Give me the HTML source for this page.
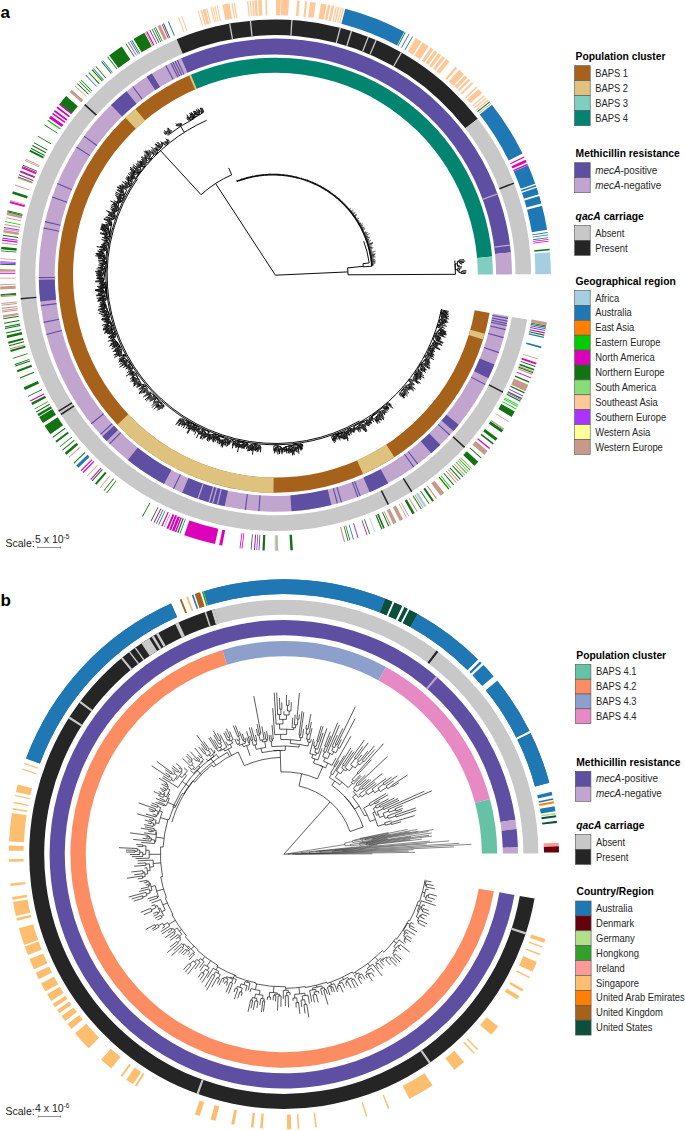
<!DOCTYPE html>
<html><head><meta charset="utf-8">
<style>
html,body{margin:0;padding:0;background:#fff;width:685px;height:1130px;overflow:hidden}
svg{display:block;font-family:"Liberation Sans",sans-serif}
</style></head><body>
<svg width="685" height="1130" viewBox="0 0 685 1130">
<path d="M489.60,312.97A217.5,217.5 0 1 1 190.77,74.84L196.64,88.75A202.4,202.4 0 1 0 474.73,310.35Z" fill="#A6611A"/>
<path d="M190.77,74.84A217.5,217.5 0 0 1 492.11,256.62L477.06,257.91A202.4,202.4 0 0 0 196.64,88.75Z" fill="#018571"/>
<path d="M492.11,256.62A217.5,217.5 0 0 1 492.90,274.44L477.80,274.49A202.4,202.4 0 0 0 477.06,257.91Z" fill="#80CDC1"/>
<path d="M484.89,333.69A217.5,217.5 0 0 1 483.17,339.52L468.75,335.05A202.4,202.4 0 0 0 470.34,329.63Z" fill="#DFC27D"/>
<path d="M394.50,457.20A217.5,217.5 0 0 1 363.17,474.20L357.08,460.39A202.4,202.4 0 0 0 386.23,444.56Z" fill="#DFC27D"/>
<path d="M273.50,492.69A217.5,217.5 0 0 1 117.37,424.64L128.34,414.27A202.4,202.4 0 0 0 273.63,477.59Z" fill="#DFC27D"/>
<path d="M125.41,117.69A217.5,217.5 0 0 1 135.30,108.83L145.03,120.38A202.4,202.4 0 0 0 135.82,128.63Z" fill="#DFC27D"/>
<path d="M189.02,75.59A217.5,217.5 0 0 1 190.77,74.84L196.64,88.75A202.4,202.4 0 0 0 195.02,89.45Z" fill="#DFC27D"/>
<path d="M508.41,316.29A236.6,236.6 0 1 1 181.06,58.22L187.40,72.80A220.7,220.7 0 1 0 492.75,313.52Z" fill="#C2A5CF"/>
<path d="M181.06,58.22A236.6,236.6 0 0 1 510.91,252.52L495.08,254.05A220.7,220.7 0 0 0 187.40,72.80Z" fill="#5E4FA2"/>
<path d="M510.91,252.52A236.6,236.6 0 0 1 512.00,274.37L496.10,274.43A220.7,220.7 0 0 0 495.08,254.05Z" fill="#C2A5CF"/>
<path d="M494.46,364.60A236.6,236.6 0 0 1 488.42,378.18L474.10,371.26A220.7,220.7 0 0 0 479.74,358.59Z" fill="#5E4FA2"/>
<path d="M458.75,424.74A236.6,236.6 0 0 1 453.42,431.05L441.46,420.57A220.7,220.7 0 0 0 446.43,414.69Z" fill="#5E4FA2"/>
<path d="M440.35,444.82A236.6,236.6 0 0 1 431.25,453.22L420.77,441.26A220.7,220.7 0 0 0 429.26,433.42Z" fill="#5E4FA2"/>
<path d="M388.30,483.13A236.6,236.6 0 0 1 369.74,492.18L363.40,477.60A220.7,220.7 0 0 0 380.71,469.15Z" fill="#5E4FA2"/>
<path d="M331.44,505.07A236.6,236.6 0 0 1 291.49,511.25L290.41,495.39A220.7,220.7 0 0 0 327.67,489.62Z" fill="#5E4FA2"/>
<path d="M224.59,506.28A236.6,236.6 0 0 1 182.19,492.67L188.46,478.05A220.7,220.7 0 0 0 228.01,490.75Z" fill="#5E4FA2"/>
<path d="M163.96,483.91A236.6,236.6 0 0 1 127.79,460.11L137.71,447.68A220.7,220.7 0 0 0 171.45,469.89Z" fill="#5E4FA2"/>
<path d="M106.64,441.04A236.6,236.6 0 0 1 102.36,436.56L113.99,425.72A220.7,220.7 0 0 0 117.99,429.89Z" fill="#5E4FA2"/>
<path d="M40.27,301.57A236.6,236.6 0 0 1 38.84,279.74L54.74,279.44A220.7,220.7 0 0 0 56.08,299.80Z" fill="#5E4FA2"/>
<path d="M111.04,105.00A236.6,236.6 0 0 1 126.50,91.33L136.51,103.68A220.7,220.7 0 0 0 122.09,116.44Z" fill="#5E4FA2"/>
<path d="M146.54,76.77A236.6,236.6 0 0 1 151.78,73.47L160.08,87.02A220.7,220.7 0 0 0 155.20,90.11Z" fill="#5E4FA2"/>
<path d="M508.14,317.75A236.6,236.6 0 0 1 507.93,318.89L492.31,315.95A220.7,220.7 0 0 0 492.50,314.89Z" fill="#5E4FA2"/>
<path d="M507.61,320.59A236.6,236.6 0 0 1 507.38,321.72L491.79,318.60A220.7,220.7 0 0 0 492.00,317.54Z" fill="#5E4FA2"/>
<path d="M507.12,323.02A236.6,236.6 0 0 1 506.88,324.15L491.33,320.86A220.7,220.7 0 0 0 491.55,319.80Z" fill="#5E4FA2"/>
<path d="M506.69,325.04A236.6,236.6 0 0 1 506.45,326.17L490.92,322.74A220.7,220.7 0 0 0 491.15,321.69Z" fill="#5E4FA2"/>
<path d="M505.79,329.07A236.6,236.6 0 0 1 505.52,330.19L490.06,326.50A220.7,220.7 0 0 0 490.30,325.45Z" fill="#5E4FA2"/>
<path d="M503.77,337.07A236.6,236.6 0 0 1 503.46,338.19L488.13,333.96A220.7,220.7 0 0 0 488.42,332.92Z" fill="#5E4FA2"/>
<path d="M499.16,352.07A236.6,236.6 0 0 1 498.79,353.17L483.77,347.93A220.7,220.7 0 0 0 484.13,346.91Z" fill="#5E4FA2"/>
<path d="M485.53,383.94A236.6,236.6 0 0 1 485.00,384.96L470.91,377.59A220.7,220.7 0 0 0 471.41,376.63Z" fill="#5E4FA2"/>
<path d="M450.23,434.62A236.6,236.6 0 0 1 449.45,435.47L437.75,424.70A220.7,220.7 0 0 0 438.48,423.90Z" fill="#5E4FA2"/>
<path d="M418.25,463.81A236.6,236.6 0 0 1 417.33,464.50L407.79,451.78A220.7,220.7 0 0 0 408.65,451.13Z" fill="#5E4FA2"/>
<path d="M414.27,466.76A236.6,236.6 0 0 1 413.33,467.44L404.06,454.52A220.7,220.7 0 0 0 404.94,453.89Z" fill="#5E4FA2"/>
<path d="M360.73,495.88A236.6,236.6 0 0 1 359.65,496.29L353.99,481.43A220.7,220.7 0 0 0 355.00,481.05Z" fill="#5E4FA2"/>
<path d="M358.41,496.76A236.6,236.6 0 0 1 357.33,497.16L351.82,482.25A220.7,220.7 0 0 0 352.84,481.87Z" fill="#5E4FA2"/>
<path d="M341.96,502.24A236.6,236.6 0 0 1 340.85,502.57L336.46,487.29A220.7,220.7 0 0 0 337.49,486.99Z" fill="#5E4FA2"/>
<path d="M337.99,503.37A236.6,236.6 0 0 1 336.88,503.67L332.74,488.32A220.7,220.7 0 0 0 333.79,488.04Z" fill="#5E4FA2"/>
<path d="M259.47,511.26A236.6,236.6 0 0 1 258.32,511.18L259.47,495.32A220.7,220.7 0 0 0 260.54,495.40Z" fill="#5E4FA2"/>
<path d="M245.91,509.95A236.6,236.6 0 0 1 244.76,509.81L246.82,494.04A220.7,220.7 0 0 0 247.89,494.18Z" fill="#5E4FA2"/>
<path d="M174.06,489.00A236.6,236.6 0 0 1 173.02,488.50L179.90,474.17A220.7,220.7 0 0 0 180.87,474.63Z" fill="#5E4FA2"/>
<path d="M109.98,444.36A236.6,236.6 0 0 1 109.15,443.55L120.33,432.24A220.7,220.7 0 0 0 121.09,432.99Z" fill="#5E4FA2"/>
<path d="M100.79,434.86A236.6,236.6 0 0 1 100.01,434.01L111.80,423.33A220.7,220.7 0 0 0 112.53,424.13Z" fill="#5E4FA2"/>
<path d="M91.63,424.23A236.6,236.6 0 0 1 90.91,423.33L103.30,413.37A220.7,220.7 0 0 0 103.98,414.21Z" fill="#5E4FA2"/>
<path d="M46.48,335.00A236.6,236.6 0 0 1 46.19,333.88L61.60,329.94A220.7,220.7 0 0 0 61.87,330.98Z" fill="#5E4FA2"/>
<path d="M43.67,322.94A236.6,236.6 0 0 1 43.44,321.80L59.02,318.67A220.7,220.7 0 0 0 59.24,319.73Z" fill="#5E4FA2"/>
<path d="M40.85,306.25A236.6,236.6 0 0 1 40.70,305.10L56.47,303.09A220.7,220.7 0 0 0 56.61,304.16Z" fill="#5E4FA2"/>
<path d="M38.82,278.26A236.6,236.6 0 0 1 38.81,277.10L54.71,276.97A220.7,220.7 0 0 0 54.72,278.05Z" fill="#5E4FA2"/>
<path d="M43.44,228.60A236.6,236.6 0 0 1 43.67,227.46L59.24,230.67A220.7,220.7 0 0 0 59.02,231.73Z" fill="#5E4FA2"/>
<path d="M44.83,222.14A236.6,236.6 0 0 1 45.09,221.01L60.57,224.65A220.7,220.7 0 0 0 60.32,225.70Z" fill="#5E4FA2"/>
<path d="M51.91,197.55A236.6,236.6 0 0 1 52.29,196.45L67.28,201.75A220.7,220.7 0 0 0 66.93,202.76Z" fill="#5E4FA2"/>
<path d="M57.06,184.05A236.6,236.6 0 0 1 57.51,182.98L72.15,189.18A220.7,220.7 0 0 0 71.74,190.17Z" fill="#5E4FA2"/>
<path d="M76.21,147.52A236.6,236.6 0 0 1 76.84,146.55L90.18,155.19A220.7,220.7 0 0 0 89.60,156.10Z" fill="#5E4FA2"/>
<path d="M83.65,136.60A236.6,236.6 0 0 1 84.33,135.66L97.17,145.04A220.7,220.7 0 0 0 96.53,145.91Z" fill="#5E4FA2"/>
<path d="M132.22,86.84A236.6,236.6 0 0 1 133.14,86.14L142.70,98.85A220.7,220.7 0 0 0 141.84,99.50Z" fill="#5E4FA2"/>
<path d="M165.27,65.79A236.6,236.6 0 0 1 166.30,65.26L173.63,79.37A220.7,220.7 0 0 0 172.67,79.87Z" fill="#5E4FA2"/>
<path d="M170.42,63.16A236.6,236.6 0 0 1 171.46,62.65L178.44,76.94A220.7,220.7 0 0 0 177.48,77.41Z" fill="#5E4FA2"/>
<path d="M172.28,62.26A236.6,236.6 0 0 1 173.32,61.76L180.18,76.10A220.7,220.7 0 0 0 179.21,76.57Z" fill="#5E4FA2"/>
<path d="M174.51,61.19A236.6,236.6 0 0 1 175.56,60.70L182.27,75.11A220.7,220.7 0 0 0 181.29,75.57Z" fill="#5E4FA2"/>
<path d="M176.76,60.14A236.6,236.6 0 0 1 177.81,59.66L184.37,74.15A220.7,220.7 0 0 0 183.39,74.60Z" fill="#5E4FA2"/>
<path d="M217.96,504.72A236.6,236.6 0 0 1 216.76,504.42L220.70,489.01A220.7,220.7 0 0 0 221.82,489.30Z" fill="#C2A5CF"/>
<path d="M213.17,503.47A236.6,236.6 0 0 1 211.97,503.14L216.23,487.82A220.7,220.7 0 0 0 217.35,488.13Z" fill="#C2A5CF"/>
<path d="M209.59,502.46A236.6,236.6 0 0 1 208.40,502.12L212.90,486.87A220.7,220.7 0 0 0 214.01,487.19Z" fill="#C2A5CF"/>
<path d="M198.57,498.98A236.6,236.6 0 0 1 197.40,498.57L202.64,483.56A220.7,220.7 0 0 0 203.73,483.94Z" fill="#C2A5CF"/>
<path d="M497.38,193.31A236.6,236.6 0 0 1 497.80,194.47L482.86,199.90A220.7,220.7 0 0 0 482.46,198.81Z" fill="#C2A5CF"/>
<path d="M510.00,244.52A236.6,236.6 0 0 1 510.16,245.75L494.38,247.73A220.7,220.7 0 0 0 494.24,246.58Z" fill="#C2A5CF"/>
<path d="M527.31,319.62A255.8,255.8 0 1 1 176.69,39.21L182.74,53.70A240.1,240.1 0 1 0 511.85,316.89Z" fill="#C8C8C8"/>
<path d="M176.69,39.21A255.8,255.8 0 0 1 477.79,118.77L465.37,128.37A240.1,240.1 0 0 0 182.74,53.70Z" fill="#252525"/>
<path d="M477.79,118.77A255.8,255.8 0 0 1 531.20,274.31L515.50,274.36A240.1,240.1 0 0 0 465.37,128.37Z" fill="#C8C8C8"/>
<path d="M503.27,391.43A255.8,255.8 0 0 1 502.55,392.82L488.61,385.60A240.1,240.1 0 0 0 489.28,384.30Z" fill="#252525"/>
<path d="M465.12,446.78A255.8,255.8 0 0 1 464.07,447.93L452.49,437.33A240.1,240.1 0 0 0 453.48,436.25Z" fill="#252525"/>
<path d="M412.37,491.24A255.8,255.8 0 0 1 411.05,492.07L402.72,478.76A240.1,240.1 0 0 0 403.96,477.98Z" fill="#252525"/>
<path d="M389.04,504.37A255.8,255.8 0 0 1 387.64,505.06L380.75,490.95A240.1,240.1 0 0 0 382.06,490.31Z" fill="#252525"/>
<path d="M61.29,415.17A255.8,255.8 0 0 1 60.44,413.86L73.64,405.35A240.1,240.1 0 0 0 74.44,406.58Z" fill="#252525"/>
<path d="M59.12,411.79A255.8,255.8 0 0 1 58.29,410.47L71.62,402.17A240.1,240.1 0 0 0 72.40,403.41Z" fill="#252525"/>
<path d="M20.77,299.61A255.8,255.8 0 0 1 20.62,298.05L36.26,296.65A240.1,240.1 0 0 0 36.40,298.11Z" fill="#252525"/>
<path d="M84.19,105.28A255.8,255.8 0 0 1 85.23,104.12L96.90,114.62A240.1,240.1 0 0 0 95.92,115.71Z" fill="#252525"/>
<path d="M513.77,182.38A255.8,255.8 0 0 1 514.33,183.84L499.67,189.45A240.1,240.1 0 0 0 499.14,188.08Z" fill="#252525"/>
<path d="M229.00,23.64A255.8,255.8 0 0 1 230.32,23.40L233.09,38.86A240.1,240.1 0 0 0 231.85,39.08Z" fill="#C8C8C8"/>
<path d="M249.77,20.69A255.8,255.8 0 0 1 251.10,20.56L252.60,36.19A240.1,240.1 0 0 0 251.34,36.31Z" fill="#C8C8C8"/>
<path d="M291.24,19.89A255.8,255.8 0 0 1 292.58,19.98L291.52,35.64A240.1,240.1 0 0 0 290.27,35.56Z" fill="#C8C8C8"/>
<path d="M339.66,27.60A255.8,255.8 0 0 1 340.96,27.94L336.94,43.12A240.1,240.1 0 0 0 335.72,42.80Z" fill="#C8C8C8"/>
<path d="M350.83,30.77A255.8,255.8 0 0 1 352.11,31.17L347.40,46.15A240.1,240.1 0 0 0 346.20,45.78Z" fill="#C8C8C8"/>
<path d="M367.70,36.63A255.8,255.8 0 0 1 368.94,37.12L363.20,51.73A240.1,240.1 0 0 0 362.03,51.27Z" fill="#C8C8C8"/>
<path d="M375.55,39.82A255.8,255.8 0 0 1 376.79,40.35L370.56,54.76A240.1,240.1 0 0 0 369.41,54.27Z" fill="#C8C8C8"/>
<path d="M400.78,52.23A255.8,255.8 0 0 1 401.94,52.89L394.18,66.54A240.1,240.1 0 0 0 393.08,65.92Z" fill="#C8C8C8"/>
<path d="M493.96,891.36A213.4,213.4 0 1 1 222.48,649.90L226.90,664.65A198,198 0 1 0 478.79,888.68Z" fill="#FC8D62"/>
<path d="M222.48,649.90A213.4,213.4 0 0 1 385.95,666.94L378.58,680.46A198,198 0 0 0 226.90,664.65Z" fill="#8DA0CB"/>
<path d="M385.95,666.94A213.4,213.4 0 0 1 489.93,799.07L475.05,803.05A198,198 0 0 0 378.58,680.46Z" fill="#E78AC3"/>
<path d="M489.93,799.07A213.4,213.4 0 0 1 497.20,853.56L481.80,853.61A198,198 0 0 0 475.05,803.05Z" fill="#66C2A5"/>
<path d="M514.44,894.97A234.2,234.2 0 1 1 515.43,819.68L500.39,821.93A219,219 0 1 0 499.47,892.33Z" fill="#5E4FA2"/>
<path d="M515.43,819.68A234.2,234.2 0 0 1 516.63,829.01L501.52,830.65A219,219 0 0 0 500.39,821.93Z" fill="#C2A5CF"/>
<path d="M516.63,829.01A234.2,234.2 0 0 1 517.90,847.35L502.70,847.80A219,219 0 0 0 501.52,830.65Z" fill="#5E4FA2"/>
<path d="M517.90,847.35A234.2,234.2 0 0 1 518.00,853.48L502.80,853.54A219,219 0 0 0 502.70,847.80Z" fill="#C2A5CF"/>
<path d="M436.06,676.35A234.2,234.2 0 0 1 437.60,677.68L427.62,689.14A219,219 0 0 0 426.17,687.90Z" fill="#C2A5CF"/>
<path d="M534.53,898.51A254.6,254.6 0 1 1 214.48,609.32L218.56,623.75A239.6,239.6 0 1 0 519.76,895.91Z" fill="#252525"/>
<path d="M214.48,609.32A254.6,254.6 0 0 1 538.40,853.41L523.40,853.46A239.6,239.6 0 0 0 218.56,623.75Z" fill="#C8C8C8"/>
<path d="M526.14,932.34A254.6,254.6 0 0 1 525.45,934.45L511.22,929.73A239.6,239.6 0 0 0 511.87,927.74Z" fill="#C8C8C8"/>
<path d="M430.74,1062.22A254.6,254.6 0 0 1 428.92,1063.49L420.37,1051.17A239.6,239.6 0 0 0 422.08,1049.97Z" fill="#C8C8C8"/>
<path d="M198.60,1094.22A254.6,254.6 0 0 1 196.51,1093.47L201.66,1079.38A239.6,239.6 0 0 0 203.62,1080.09Z" fill="#C8C8C8"/>
<path d="M68.48,718.44A254.6,254.6 0 0 1 69.67,716.57L82.29,724.68A239.6,239.6 0 0 0 81.16,726.45Z" fill="#C8C8C8"/>
<path d="M79.27,702.68A254.6,254.6 0 0 1 80.60,700.90L92.57,709.94A239.6,239.6 0 0 0 91.32,711.61Z" fill="#C8C8C8"/>
<path d="M436.49,650.57A254.6,254.6 0 0 1 438.26,651.91L429.16,663.83A239.6,239.6 0 0 0 427.49,662.57Z" fill="#252525"/>
<path d="M26.05,758.44A275,275 0 0 1 171.07,603.47L177.14,616.97A260.2,260.2 0 0 0 39.92,763.60Z" fill="#1F78B4"/>
<path d="M210.31,589.30A275,275 0 0 1 385.48,598.79L380.01,612.54A260.2,260.2 0 0 0 214.26,603.56Z" fill="#1F78B4"/>
<path d="M385.48,598.79A275,275 0 0 1 417.54,614.01L410.34,626.94A260.2,260.2 0 0 0 380.01,612.54Z" fill="#0B4F3C"/>
<path d="M417.54,614.01A275,275 0 0 1 477.91,659.51L467.47,669.99A260.2,260.2 0 0 0 410.34,626.94Z" fill="#1F78B4"/>
<path d="M483.28,665.00A275,275 0 0 1 492.91,675.70L481.66,685.31A260.2,260.2 0 0 0 472.54,675.19Z" fill="#1F78B4"/>
<path d="M497.52,681.24A275,275 0 0 1 529.48,730.74L516.26,737.39A260.2,260.2 0 0 0 486.01,690.55Z" fill="#1F78B4"/>
<path d="M530.55,732.89A275,275 0 0 1 549.30,782.66L535.02,786.52A260.2,260.2 0 0 0 517.27,739.42Z" fill="#1F78B4"/>
<path d="M558.58,843.26A275,275 0 0 1 558.68,846.14L543.89,846.58A260.2,260.2 0 0 0 543.79,843.86Z" fill="#FB9A99"/>
<path d="M558.68,846.14A275,275 0 0 1 558.79,851.90L543.99,852.03A260.2,260.2 0 0 0 543.89,846.58Z" fill="#67000D"/>
<text x="575.6" y="59.9" font-size="10.3" font-weight="bold">Population cluster</text>
<rect x="574.6" y="65.70" width="15.6" height="15.0" fill="#A6611A" stroke="#555" stroke-width="0.6"/>
<text transform="translate(595.20,76.80) scale(0.94,1)" font-size="10" fill="#262626">BAPS 1</text>
<rect x="574.6" y="80.70" width="15.6" height="15.0" fill="#DFC27D" stroke="#555" stroke-width="0.6"/>
<text transform="translate(595.20,91.80) scale(0.94,1)" font-size="10" fill="#262626">BAPS 2</text>
<rect x="574.6" y="95.70" width="15.6" height="15.0" fill="#80CDC1" stroke="#555" stroke-width="0.6"/>
<text transform="translate(595.20,106.80) scale(0.94,1)" font-size="10" fill="#262626">BAPS 3</text>
<rect x="574.6" y="110.70" width="15.6" height="15.0" fill="#018571" stroke="#555" stroke-width="0.6"/>
<text transform="translate(595.20,121.80) scale(0.94,1)" font-size="10" fill="#262626">BAPS 4</text>
<text x="575.6" y="156.9" font-size="10.3" font-weight="bold">Methicillin resistance</text>
<rect x="574.6" y="162.70" width="15.6" height="15.0" fill="#5E4FA2" stroke="#555" stroke-width="0.6"/>
<text transform="translate(595.20,173.80) scale(0.99,1)" font-size="10" fill="#262626"><tspan font-style="italic">mecA</tspan>-positive</text>
<rect x="574.6" y="177.70" width="15.6" height="15.0" fill="#C2A5CF" stroke="#555" stroke-width="0.6"/>
<text transform="translate(595.20,188.80) scale(0.99,1)" font-size="10" fill="#262626"><tspan font-style="italic">mecA</tspan>-negative</text>
<text x="575.6" y="219.6" font-size="10.3" font-weight="bold"><tspan font-style="italic">qacA</tspan> carriage</text>
<rect x="574.6" y="225.40" width="15.6" height="15.0" fill="#C8C8C8" stroke="#555" stroke-width="0.6"/>
<text transform="translate(595.20,236.50) scale(0.94,1)" font-size="10" fill="#262626">Absent</text>
<rect x="574.6" y="240.40" width="15.6" height="15.0" fill="#252525" stroke="#555" stroke-width="0.6"/>
<text transform="translate(595.20,251.50) scale(0.94,1)" font-size="10" fill="#262626">Present</text>
<text x="575.6" y="284.7" font-size="10.3" font-weight="bold">Geographical region</text>
<rect x="574.6" y="290.50" width="15.6" height="14.9" fill="#A6CEE3" stroke="#555" stroke-width="0.6"/>
<text transform="translate(595.20,301.55) scale(0.94,1)" font-size="10" fill="#262626">Africa</text>
<rect x="574.6" y="305.40" width="15.6" height="14.9" fill="#1F78B4" stroke="#555" stroke-width="0.6"/>
<text transform="translate(595.20,316.45) scale(0.94,1)" font-size="10" fill="#262626">Australia</text>
<rect x="574.6" y="320.30" width="15.6" height="14.9" fill="#FF7F00" stroke="#555" stroke-width="0.6"/>
<text transform="translate(595.20,331.35) scale(0.94,1)" font-size="10" fill="#262626">East Asia</text>
<rect x="574.6" y="335.20" width="15.6" height="14.9" fill="#00CC00" stroke="#555" stroke-width="0.6"/>
<text transform="translate(595.20,346.25) scale(0.94,1)" font-size="10" fill="#262626">Eastern Europe</text>
<rect x="574.6" y="350.10" width="15.6" height="14.9" fill="#DD00BB" stroke="#555" stroke-width="0.6"/>
<text transform="translate(595.20,361.15) scale(0.94,1)" font-size="10" fill="#262626">North America</text>
<rect x="574.6" y="365.00" width="15.6" height="14.9" fill="#137313" stroke="#555" stroke-width="0.6"/>
<text transform="translate(595.20,376.05) scale(0.94,1)" font-size="10" fill="#262626">Northern Europe</text>
<rect x="574.6" y="379.90" width="15.6" height="14.9" fill="#88DD77" stroke="#555" stroke-width="0.6"/>
<text transform="translate(595.20,390.95) scale(0.94,1)" font-size="10" fill="#262626">South America</text>
<rect x="574.6" y="394.80" width="15.6" height="14.9" fill="#FFC896" stroke="#555" stroke-width="0.6"/>
<text transform="translate(595.20,405.85) scale(0.94,1)" font-size="10" fill="#262626">Southeast Asia</text>
<rect x="574.6" y="409.70" width="15.6" height="14.9" fill="#AA33FF" stroke="#555" stroke-width="0.6"/>
<text transform="translate(595.20,420.75) scale(0.94,1)" font-size="10" fill="#262626">Southern Europe</text>
<rect x="574.6" y="424.60" width="15.6" height="14.9" fill="#FFFF99" stroke="#555" stroke-width="0.6"/>
<text transform="translate(595.20,435.65) scale(0.94,1)" font-size="10" fill="#262626">Western Asia</text>
<rect x="574.6" y="439.50" width="15.6" height="14.9" fill="#C8998A" stroke="#555" stroke-width="0.6"/>
<text transform="translate(595.20,450.55) scale(0.94,1)" font-size="10" fill="#262626">Western Europe</text>
<text x="576.3" y="658.6" font-size="10.3" font-weight="bold">Population cluster</text>
<rect x="575.3" y="664.40" width="15.6" height="14.8" fill="#66C2A5" stroke="#555" stroke-width="0.6"/>
<text transform="translate(595.90,675.40) scale(0.94,1)" font-size="10" fill="#262626">BAPS 4.1</text>
<rect x="575.3" y="679.20" width="15.6" height="14.8" fill="#FC8D62" stroke="#555" stroke-width="0.6"/>
<text transform="translate(595.90,690.20) scale(0.94,1)" font-size="10" fill="#262626">BAPS 4.2</text>
<rect x="575.3" y="694.00" width="15.6" height="14.8" fill="#8DA0CB" stroke="#555" stroke-width="0.6"/>
<text transform="translate(595.90,705.00) scale(0.94,1)" font-size="10" fill="#262626">BAPS 4.3</text>
<rect x="575.3" y="708.80" width="15.6" height="14.8" fill="#E78AC3" stroke="#555" stroke-width="0.6"/>
<text transform="translate(595.90,719.80) scale(0.94,1)" font-size="10" fill="#262626">BAPS 4.4</text>
<text x="576.3" y="765.5" font-size="10.3" font-weight="bold">Methicillin resistance</text>
<rect x="575.3" y="771.30" width="15.6" height="15.0" fill="#5E4FA2" stroke="#555" stroke-width="0.6"/>
<text transform="translate(595.90,782.40) scale(0.99,1)" font-size="10" fill="#262626"><tspan font-style="italic">mecA</tspan>-positive</text>
<rect x="575.3" y="786.30" width="15.6" height="15.0" fill="#C2A5CF" stroke="#555" stroke-width="0.6"/>
<text transform="translate(595.90,797.40) scale(0.99,1)" font-size="10" fill="#262626"><tspan font-style="italic">mecA</tspan>-negative</text>
<text x="576.3" y="828.6" font-size="10.3" font-weight="bold"><tspan font-style="italic">qacA</tspan> carriage</text>
<rect x="575.3" y="834.40" width="15.6" height="15.0" fill="#C8C8C8" stroke="#555" stroke-width="0.6"/>
<text transform="translate(595.90,845.50) scale(0.94,1)" font-size="10" fill="#262626">Absent</text>
<rect x="575.3" y="849.40" width="15.6" height="15.0" fill="#252525" stroke="#555" stroke-width="0.6"/>
<text transform="translate(595.90,860.50) scale(0.94,1)" font-size="10" fill="#262626">Present</text>
<text x="576.5" y="895.2" font-size="10.3" font-weight="bold">Country/Region</text>
<rect x="575.5" y="901.00" width="15.6" height="14.9" fill="#1F78B4" stroke="#555" stroke-width="0.6"/>
<text transform="translate(596.10,912.05) scale(0.94,1)" font-size="10" fill="#262626">Australia</text>
<rect x="575.5" y="915.90" width="15.6" height="14.9" fill="#67000D" stroke="#555" stroke-width="0.6"/>
<text transform="translate(596.10,926.95) scale(0.94,1)" font-size="10" fill="#262626">Denmark</text>
<rect x="575.5" y="930.80" width="15.6" height="14.9" fill="#B2DF8A" stroke="#555" stroke-width="0.6"/>
<text transform="translate(596.10,941.85) scale(0.94,1)" font-size="10" fill="#262626">Germany</text>
<rect x="575.5" y="945.70" width="15.6" height="14.9" fill="#33A02C" stroke="#555" stroke-width="0.6"/>
<text transform="translate(596.10,956.75) scale(0.94,1)" font-size="10" fill="#262626">Hongkong</text>
<rect x="575.5" y="960.60" width="15.6" height="14.9" fill="#FB9A99" stroke="#555" stroke-width="0.6"/>
<text transform="translate(596.10,971.65) scale(0.94,1)" font-size="10" fill="#262626">Ireland</text>
<rect x="575.5" y="975.50" width="15.6" height="14.9" fill="#FDBF6F" stroke="#555" stroke-width="0.6"/>
<text transform="translate(596.10,986.55) scale(0.94,1)" font-size="10" fill="#262626">Singapore</text>
<rect x="575.5" y="990.40" width="15.6" height="14.9" fill="#FF7F00" stroke="#555" stroke-width="0.6"/>
<text transform="translate(596.10,1001.45) scale(0.94,1)" font-size="10" fill="#262626">United Arab Emirates</text>
<rect x="575.5" y="1005.30" width="15.6" height="14.9" fill="#A6611A" stroke="#555" stroke-width="0.6"/>
<text transform="translate(596.10,1016.35) scale(0.94,1)" font-size="10" fill="#262626">United Kingdom</text>
<rect x="575.5" y="1020.20" width="15.6" height="14.9" fill="#0B4F3C" stroke="#555" stroke-width="0.6"/>
<text transform="translate(596.10,1031.25) scale(0.94,1)" font-size="10" fill="#262626">United States</text>
<text x="0.5" y="17.5" font-size="17" font-weight="bold">a</text>
<text x="0.5" y="606.3" font-size="17" font-weight="bold">b</text>
<text x="5.5" y="546.6" font-size="10.5" fill="#222">Scale:</text>
<text x="35" y="543.4" font-size="10.5" fill="#222">5 x 10<tspan font-size="6.5" dy="-4">-5</tspan></text>
<path d="M37.7,547.5H60.6M37.7,546.5V548.5M60.6,546.5V548.5" stroke="#444" stroke-width="0.6" fill="none"/>
<text x="5.5" y="1115.3" font-size="10.5" fill="#222">Scale:</text>
<text x="35" y="1111.8" font-size="10.5" fill="#222">4 x 10<tspan font-size="6.5" dy="-4">-6</tspan></text>
<path d="M38.2,1116.5H60.6M38.2,1115.5V1117.5M60.6,1115.5V1117.5" stroke="#444" stroke-width="0.6" fill="none"/>
<path d="M345.31,8.72A275.5,275.5 0 0 1 404.31,31.72L397.06,45.42A260,260 0 0 0 341.38,23.71Z" fill="#1F78B4"/>
<path d="M491.90,104.83A275.5,275.5 0 0 1 522.59,153.57L508.69,160.41A260,260 0 0 0 479.72,114.41Z" fill="#1F78B4"/>
<path d="M528.05,165.34A275.5,275.5 0 0 1 535.26,183.69L520.64,188.84A260,260 0 0 0 513.84,171.53Z" fill="#1F78B4"/>
<path d="M535.73,185.05A275.5,275.5 0 0 1 536.20,186.42L521.53,191.41A260,260 0 0 0 521.09,190.12Z" fill="#1F78B4"/>
<path d="M536.66,187.78A275.5,275.5 0 0 1 538.72,194.19L523.91,198.75A260,260 0 0 0 521.96,192.70Z" fill="#1F78B4"/>
<path d="M539.28,196.03A275.5,275.5 0 0 1 541.39,203.43L526.42,207.47A260,260 0 0 0 524.43,200.49Z" fill="#1F78B4"/>
<path d="M542.00,205.75A275.5,275.5 0 0 1 547.12,229.73L531.83,232.29A260,260 0 0 0 527.00,209.66Z" fill="#1F78B4"/>
<path d="M549.93,252.15A275.5,275.5 0 0 1 550.90,274.24L535.40,274.29A260,260 0 0 0 534.49,253.44Z" fill="#A6CEE3"/>
<path d="M415.64,38.07A275.5,275.5 0 0 1 421.39,41.56L413.18,54.71A260,260 0 0 0 407.75,51.41Z" fill="#FFC896"/>
<path d="M422.61,42.33A275.5,275.5 0 0 1 428.66,46.26L420.04,59.14A260,260 0 0 0 414.33,55.43Z" fill="#FFC896"/>
<path d="M430.65,47.61A275.5,275.5 0 0 1 433.42,49.52L424.53,62.22A260,260 0 0 0 421.92,60.41Z" fill="#FFC896"/>
<path d="M434.60,50.35A275.5,275.5 0 0 1 437.33,52.32L428.22,64.86A260,260 0 0 0 425.64,63.00Z" fill="#FFC896"/>
<path d="M438.50,53.17A275.5,275.5 0 0 1 441.20,55.18L431.87,67.55A260,260 0 0 0 429.32,65.66Z" fill="#FFC896"/>
<path d="M442.35,56.05A275.5,275.5 0 0 1 445.01,58.10L435.47,70.32A260,260 0 0 0 432.96,68.38Z" fill="#FFC896"/>
<path d="M446.15,58.99A275.5,275.5 0 0 1 449.52,61.70L439.73,73.71A260,260 0 0 0 436.54,71.16Z" fill="#FFC896"/>
<path d="M455.42,66.65A275.5,275.5 0 0 1 457.23,68.23L447.00,79.87A260,260 0 0 0 445.29,78.38Z" fill="#FFC896"/>
<path d="M459.03,69.82A275.5,275.5 0 0 1 463.99,74.37L453.38,85.67A260,260 0 0 0 448.70,81.38Z" fill="#FFC896"/>
<path d="M465.04,75.36A275.5,275.5 0 0 1 467.47,77.69L456.66,88.80A260,260 0 0 0 454.37,86.60Z" fill="#FFC896"/>
<path d="M468.50,78.70A275.5,275.5 0 0 1 470.21,80.39L459.25,91.35A260,260 0 0 0 457.64,89.75Z" fill="#FFC896"/>
<path d="M471.90,82.10A275.5,275.5 0 0 1 473.24,83.48L462.11,94.26A260,260 0 0 0 460.85,92.96Z" fill="#FFC896"/>
<path d="M476.23,86.61A275.5,275.5 0 0 1 477.22,87.66L465.86,98.21A260,260 0 0 0 464.93,97.22Z" fill="#FFC896"/>
<path d="M478.52,89.07A275.5,275.5 0 0 1 482.06,93.01L470.43,103.26A260,260 0 0 0 467.09,99.55Z" fill="#FFC896"/>
<path d="M483.95,95.18A275.5,275.5 0 0 1 484.89,96.28L473.11,106.34A260,260 0 0 0 472.22,105.31Z" fill="#FFC896"/>
<path d="M485.83,97.38A275.5,275.5 0 0 1 486.75,98.48L474.86,108.42A260,260 0 0 0 473.99,107.38Z" fill="#FFC896"/>
<path d="M487.68,99.59A275.5,275.5 0 0 1 488.59,100.70L476.60,110.52A260,260 0 0 0 475.73,109.47Z" fill="#FFC896"/>
<path d="M546.86,322.23A275.5,275.5 0 0 1 546.31,325.27L531.07,322.46A260,260 0 0 0 531.58,319.58Z" fill="#C8998A"/>
<path d="M546.26,325.57A275.5,275.5 0 0 1 546.10,326.38L530.87,323.50A260,260 0 0 0 531.02,322.74Z" fill="#137313"/>
<path d="M546.01,326.86A275.5,275.5 0 0 1 545.86,327.67L530.64,324.72A260,260 0 0 0 530.79,323.96Z" fill="#137313"/>
<path d="M545.74,328.25A275.5,275.5 0 0 1 545.54,329.26L530.35,326.22A260,260 0 0 0 530.53,325.26Z" fill="#AA33FF"/>
<path d="M545.38,330.05A275.5,275.5 0 0 1 545.18,331.06L530.00,327.92A260,260 0 0 0 530.20,326.96Z" fill="#1F78B4"/>
<path d="M544.90,332.36A275.5,275.5 0 0 1 544.65,333.57L529.50,330.29A260,260 0 0 0 529.74,329.15Z" fill="#DD00BB"/>
<path d="M544.43,334.56A275.5,275.5 0 0 1 544.16,335.76L529.04,332.36A260,260 0 0 0 529.29,331.22Z" fill="#137313"/>
<path d="M543.95,336.71A275.5,275.5 0 0 1 543.67,337.92L528.57,334.39A260,260 0 0 0 528.84,333.25Z" fill="#1F78B4"/>
<path d="M541.49,346.57A275.5,275.5 0 0 1 541.06,348.16L526.12,344.06A260,260 0 0 0 526.52,342.56Z" fill="#1F78B4"/>
<path d="M537.98,358.59A275.5,275.5 0 0 1 537.73,359.37L522.97,354.64A260,260 0 0 0 523.20,353.89Z" fill="#C8998A"/>
<path d="M536.65,362.67A275.5,275.5 0 0 1 535.98,364.62L521.32,359.59A260,260 0 0 0 521.95,357.75Z" fill="#DD00BB"/>
<path d="M535.50,366.01A275.5,275.5 0 0 1 535.16,366.99L520.55,361.82A260,260 0 0 0 520.87,360.90Z" fill="#137313"/>
<path d="M534.41,369.09A275.5,275.5 0 0 1 533.88,370.55L519.33,365.18A260,260 0 0 0 519.83,363.81Z" fill="#137313"/>
<path d="M533.62,371.24A275.5,275.5 0 0 1 533.26,372.20L518.75,366.75A260,260 0 0 0 519.09,365.83Z" fill="#C8998A"/>
<path d="M533.25,372.24A275.5,275.5 0 0 1 532.88,373.20L518.39,367.69A260,260 0 0 0 518.74,366.78Z" fill="#137313"/>
<path d="M532.66,373.78A275.5,275.5 0 0 1 532.21,374.94L517.76,369.33A260,260 0 0 0 518.18,368.24Z" fill="#C8998A"/>
<path d="M531.25,377.39A275.5,275.5 0 0 1 530.86,378.35L516.49,372.55A260,260 0 0 0 516.85,371.64Z" fill="#DD00BB"/>
<path d="M529.55,381.55A275.5,275.5 0 0 1 529.07,382.69L514.79,376.64A260,260 0 0 0 515.25,375.56Z" fill="#137313"/>
<path d="M528.23,384.63A275.5,275.5 0 0 1 525.28,391.22L511.22,384.70A260,260 0 0 0 514.01,378.48Z" fill="#C8998A"/>
<path d="M524.76,392.34A275.5,275.5 0 0 1 524.23,393.46L510.23,386.80A260,260 0 0 0 510.73,385.75Z" fill="#137313"/>
<path d="M523.26,395.47A275.5,275.5 0 0 1 522.81,396.40L508.89,389.58A260,260 0 0 0 509.32,388.71Z" fill="#AA33FF"/>
<path d="M521.99,398.06A275.5,275.5 0 0 1 521.43,399.17L507.59,392.19A260,260 0 0 0 508.12,391.15Z" fill="#137313"/>
<path d="M521.32,399.39A275.5,275.5 0 0 1 520.95,400.13L507.13,393.10A260,260 0 0 0 507.48,392.41Z" fill="#AA33FF"/>
<path d="M520.69,400.64A275.5,275.5 0 0 1 520.12,401.74L506.35,394.62A260,260 0 0 0 506.89,393.58Z" fill="#137313"/>
<path d="M518.55,404.73A275.5,275.5 0 0 1 518.16,405.46L504.50,398.13A260,260 0 0 0 504.87,397.44Z" fill="#00CC00"/>
<path d="M517.75,406.23A275.5,275.5 0 0 1 517.35,406.95L503.74,399.54A260,260 0 0 0 504.11,398.85Z" fill="#00CC00"/>
<path d="M516.39,408.71A275.5,275.5 0 0 1 515.99,409.43L502.45,401.88A260,260 0 0 0 502.83,401.20Z" fill="#00CC00"/>
<path d="M514.78,411.58A275.5,275.5 0 0 1 511.65,416.92L498.36,408.95A260,260 0 0 0 501.31,403.91Z" fill="#137313"/>
<path d="M508.90,421.42A275.5,275.5 0 0 1 508.46,422.12L495.34,413.85A260,260 0 0 0 495.76,413.19Z" fill="#C8998A"/>
<path d="M504.23,428.61A275.5,275.5 0 0 1 503.66,429.47L490.81,420.79A260,260 0 0 0 491.36,419.98Z" fill="#C8998A"/>
<path d="M503.27,430.04A275.5,275.5 0 0 1 501.51,432.60L488.79,423.74A260,260 0 0 0 490.45,421.33Z" fill="#137313"/>
<path d="M503.99,428.97A275.5,275.5 0 0 1 503.53,429.66L490.70,420.97A260,260 0 0 0 491.13,420.32Z" fill="#C8998A"/>
<path d="M497.50,438.21A275.5,275.5 0 0 1 495.65,440.70L483.26,431.39A260,260 0 0 0 485.00,429.04Z" fill="#137313"/>
<path d="M493.77,443.17A275.5,275.5 0 0 1 492.82,444.40L480.59,434.88A260,260 0 0 0 481.48,433.72Z" fill="#137313"/>
<path d="M490.06,447.89A275.5,275.5 0 0 1 489.21,448.94L477.18,439.16A260,260 0 0 0 477.98,438.18Z" fill="#DD00BB"/>
<path d="M487.61,450.89A275.5,275.5 0 0 1 484.28,454.83L472.53,444.73A260,260 0 0 0 475.67,441.01Z" fill="#C8998A"/>
<path d="M481.67,457.83A275.5,275.5 0 0 1 481.12,458.44L469.55,448.14A260,260 0 0 0 470.07,447.55Z" fill="#137313"/>
<path d="M478.21,461.66A275.5,275.5 0 0 1 474.33,465.80L463.14,455.07A260,260 0 0 0 466.80,451.17Z" fill="#137313"/>
<path d="M472.00,468.20A275.5,275.5 0 0 1 471.28,468.93L460.26,458.03A260,260 0 0 0 460.94,457.34Z" fill="#C8998A"/>
<path d="M470.40,469.82A275.5,275.5 0 0 1 469.81,470.40L458.88,459.42A260,260 0 0 0 459.43,458.87Z" fill="#00CC00"/>
<path d="M468.93,471.28A275.5,275.5 0 0 1 468.19,472.01L457.34,460.93A260,260 0 0 0 458.04,460.25Z" fill="#C8998A"/>
<path d="M467.09,473.08A275.5,275.5 0 0 1 466.49,473.65L455.74,462.49A260,260 0 0 0 456.30,461.95Z" fill="#00CC00"/>
<path d="M465.17,474.92A275.5,275.5 0 0 1 464.42,475.63L453.78,464.35A260,260 0 0 0 454.49,463.68Z" fill="#C8998A"/>
<path d="M463.36,476.62A275.5,275.5 0 0 1 462.60,477.33L452.07,465.95A260,260 0 0 0 452.79,465.29Z" fill="#137313"/>
<path d="M460.80,478.99A275.5,275.5 0 0 1 460.03,479.68L449.64,468.17A260,260 0 0 0 450.37,467.52Z" fill="#137313"/>
<path d="M458.79,480.79A275.5,275.5 0 0 1 458.02,481.48L447.75,469.87A260,260 0 0 0 448.47,469.22Z" fill="#C8998A"/>
<path d="M456.87,482.49A275.5,275.5 0 0 1 456.09,483.17L445.93,471.47A260,260 0 0 0 446.66,470.83Z" fill="#C8998A"/>
<path d="M454.24,484.76A275.5,275.5 0 0 1 453.45,485.43L443.43,473.60A260,260 0 0 0 444.18,472.97Z" fill="#137313"/>
<path d="M451.04,487.46A275.5,275.5 0 0 1 450.40,487.98L440.55,476.01A260,260 0 0 0 441.15,475.51Z" fill="#00CC00"/>
<path d="M449.38,488.81A275.5,275.5 0 0 1 448.42,489.59L438.69,477.53A260,260 0 0 0 439.60,476.79Z" fill="#137313"/>
<path d="M447.83,490.07A275.5,275.5 0 0 1 447.18,490.59L437.52,478.47A260,260 0 0 0 438.12,477.98Z" fill="#FFFF99"/>
<path d="M444.17,492.96A275.5,275.5 0 0 1 440.47,495.77L431.18,483.36A260,260 0 0 0 434.67,480.71Z" fill="#C8998A"/>
<path d="M436.99,498.33A275.5,275.5 0 0 1 435.98,499.06L426.95,486.46A260,260 0 0 0 427.90,485.78Z" fill="#C8998A"/>
<path d="M433.96,500.50A275.5,275.5 0 0 1 432.27,501.68L423.45,488.93A260,260 0 0 0 425.04,487.82Z" fill="#137313"/>
<path d="M429.49,503.58A275.5,275.5 0 0 1 428.81,504.04L420.18,491.16A260,260 0 0 0 420.82,490.73Z" fill="#137313"/>
<path d="M426.41,505.63A275.5,275.5 0 0 1 424.25,507.03L415.87,493.99A260,260 0 0 0 417.91,492.66Z" fill="#A6CEE3"/>
<path d="M423.54,507.48A275.5,275.5 0 0 1 422.67,508.03L414.39,494.93A260,260 0 0 0 415.21,494.41Z" fill="#C8998A"/>
<path d="M421.71,508.64A275.5,275.5 0 0 1 420.84,509.18L412.66,496.02A260,260 0 0 0 413.48,495.50Z" fill="#137313"/>
<path d="M417.54,511.20A275.5,275.5 0 0 1 416.66,511.73L408.71,498.42A260,260 0 0 0 409.54,497.92Z" fill="#C8998A"/>
<path d="M414.68,512.90A275.5,275.5 0 0 1 412.45,514.19L404.74,500.75A260,260 0 0 0 406.85,499.52Z" fill="#137313"/>
<path d="M409.13,516.07A275.5,275.5 0 0 1 408.40,516.47L400.92,502.89A260,260 0 0 0 401.60,502.52Z" fill="#C8998A"/>
<path d="M406.90,517.29A275.5,275.5 0 0 1 406.17,517.69L398.81,504.04A260,260 0 0 0 399.50,503.67Z" fill="#C8998A"/>
<path d="M403.09,519.32A275.5,275.5 0 0 1 399.88,520.98L392.87,507.15A260,260 0 0 0 395.90,505.59Z" fill="#C8998A"/>
<path d="M396.64,522.59A275.5,275.5 0 0 1 393.38,524.16L386.75,510.15A260,260 0 0 0 389.82,508.67Z" fill="#C8998A"/>
<path d="M391.16,525.20A275.5,275.5 0 0 1 390.22,525.63L383.76,511.54A260,260 0 0 0 384.64,511.14Z" fill="#C8998A"/>
<path d="M389.26,526.07A275.5,275.5 0 0 1 388.32,526.50L381.97,512.36A260,260 0 0 0 382.85,511.96Z" fill="#137313"/>
<path d="M384.76,528.07A275.5,275.5 0 0 1 383.34,528.68L377.26,514.41A260,260 0 0 0 378.61,513.84Z" fill="#137313"/>
<path d="M382.53,529.02A275.5,275.5 0 0 1 381.39,529.50L375.43,515.19A260,260 0 0 0 376.51,514.74Z" fill="#137313"/>
<path d="M375.42,531.90A275.5,275.5 0 0 1 374.65,532.20L369.07,517.74A260,260 0 0 0 369.79,517.46Z" fill="#A6CEE3"/>
<path d="M370.13,533.90A275.5,275.5 0 0 1 369.35,534.18L364.07,519.61A260,260 0 0 0 364.80,519.35Z" fill="#137313"/>
<path d="M367.46,534.86A275.5,275.5 0 0 1 366.69,535.14L361.55,520.51A260,260 0 0 0 362.29,520.25Z" fill="#DD00BB"/>
<path d="M358.61,537.83A275.5,275.5 0 0 1 357.63,538.14L353.00,523.35A260,260 0 0 0 353.93,523.06Z" fill="#AA33FF"/>
<path d="M353.88,539.28A275.5,275.5 0 0 1 353.09,539.52L348.72,524.65A260,260 0 0 0 349.47,524.43Z" fill="#1F78B4"/>
<path d="M350.31,540.32A275.5,275.5 0 0 1 349.52,540.54L345.35,525.61A260,260 0 0 0 346.10,525.40Z" fill="#137313"/>
<path d="M348.45,540.84A275.5,275.5 0 0 1 347.66,541.06L343.59,526.10A260,260 0 0 0 344.34,525.89Z" fill="#137313"/>
<path d="M345.06,541.75A275.5,275.5 0 0 1 343.87,542.06L340.01,527.04A260,260 0 0 0 341.14,526.75Z" fill="#C8998A"/>
<path d="M292.93,550.14A275.5,275.5 0 0 1 290.36,550.29L289.52,534.82A260,260 0 0 0 291.95,534.67Z" fill="#137313"/>
<path d="M277.46,550.69A275.5,275.5 0 0 1 276.64,550.70L276.57,535.20A260,260 0 0 0 277.34,535.19Z" fill="#137313"/>
<path d="M275.61,550.70A275.5,275.5 0 0 1 274.78,550.70L274.82,535.20A260,260 0 0 0 275.60,535.20Z" fill="#C8998A"/>
<path d="M264.70,550.49A275.5,275.5 0 0 1 262.43,550.39L263.16,534.91A260,260 0 0 0 265.30,535.00Z" fill="#137313"/>
<path d="M259.40,550.23A275.5,275.5 0 0 1 258.57,550.19L259.52,534.71A260,260 0 0 0 260.30,534.76Z" fill="#DD00BB"/>
<path d="M257.14,550.09A275.5,275.5 0 0 1 256.31,550.04L257.39,534.58A260,260 0 0 0 258.16,534.63Z" fill="#1F78B4"/>
<path d="M254.98,549.94A275.5,275.5 0 0 1 253.95,549.86L255.16,534.41A260,260 0 0 0 256.13,534.48Z" fill="#DD00BB"/>
<path d="M251.50,549.66A275.5,275.5 0 0 1 250.68,549.59L252.07,534.15A260,260 0 0 0 252.84,534.22Z" fill="#137313"/>
<path d="M242.41,548.72A275.5,275.5 0 0 1 241.59,548.62L243.49,533.23A260,260 0 0 0 244.27,533.33Z" fill="#DD00BB"/>
<path d="M240.38,548.47A275.5,275.5 0 0 1 239.56,548.36L241.58,532.99A260,260 0 0 0 242.35,533.09Z" fill="#DD00BB"/>
<path d="M222.19,545.51A275.5,275.5 0 0 1 219.16,544.90L222.32,529.73A260,260 0 0 0 225.19,530.31Z" fill="#DD00BB"/>
<path d="M214.98,543.99A275.5,275.5 0 0 1 184.25,535.18L189.37,520.56A260,260 0 0 0 218.38,528.87Z" fill="#DD00BB"/>
<path d="M180.36,533.79A275.5,275.5 0 0 1 179.59,533.50L184.98,518.97A260,260 0 0 0 185.71,519.24Z" fill="#1F78B4"/>
<path d="M178.32,533.03A275.5,275.5 0 0 1 177.16,532.59L182.69,518.11A260,260 0 0 0 183.78,518.52Z" fill="#137313"/>
<path d="M176.23,532.23A275.5,275.5 0 0 1 174.79,531.67L180.45,517.24A260,260 0 0 0 181.81,517.77Z" fill="#DD00BB"/>
<path d="M174.30,531.48A275.5,275.5 0 0 1 171.90,530.52L177.73,516.16A260,260 0 0 0 179.99,517.06Z" fill="#DD00BB"/>
<path d="M171.14,530.21A275.5,275.5 0 0 1 169.23,529.42L175.21,515.12A260,260 0 0 0 177.01,515.86Z" fill="#DD00BB"/>
<path d="M168.40,529.07A275.5,275.5 0 0 1 166.50,528.26L172.63,514.03A260,260 0 0 0 174.42,514.79Z" fill="#DD00BB"/>
<path d="M164.55,527.41A275.5,275.5 0 0 1 163.79,527.08L170.07,512.91A260,260 0 0 0 170.78,513.22Z" fill="#C8998A"/>
<path d="M162.42,526.47A275.5,275.5 0 0 1 161.29,525.96L167.71,511.85A260,260 0 0 0 168.78,512.33Z" fill="#DD00BB"/>
<path d="M158.99,524.90A275.5,275.5 0 0 1 158.25,524.55L164.84,510.52A260,260 0 0 0 165.54,510.85Z" fill="#1F78B4"/>
<path d="M156.79,523.86A275.5,275.5 0 0 1 156.04,523.50L162.76,509.53A260,260 0 0 0 163.46,509.87Z" fill="#137313"/>
<path d="M154.60,522.80A275.5,275.5 0 0 1 153.67,522.35L160.52,508.44A260,260 0 0 0 161.39,508.87Z" fill="#DD00BB"/>
<path d="M151.41,521.22A275.5,275.5 0 0 1 150.67,520.85L157.69,507.03A260,260 0 0 0 158.39,507.38Z" fill="#137313"/>
<path d="M142.85,516.72A275.5,275.5 0 0 1 142.13,516.32L149.63,502.75A260,260 0 0 0 150.31,503.13Z" fill="#137313"/>
<path d="M106.96,493.21A275.5,275.5 0 0 1 106.31,492.70L115.82,480.47A260,260 0 0 0 116.43,480.94Z" fill="#137313"/>
<path d="M104.21,491.06A275.5,275.5 0 0 1 103.57,490.54L113.23,478.43A260,260 0 0 0 113.84,478.91Z" fill="#137313"/>
<path d="M100.43,488.00A275.5,275.5 0 0 1 99.79,487.48L109.67,475.53A260,260 0 0 0 110.27,476.03Z" fill="#C8998A"/>
<path d="M96.53,484.73A275.5,275.5 0 0 1 94.96,483.39L105.11,471.68A260,260 0 0 0 106.59,472.95Z" fill="#137313"/>
<path d="M92.49,481.22A275.5,275.5 0 0 1 91.72,480.54L102.06,468.98A260,260 0 0 0 102.78,469.63Z" fill="#137313"/>
<path d="M91.01,479.89A275.5,275.5 0 0 1 90.24,479.20L100.66,467.72A260,260 0 0 0 101.38,468.38Z" fill="#DD00BB"/>
<path d="M87.32,476.51A275.5,275.5 0 0 1 86.72,475.95L97.33,464.65A260,260 0 0 0 97.90,465.19Z" fill="#C8998A"/>
<path d="M83.57,472.94A275.5,275.5 0 0 1 82.69,472.08L93.53,461.00A260,260 0 0 0 94.37,461.82Z" fill="#DD00BB"/>
<path d="M81.60,471.01A275.5,275.5 0 0 1 80.72,470.14L91.67,459.17A260,260 0 0 0 92.50,459.99Z" fill="#DD00BB"/>
<path d="M78.41,467.80A275.5,275.5 0 0 1 76.26,465.58L87.46,454.86A260,260 0 0 0 89.49,456.96Z" fill="#1F78B4"/>
<path d="M74.21,463.41A275.5,275.5 0 0 1 73.51,462.65L84.86,452.11A260,260 0 0 0 85.53,452.82Z" fill="#137313"/>
<path d="M69.02,457.71A275.5,275.5 0 0 1 68.48,457.09L80.12,446.86A260,260 0 0 0 80.63,447.44Z" fill="#C8998A"/>
<path d="M66.43,454.74A275.5,275.5 0 0 1 64.76,452.77L76.61,442.78A260,260 0 0 0 78.19,444.63Z" fill="#137313"/>
<path d="M62.81,450.44A275.5,275.5 0 0 1 62.16,449.64L74.16,439.82A260,260 0 0 0 74.78,440.58Z" fill="#137313"/>
<path d="M60.06,447.03A275.5,275.5 0 0 1 59.54,446.39L71.69,436.76A260,260 0 0 0 72.17,437.37Z" fill="#137313"/>
<path d="M56.60,442.61A275.5,275.5 0 0 1 55.35,440.96L67.73,431.64A260,260 0 0 0 68.91,433.19Z" fill="#137313"/>
<path d="M53.00,437.80A275.5,275.5 0 0 1 52.40,436.97L64.94,427.87A260,260 0 0 0 65.52,428.66Z" fill="#137313"/>
<path d="M50.40,434.18A275.5,275.5 0 0 1 44.60,425.64L57.59,417.18A260,260 0 0 0 63.06,425.24Z" fill="#137313"/>
<path d="M42.94,423.06A275.5,275.5 0 0 1 39.14,416.92L52.44,408.94A260,260 0 0 0 56.02,414.74Z" fill="#137313"/>
<path d="M38.71,416.20A275.5,275.5 0 0 1 37.40,413.97L50.79,406.17A260,260 0 0 0 52.03,408.26Z" fill="#137313"/>
<path d="M36.48,412.38A275.5,275.5 0 0 1 35.97,411.48L49.44,403.82A260,260 0 0 0 49.92,404.66Z" fill="#137313"/>
<path d="M34.78,409.36A275.5,275.5 0 0 1 34.37,408.64L47.93,401.13A260,260 0 0 0 48.31,401.82Z" fill="#137313"/>
<path d="M32.44,405.10A275.5,275.5 0 0 1 31.24,402.82L44.98,395.64A260,260 0 0 0 46.11,397.79Z" fill="#137313"/>
<path d="M30.57,401.54A275.5,275.5 0 0 1 30.01,400.43L43.82,393.39A260,260 0 0 0 44.35,394.43Z" fill="#DD00BB"/>
<path d="M28.21,396.85A275.5,275.5 0 0 1 27.85,396.10L41.77,389.30A260,260 0 0 0 42.12,390.00Z" fill="#137313"/>
<path d="M24.96,390.01A275.5,275.5 0 0 1 23.69,387.19L37.85,380.88A260,260 0 0 0 39.05,383.55Z" fill="#137313"/>
<path d="M20.03,378.56A275.5,275.5 0 0 1 19.64,377.61L34.03,371.85A260,260 0 0 0 34.39,372.75Z" fill="#137313"/>
<path d="M17.52,372.15A275.5,275.5 0 0 1 16.80,370.21L31.35,364.87A260,260 0 0 0 32.03,366.69Z" fill="#137313"/>
<path d="M15.48,366.53A275.5,275.5 0 0 1 15.14,365.56L29.78,360.48A260,260 0 0 0 30.10,361.39Z" fill="#137313"/>
<path d="M14.90,364.88A275.5,275.5 0 0 1 14.57,363.90L29.24,358.91A260,260 0 0 0 29.56,359.83Z" fill="#137313"/>
<path d="M12.89,358.79A275.5,275.5 0 0 1 12.64,358.00L27.42,353.35A260,260 0 0 0 27.66,354.09Z" fill="#137313"/>
<path d="M10.79,351.89A275.5,275.5 0 0 1 10.22,349.91L25.14,345.70A260,260 0 0 0 25.68,347.58Z" fill="#137313"/>
<path d="M10.05,349.30A275.5,275.5 0 0 1 9.78,348.31L24.72,344.19A260,260 0 0 0 24.98,345.13Z" fill="#C8998A"/>
<path d="M9.20,346.16A275.5,275.5 0 0 1 8.93,345.16L23.92,341.23A260,260 0 0 0 24.17,342.17Z" fill="#137313"/>
<path d="M8.54,343.67A275.5,275.5 0 0 1 8.04,341.67L23.08,337.93A260,260 0 0 0 23.56,339.82Z" fill="#137313"/>
<path d="M7.16,338.03A275.5,275.5 0 0 1 6.58,335.51L21.71,332.12A260,260 0 0 0 22.25,334.49Z" fill="#137313"/>
<path d="M6.16,333.59A275.5,275.5 0 0 1 5.94,332.58L21.10,329.35A260,260 0 0 0 21.31,330.31Z" fill="#137313"/>
<path d="M5.19,328.95A275.5,275.5 0 0 1 4.99,327.93L20.21,324.97A260,260 0 0 0 20.40,325.92Z" fill="#137313"/>
<path d="M4.90,327.46A275.5,275.5 0 0 1 4.71,326.45L19.94,323.56A260,260 0 0 0 20.12,324.52Z" fill="#137313"/>
<path d="M4.21,323.75A275.5,275.5 0 0 1 4.03,322.73L19.30,320.06A260,260 0 0 0 19.47,321.02Z" fill="#137313"/>
<path d="M3.44,319.22A275.5,275.5 0 0 1 3.28,318.20L18.59,315.78A260,260 0 0 0 18.74,316.74Z" fill="#137313"/>
<path d="M3.15,317.41A275.5,275.5 0 0 1 2.84,315.37L18.18,313.11A260,260 0 0 0 18.47,315.03Z" fill="#C8998A"/>
<path d="M2.43,312.47A275.5,275.5 0 0 1 2.30,311.45L17.66,309.41A260,260 0 0 0 17.79,310.38Z" fill="#C8998A"/>
<path d="M2.23,310.96A275.5,275.5 0 0 1 2.10,309.93L17.47,307.98A260,260 0 0 0 17.60,308.95Z" fill="#C8998A"/>
<path d="M1.98,308.95A275.5,275.5 0 0 1 1.83,307.72L17.22,305.89A260,260 0 0 0 17.36,307.05Z" fill="#C8998A"/>
<path d="M1.61,305.81A275.5,275.5 0 0 1 1.49,304.78L16.90,303.12A260,260 0 0 0 17.01,304.09Z" fill="#C8998A"/>
<path d="M1.42,304.08A275.5,275.5 0 0 1 1.31,303.06L16.73,301.49A260,260 0 0 0 16.83,302.46Z" fill="#C8998A"/>
<path d="M0.79,297.32A275.5,275.5 0 0 1 0.69,296.09L16.15,294.92A260,260 0 0 0 16.24,296.08Z" fill="#C8998A"/>
<path d="M0.67,295.79A275.5,275.5 0 0 1 0.61,294.97L16.07,293.85A260,260 0 0 0 16.13,294.63Z" fill="#137313"/>
<path d="M0.63,295.21A275.5,275.5 0 0 1 0.55,294.18L16.02,293.11A260,260 0 0 0 16.09,294.09Z" fill="#137313"/>
<path d="M0.27,289.49A275.5,275.5 0 0 1 0.13,286.40L15.61,285.77A260,260 0 0 0 15.75,288.68Z" fill="#C8998A"/>
<path d="M0.08,285.17A275.5,275.5 0 0 1 0.05,284.35L15.54,283.83A260,260 0 0 0 15.57,284.61Z" fill="#C8998A"/>
<path d="M-0.08,278.60A275.5,275.5 0 0 1 -0.09,277.77L15.41,277.63A260,260 0 0 0 15.42,278.40Z" fill="#C8998A"/>
<path d="M-0.10,273.76A275.5,275.5 0 0 1 -0.09,272.73L15.41,272.87A260,260 0 0 0 15.40,273.84Z" fill="#DD00BB"/>
<path d="M-0.08,271.66A275.5,275.5 0 0 1 -0.03,269.08L15.46,269.42A260,260 0 0 0 15.42,271.85Z" fill="#C8998A"/>
<path d="M0.10,264.72A275.5,275.5 0 0 1 0.14,263.69L15.63,264.33A260,260 0 0 0 15.59,265.31Z" fill="#137313"/>
<path d="M0.15,263.38A275.5,275.5 0 0 1 0.20,262.35L15.68,263.07A260,260 0 0 0 15.64,264.05Z" fill="#AA33FF"/>
<path d="M0.21,262.05A275.5,275.5 0 0 1 0.25,261.22L15.73,262.01A260,260 0 0 0 15.70,262.79Z" fill="#AA33FF"/>
<path d="M0.37,259.08A275.5,275.5 0 0 1 0.42,258.25L15.89,259.21A260,260 0 0 0 15.85,259.99Z" fill="#C8998A"/>
<path d="M0.94,251.24A275.5,275.5 0 0 1 1.02,250.42L16.45,251.82A260,260 0 0 0 16.38,252.59Z" fill="#137313"/>
<path d="M1.12,249.26A275.5,275.5 0 0 1 1.38,246.70L16.80,248.30A260,260 0 0 0 16.55,250.72Z" fill="#137313"/>
<path d="M1.73,243.50A275.5,275.5 0 0 1 1.85,242.48L17.24,244.32A260,260 0 0 0 17.13,245.29Z" fill="#C8998A"/>
<path d="M2.06,240.77A275.5,275.5 0 0 1 2.22,239.54L17.59,241.55A260,260 0 0 0 17.44,242.71Z" fill="#DD00BB"/>
<path d="M2.34,238.63A275.5,275.5 0 0 1 2.48,237.60L17.83,239.72A260,260 0 0 0 17.70,240.68Z" fill="#AA33FF"/>
<path d="M2.75,235.70A275.5,275.5 0 0 1 2.90,234.68L18.23,236.96A260,260 0 0 0 18.09,237.92Z" fill="#137313"/>
<path d="M3.23,232.49A275.5,275.5 0 0 1 3.64,229.94L18.93,232.49A260,260 0 0 0 18.54,234.89Z" fill="#C8998A"/>
<path d="M3.73,229.42A275.5,275.5 0 0 1 3.90,228.40L19.18,231.03A260,260 0 0 0 19.02,231.99Z" fill="#C8998A"/>
<path d="M3.99,227.92A275.5,275.5 0 0 1 4.17,226.90L19.43,229.62A260,260 0 0 0 19.26,230.58Z" fill="#AA33FF"/>
<path d="M4.52,224.97A275.5,275.5 0 0 1 4.71,223.95L19.94,226.84A260,260 0 0 0 19.76,227.79Z" fill="#C8998A"/>
<path d="M5.07,222.09A275.5,275.5 0 0 1 5.23,221.28L20.43,224.31A260,260 0 0 0 20.28,225.08Z" fill="#00CC00"/>
<path d="M5.87,218.14A275.5,275.5 0 0 1 6.05,217.33L21.20,220.59A260,260 0 0 0 21.04,221.35Z" fill="#C8998A"/>
<path d="M6.54,215.07A275.5,275.5 0 0 1 7.12,212.56L22.21,216.08A260,260 0 0 0 21.67,218.46Z" fill="#C8998A"/>
<path d="M7.16,212.37A275.5,275.5 0 0 1 7.40,211.36L22.48,214.95A260,260 0 0 0 22.25,215.90Z" fill="#137313"/>
<path d="M7.45,211.16A275.5,275.5 0 0 1 7.64,210.36L22.70,214.00A260,260 0 0 0 22.52,214.76Z" fill="#137313"/>
<path d="M9.53,202.98A275.5,275.5 0 0 1 10.03,201.19L24.96,205.35A260,260 0 0 0 24.49,207.04Z" fill="#DD00BB"/>
<path d="M10.10,200.92A275.5,275.5 0 0 1 10.38,199.93L25.29,204.16A260,260 0 0 0 25.03,205.10Z" fill="#C8998A"/>
<path d="M12.20,193.81A275.5,275.5 0 0 1 12.97,191.35L27.73,196.07A260,260 0 0 0 27.00,198.39Z" fill="#137313"/>
<path d="M14.95,185.38A275.5,275.5 0 0 1 15.22,184.60L29.86,189.69A260,260 0 0 0 29.61,190.43Z" fill="#C8998A"/>
<path d="M17.56,178.14A275.5,275.5 0 0 1 17.85,177.37L32.34,182.87A260,260 0 0 0 32.07,183.60Z" fill="#C8998A"/>
<path d="M17.89,177.27A275.5,275.5 0 0 1 18.19,176.49L32.66,182.05A260,260 0 0 0 32.38,182.78Z" fill="#137313"/>
<path d="M18.64,175.33A275.5,275.5 0 0 1 19.01,174.37L33.44,180.04A260,260 0 0 0 33.08,180.95Z" fill="#DD00BB"/>
<path d="M19.89,172.17A275.5,275.5 0 0 1 20.28,171.22L34.63,177.07A260,260 0 0 0 34.27,177.97Z" fill="#137313"/>
<path d="M20.21,171.38A275.5,275.5 0 0 1 20.60,170.42L34.94,176.32A260,260 0 0 0 34.57,177.22Z" fill="#DD00BB"/>
<path d="M21.46,168.36A275.5,275.5 0 0 1 22.07,166.93L36.32,173.02A260,260 0 0 0 35.75,174.37Z" fill="#DD00BB"/>
<path d="M22.05,166.96A275.5,275.5 0 0 1 22.46,166.02L36.69,172.16A260,260 0 0 0 36.31,173.05Z" fill="#DD00BB"/>
<path d="M22.63,165.61A275.5,275.5 0 0 1 23.05,164.67L37.24,170.89A260,260 0 0 0 36.85,171.78Z" fill="#137313"/>
<path d="M24.79,160.77A275.5,275.5 0 0 1 25.13,160.02L39.21,166.50A260,260 0 0 0 38.89,167.21Z" fill="#C8998A"/>
<path d="M25.42,159.39A275.5,275.5 0 0 1 25.77,158.64L39.82,165.20A260,260 0 0 0 39.49,165.91Z" fill="#C8998A"/>
<path d="M29.24,151.48A275.5,275.5 0 0 1 30.18,149.64L43.97,156.70A260,260 0 0 0 43.09,158.44Z" fill="#137313"/>
<path d="M30.62,148.77A275.5,275.5 0 0 1 31.10,147.86L44.84,155.02A260,260 0 0 0 44.39,155.88Z" fill="#137313"/>
<path d="M32.11,145.93A275.5,275.5 0 0 1 32.60,145.02L46.26,152.34A260,260 0 0 0 45.80,153.20Z" fill="#137313"/>
<path d="M33.64,143.10A275.5,275.5 0 0 1 34.13,142.19L47.71,149.68A260,260 0 0 0 47.24,150.53Z" fill="#137313"/>
<path d="M37.44,136.37A275.5,275.5 0 0 1 37.85,135.66L51.22,143.51A260,260 0 0 0 50.82,144.18Z" fill="#137313"/>
<path d="M44.33,125.18A275.5,275.5 0 0 1 44.78,124.49L57.76,132.97A260,260 0 0 0 57.33,133.62Z" fill="#137313"/>
<path d="M47.29,120.72A275.5,275.5 0 0 1 47.98,119.69L60.78,128.44A260,260 0 0 0 60.12,129.41Z" fill="#00CC00"/>
<path d="M49.00,118.21A275.5,275.5 0 0 1 50.78,115.68L63.42,124.65A260,260 0 0 0 61.74,127.04Z" fill="#DD00BB"/>
<path d="M52.01,113.96A275.5,275.5 0 0 1 52.92,112.71L65.44,121.85A260,260 0 0 0 64.58,123.03Z" fill="#DD00BB"/>
<path d="M53.86,111.44A275.5,275.5 0 0 1 54.97,109.95L67.37,119.24A260,260 0 0 0 66.32,120.65Z" fill="#DD00BB"/>
<path d="M56.50,107.92A275.5,275.5 0 0 1 57.63,106.45L69.88,115.94A260,260 0 0 0 68.81,117.33Z" fill="#DD00BB"/>
<path d="M58.97,104.74A275.5,275.5 0 0 1 60.12,103.29L72.23,112.96A260,260 0 0 0 71.14,114.33Z" fill="#DD00BB"/>
<path d="M59.84,103.64A275.5,275.5 0 0 1 66.08,96.08L77.85,106.16A260,260 0 0 0 71.97,113.29Z" fill="#137313"/>
<path d="M69.65,91.99A275.5,275.5 0 0 1 71.72,89.69L83.18,100.12A260,260 0 0 0 81.23,102.29Z" fill="#C8998A"/>
<path d="M74.92,86.24A275.5,275.5 0 0 1 75.49,85.64L86.73,96.30A260,260 0 0 0 86.20,96.87Z" fill="#C8998A"/>
<path d="M77.16,83.89A275.5,275.5 0 0 1 77.73,83.29L88.85,94.09A260,260 0 0 0 88.31,94.65Z" fill="#137313"/>
<path d="M79.18,81.82A275.5,275.5 0 0 1 79.76,81.23L90.77,92.14A260,260 0 0 0 90.22,92.70Z" fill="#137313"/>
<path d="M80.71,80.27A275.5,275.5 0 0 1 81.29,79.69L92.22,90.69A260,260 0 0 0 91.66,91.24Z" fill="#137313"/>
<path d="M85.62,75.49A275.5,275.5 0 0 1 86.21,74.93L96.86,86.19A260,260 0 0 0 96.29,86.73Z" fill="#1F78B4"/>
<path d="M88.44,72.85A275.5,275.5 0 0 1 89.20,72.15L99.67,83.57A260,260 0 0 0 98.96,84.23Z" fill="#137313"/>
<path d="M90.57,70.91A275.5,275.5 0 0 1 91.33,70.21L101.69,81.75A260,260 0 0 0 100.96,82.40Z" fill="#FFFF99"/>
<path d="M91.64,69.94A275.5,275.5 0 0 1 92.41,69.26L102.70,80.84A260,260 0 0 0 101.97,81.49Z" fill="#137313"/>
<path d="M92.96,68.76A275.5,275.5 0 0 1 93.58,68.22L103.81,79.86A260,260 0 0 0 103.22,80.38Z" fill="#1F78B4"/>
<path d="M95.43,66.61A275.5,275.5 0 0 1 96.05,66.07L106.14,77.84A260,260 0 0 0 105.55,78.35Z" fill="#137313"/>
<path d="M101.11,61.84A275.5,275.5 0 0 1 101.91,61.19L111.67,73.23A260,260 0 0 0 110.91,73.84Z" fill="#137313"/>
<path d="M102.39,60.80A275.5,275.5 0 0 1 103.04,60.28L112.73,72.37A260,260 0 0 0 112.13,72.86Z" fill="#1F78B4"/>
<path d="M107.23,56.99A275.5,275.5 0 0 1 107.88,56.48L117.31,68.79A260,260 0 0 0 116.69,69.26Z" fill="#137313"/>
<path d="M109.13,55.53A275.5,275.5 0 0 1 121.73,46.54L130.37,59.41A260,260 0 0 0 118.49,67.89Z" fill="#137313"/>
<path d="M125.60,43.99A275.5,275.5 0 0 1 126.29,43.54L134.68,56.57A260,260 0 0 0 134.02,57.00Z" fill="#137313"/>
<path d="M127.86,42.53A275.5,275.5 0 0 1 128.56,42.09L136.82,55.21A260,260 0 0 0 136.16,55.62Z" fill="#AA33FF"/>
<path d="M129.88,41.27A275.5,275.5 0 0 1 130.58,40.83L138.73,54.02A260,260 0 0 0 138.07,54.43Z" fill="#1F78B4"/>
<path d="M131.31,40.38A275.5,275.5 0 0 1 132.01,39.95L140.08,53.19A260,260 0 0 0 139.42,53.60Z" fill="#137313"/>
<path d="M133.63,38.97A275.5,275.5 0 0 1 144.39,32.84L151.76,46.48A260,260 0 0 0 141.61,52.26Z" fill="#137313"/>
<path d="M145.04,32.49A275.5,275.5 0 0 1 145.95,32.00L153.24,45.69A260,260 0 0 0 152.38,46.15Z" fill="#C8998A"/>
<path d="M146.20,31.87A275.5,275.5 0 0 1 147.29,31.30L154.50,45.02A260,260 0 0 0 153.47,45.56Z" fill="#DD00BB"/>
<path d="M149.37,30.22A275.5,275.5 0 0 1 150.11,29.84L157.16,43.64A260,260 0 0 0 156.46,44.00Z" fill="#DD00BB"/>
<path d="M151.58,29.09A275.5,275.5 0 0 1 152.32,28.72L159.24,42.59A260,260 0 0 0 158.54,42.94Z" fill="#137313"/>
<path d="M153.55,28.11A275.5,275.5 0 0 1 154.29,27.75L161.10,41.67A260,260 0 0 0 160.40,42.01Z" fill="#137313"/>
<path d="M155.07,27.37A275.5,275.5 0 0 1 155.82,27.01L162.55,40.97A260,260 0 0 0 161.84,41.31Z" fill="#137313"/>
<path d="M157.57,26.17A275.5,275.5 0 0 1 160.37,24.86L166.84,38.95A260,260 0 0 0 164.20,40.18Z" fill="#C8998A"/>
<path d="M161.61,24.30A275.5,275.5 0 0 1 162.36,23.96L168.72,38.09A260,260 0 0 0 168.01,38.41Z" fill="#DD00BB"/>
<path d="M162.99,23.68A275.5,275.5 0 0 1 163.93,23.26L170.20,37.43A260,260 0 0 0 169.31,37.83Z" fill="#137313"/>
<path d="M167.86,21.55A275.5,275.5 0 0 1 168.81,21.15L174.81,35.45A260,260 0 0 0 173.91,35.82Z" fill="#1F78B4"/>
<path d="M178.03,17.48A275.5,275.5 0 0 1 178.99,17.12L184.42,31.64A260,260 0 0 0 183.51,31.98Z" fill="#FFC896"/>
<path d="M181.12,16.33A275.5,275.5 0 0 1 182.09,15.98L187.34,30.57A260,260 0 0 0 186.43,30.90Z" fill="#FFC896"/>
<path d="M197.62,10.91A275.5,275.5 0 0 1 198.61,10.62L202.93,25.50A260,260 0 0 0 202.00,25.78Z" fill="#FFC896"/>
<path d="M200.47,10.09A275.5,275.5 0 0 1 201.96,9.67L206.09,24.61A260,260 0 0 0 204.68,25.00Z" fill="#FFC896"/>
<path d="M202.50,9.52A275.5,275.5 0 0 1 205.49,8.72L209.43,23.71A260,260 0 0 0 206.60,24.47Z" fill="#FFC896"/>
<path d="M206.08,8.56A275.5,275.5 0 0 1 207.28,8.25L211.11,23.27A260,260 0 0 0 209.98,23.56Z" fill="#FFC896"/>
<path d="M210.51,7.45A275.5,275.5 0 0 1 211.52,7.21L215.11,22.29A260,260 0 0 0 214.16,22.51Z" fill="#FFC896"/>
<path d="M212.27,7.03A275.5,275.5 0 0 1 213.27,6.80L216.77,21.90A260,260 0 0 0 215.82,22.12Z" fill="#FFC896"/>
<path d="M214.43,6.53A275.5,275.5 0 0 1 215.44,6.30L218.81,21.43A260,260 0 0 0 217.86,21.65Z" fill="#FFC896"/>
<path d="M216.70,6.03A275.5,275.5 0 0 1 217.71,5.81L220.95,20.96A260,260 0 0 0 220.00,21.17Z" fill="#FFC896"/>
<path d="M222.43,4.84A275.5,275.5 0 0 1 229.53,3.55L232.11,18.83A260,260 0 0 0 225.41,20.05Z" fill="#FFC896"/>
<path d="M231.55,3.21A275.5,275.5 0 0 1 232.78,3.02L235.18,18.33A260,260 0 0 0 234.02,18.51Z" fill="#FFC896"/>
<path d="M233.72,2.87A275.5,275.5 0 0 1 234.95,2.69L237.22,18.02A260,260 0 0 0 236.07,18.19Z" fill="#FFC896"/>
<path d="M247.03,1.16A275.5,275.5 0 0 1 248.26,1.04L249.79,16.46A260,260 0 0 0 248.62,16.58Z" fill="#FFC896"/>
<path d="M249.61,0.91A275.5,275.5 0 0 1 250.84,0.80L252.22,16.24A260,260 0 0 0 251.06,16.34Z" fill="#FFC896"/>
<path d="M252.03,0.69A275.5,275.5 0 0 1 253.57,0.57L254.80,16.02A260,260 0 0 0 253.35,16.14Z" fill="#FFC896"/>
<path d="M254.30,0.51A275.5,275.5 0 0 1 256.88,0.32L257.92,15.79A260,260 0 0 0 255.49,15.96Z" fill="#FFC896"/>
<path d="M258.02,0.25A275.5,275.5 0 0 1 261.62,0.04L262.40,15.53A260,260 0 0 0 258.99,15.72Z" fill="#FFC896"/>
<path d="M265.24,-0.11A275.5,275.5 0 0 1 266.78,-0.17L267.27,15.33A260,260 0 0 0 265.81,15.38Z" fill="#FFC896"/>
<path d="M276.07,-0.30A275.5,275.5 0 0 1 280.71,-0.25L280.41,15.25A260,260 0 0 0 276.03,15.20Z" fill="#FFC896"/>
<path d="M281.23,-0.24A275.5,275.5 0 0 1 288.97,0.03L288.20,15.52A260,260 0 0 0 280.90,15.26Z" fill="#FFC896"/>
<path d="M297.12,0.56A275.5,275.5 0 0 1 299.69,0.77L298.33,16.21A260,260 0 0 0 295.90,16.01Z" fill="#FFC896"/>
<path d="M305.12,1.31A275.5,275.5 0 0 1 307.17,1.54L305.39,16.93A260,260 0 0 0 303.45,16.72Z" fill="#FFC896"/>
<path d="M310.15,1.90A275.5,275.5 0 0 1 315.77,2.67L313.50,18.01A260,260 0 0 0 308.19,17.28Z" fill="#FFC896"/>
<path d="M321.00,3.50A275.5,275.5 0 0 1 326.58,4.50L323.70,19.73A260,260 0 0 0 318.43,18.79Z" fill="#FFC896"/>
<path d="M327.89,4.75A275.5,275.5 0 0 1 330.42,5.25L327.33,20.44A260,260 0 0 0 324.94,19.96Z" fill="#FFC896"/>
<path d="M331.71,5.52A275.5,275.5 0 0 1 334.24,6.06L330.93,21.20A260,260 0 0 0 328.55,20.69Z" fill="#FFC896"/>
<path d="M335.78,6.40A275.5,275.5 0 0 1 336.99,6.67L333.52,21.78A260,260 0 0 0 332.38,21.52Z" fill="#FFC896"/>
<path d="M338.00,6.91A275.5,275.5 0 0 1 339.51,7.26L335.90,22.34A260,260 0 0 0 334.48,22.00Z" fill="#FFC896"/>
<path d="M340.63,7.53A275.5,275.5 0 0 1 341.83,7.83L338.09,22.87A260,260 0 0 0 336.96,22.59Z" fill="#FFC896"/>
<path d="M342.80,8.07A275.5,275.5 0 0 1 344.00,8.38L340.14,23.39A260,260 0 0 0 339.01,23.10Z" fill="#FFC896"/>
<path d="M404.96,32.06A275.5,275.5 0 0 1 405.69,32.45L398.36,46.11A260,260 0 0 0 397.67,45.74Z" fill="#137313"/>
<path d="M408.61,34.04A275.5,275.5 0 0 1 409.33,34.44L401.79,47.99A260,260 0 0 0 401.11,47.61Z" fill="#1F78B4"/>
<path d="M412.37,36.16A275.5,275.5 0 0 1 413.09,36.57L405.34,50.00A260,260 0 0 0 404.66,49.61Z" fill="#1F78B4"/>
<path d="M489.29,101.56A275.5,275.5 0 0 1 489.94,102.36L477.87,112.08A260,260 0 0 0 477.26,111.33Z" fill="#137313"/>
<path d="M490.61,103.20A275.5,275.5 0 0 1 491.13,103.85L478.99,113.49A260,260 0 0 0 478.50,112.88Z" fill="#C8998A"/>
<path d="M524.02,156.50A275.5,275.5 0 0 1 524.55,157.61L510.53,164.23A260,260 0 0 0 510.03,163.17Z" fill="#DD00BB"/>
<path d="M525.57,159.80A275.5,275.5 0 0 1 526.64,162.15L512.50,168.51A260,260 0 0 0 511.49,166.30Z" fill="#DD00BB"/>
<path d="M527.32,163.67A275.5,275.5 0 0 1 527.94,165.09L513.73,171.28A260,260 0 0 0 513.14,169.95Z" fill="#DD00BB"/>
<path d="M547.49,231.97A275.5,275.5 0 0 1 547.65,232.99L532.33,235.37A260,260 0 0 0 532.18,234.40Z" fill="#1F78B4"/>
<path d="M547.88,234.55A275.5,275.5 0 0 1 548.01,235.37L532.67,237.61A260,260 0 0 0 532.55,236.84Z" fill="#1F78B4"/>
<path d="M548.08,235.89A275.5,275.5 0 0 1 548.20,236.71L532.85,238.87A260,260 0 0 0 532.74,238.10Z" fill="#FFFF99"/>
<path d="M548.27,237.23A275.5,275.5 0 0 1 548.38,238.05L533.03,240.14A260,260 0 0 0 532.92,239.37Z" fill="#1F78B4"/>
<path d="M548.51,238.99A275.5,275.5 0 0 1 548.62,239.80L533.25,241.80A260,260 0 0 0 533.14,241.02Z" fill="#DD00BB"/>
<path d="M548.74,240.74A275.5,275.5 0 0 1 548.84,241.56L533.45,243.45A260,260 0 0 0 533.36,242.68Z" fill="#DD00BB"/>
<path d="M549.63,248.74A275.5,275.5 0 0 1 549.77,250.28L534.33,251.68A260,260 0 0 0 534.20,250.23Z" fill="#137313"/>
<path d="M275.4,275.2L215.6,183.5M201.1,194.7A109.5,109.5 0 0 1 231.7,174.8M231.7,174.8L228.7,167.9M201.1,194.7L160.5,150.6M275.4,275.2L347.9,271.9M347.6,267.9A72.6,72.6 0 0 1 348.0,274.8M347.6,267.9L363.3,266.3M348.0,274.8L455.4,274.3M363.0,263.7A88.4,88.4 0 0 1 363.4,266.9M363.4,266.9L372.2,266.1M363.0,263.7L369.2,262.9M363.7,241.3A94.6,94.6 0 0 1 369.2,262.9M459.0,260.1L464.1,259.7M459.8,261.4L465.3,261.0M460.8,262.7L464.0,262.5M460.9,264.1L462.2,264.0M460.8,262.7A185.8,185.8 0 0 1 460.9,264.1M459.9,263.4L460.8,263.4M459.8,261.4A184.9,184.9 0 0 1 459.9,263.4M459.2,262.5L459.8,262.4M459.0,260.1A184.2,184.2 0 0 1 459.2,262.5M457.3,261.4L459.1,261.3M458.2,265.6L459.5,265.5M458.3,266.9L462.1,266.7M458.2,265.6A183.1,183.1 0 0 1 458.3,266.9M457.6,266.3L458.3,266.2M457.3,261.4A182.4,182.4 0 0 1 457.6,266.3M455.1,264.0L457.4,263.8M457.7,268.3L461.5,268.1M459.0,269.6L460.2,269.5M462.6,270.8L466.4,270.7M462.6,272.2L466.4,272.1M462.6,270.8A187.2,187.2 0 0 1 462.6,272.2M461.3,271.5L462.6,271.5M461.3,273.6L465.7,273.5M461.3,271.5A185.9,185.9 0 0 1 461.3,273.6M459.1,272.6L461.3,272.6M459.0,269.6A183.7,183.7 0 0 1 459.1,272.6M457.7,271.1L459.0,271.1M457.7,268.3A182.4,182.4 0 0 1 457.7,271.1M455.3,269.8L457.7,269.7M455.1,264.0A180.0,180.0 0 0 1 455.3,269.8M454.8,260.5A180.0,180.0 0 0 1 455.4,274.3M441.5,309.0A169.5,169.5 0 1 1 206.5,120.4M359.5,420.9A168.2,168.2 0 0 1 137.6,178.7M157.5,150.5L155.3,148.2M158.1,150.0L155.4,147.1M157.5,150.5A171.6,171.6 0 0 1 158.1,150.0M158.2,150.7L157.8,150.2M159.0,149.7L156.1,146.5M158.3,147.7L154.9,144.0M158.9,147.1L155.8,143.7M158.3,147.7A173.1,173.1 0 0 1 158.9,147.1M158.9,147.7L158.6,147.4M159.8,146.9L158.1,144.9M158.9,147.7A172.7,172.7 0 0 1 159.8,146.9M159.7,147.7L159.4,147.3M160.4,146.2L156.8,142.2M161.1,145.7L157.9,142.1M160.4,146.2A172.8,172.8 0 0 1 161.1,145.7M161.1,146.4L160.7,146.0M159.7,147.7A172.2,172.2 0 0 1 161.1,146.4M160.7,147.4L160.4,147.0M162.1,145.6L160.8,144.1M162.5,144.7L161.0,143.1M163.1,144.2L160.7,141.4M162.5,144.7A172.5,172.5 0 0 1 163.1,144.2M163.1,144.8L162.8,144.5M162.1,145.6A172.1,172.1 0 0 1 163.1,144.8M162.9,145.5L162.6,145.2M160.7,147.4A171.7,171.7 0 0 1 162.9,145.5M162.1,146.8L161.8,146.4M159.0,149.7A171.2,171.2 0 0 1 162.1,146.8M160.7,148.4L160.6,148.2M158.2,150.7A171.0,171.0 0 0 1 160.7,148.4M160.5,150.6L159.4,149.5M165.1,145.2L162.6,142.2M164.7,143.2L163.9,142.3M165.4,142.6L164.6,141.6M164.7,143.2A172.3,172.3 0 0 1 165.4,142.6M165.4,143.3L165.1,142.9M166.5,142.4L165.4,141.0M165.4,143.3A171.7,171.7 0 0 1 166.5,142.4M166.2,143.2L166.0,142.9M167.1,141.6L166.4,140.7M167.8,141.0L165.9,138.6M167.1,141.6A172.0,172.0 0 0 1 167.8,141.0M167.9,141.8L167.5,141.3M166.2,143.2A171.3,171.3 0 0 1 167.9,141.8M167.4,143.0L167.1,142.5M169.4,141.4L167.5,139.1M167.4,143.0A170.7,170.7 0 0 1 169.4,141.4M168.5,142.4L168.4,142.2M165.1,145.2A170.5,170.5 0 0 1 168.5,142.4M167.5,144.5L166.8,143.7M167.7,135.4A176.5,176.5 0 0 1 194.4,118.4M184.3,132.2L180.6,126.3M165.3,134.3L164.0,132.6M166.0,133.7L164.2,131.5M165.3,134.3A178.8,178.8 0 0 1 166.0,133.7M165.7,134.1L165.6,134.0M166.4,132.9L164.4,130.3M167.1,132.4L166.3,131.3M166.4,132.9A179.2,179.2 0 0 1 167.1,132.4M167.1,133.1L166.8,132.7M165.7,134.1A178.7,178.7 0 0 1 167.1,133.1M166.9,134.3L166.4,133.6M167.9,132.0L167.2,131.0M168.6,131.5L167.2,129.6M167.9,132.0A179.0,179.0 0 0 1 168.6,131.5M168.7,132.4L168.2,131.8M169.4,131.2L167.4,128.4M170.1,130.7L168.0,127.8M169.4,131.2A178.8,178.8 0 0 1 170.1,130.7M170.1,131.4L169.8,131.0M168.7,132.4A178.2,178.2 0 0 1 170.1,131.4M169.6,132.2L169.4,131.9M166.9,134.3A177.9,177.9 0 0 1 169.6,132.2M168.5,133.5L168.3,133.2M171.6,131.2L170.5,129.7M168.5,133.5A177.5,177.5 0 0 1 171.6,131.2M170.6,133.2L170.0,132.4M176.5,125.8L176.0,125.1M177.1,125.0L176.1,123.5M177.8,124.6L177.5,124.1M177.1,125.0A179.5,179.5 0 0 1 177.8,124.6M177.6,125.0L177.4,124.8M176.5,125.8A179.2,179.2 0 0 1 177.6,125.0M177.5,126.1L177.0,125.4M179.2,125.0L178.0,123.2M177.5,126.1A178.4,178.4 0 0 1 179.2,125.0M178.8,126.3L178.3,125.5M180.1,124.9L179.3,123.6M180.9,124.4L180.0,123.0M180.1,124.9A177.9,177.9 0 0 1 180.9,124.4M180.6,124.8L180.5,124.7M181.7,124.1L181.1,123.1M180.6,124.8A177.8,177.8 0 0 1 181.7,124.1M181.3,124.7L181.2,124.4M178.8,126.3A177.5,177.5 0 0 1 181.3,124.7M180.6,126.3L180.1,125.5M188.1,120.2L186.7,117.8M187.8,118.1L187.1,116.9M188.5,117.7L186.8,114.6M187.8,118.1A179.9,179.9 0 0 1 188.5,117.7M188.4,118.3L188.2,117.9M189.5,117.7L188.9,116.6M188.4,118.3A179.4,179.4 0 0 1 189.5,117.7M189.3,118.7L188.9,118.0M190.5,118.0L189.9,116.9M189.3,118.7A178.7,178.7 0 0 1 190.5,118.0M190.3,119.0L189.9,118.3M188.1,120.2A177.9,177.9 0 0 1 190.3,119.0M189.5,120.2L189.2,119.6M191.6,118.3L190.0,115.4M191.7,116.8L189.6,112.9M192.5,116.5L190.9,113.4M191.7,116.8A179.1,179.1 0 0 1 192.5,116.5M192.4,117.2L192.1,116.7M193.3,116.4L191.1,112.1M194.1,116.0L192.5,113.0M193.3,116.4A178.7,178.7 0 0 1 194.1,116.0M193.8,116.5L193.7,116.2M192.4,117.2A178.5,178.5 0 0 1 193.8,116.5M193.4,117.3L193.1,116.8M191.6,118.3A177.9,177.9 0 0 1 193.4,117.3M192.6,117.9L192.5,117.8M195.2,116.6L193.9,114.0M192.6,117.9A177.7,177.7 0 0 1 195.2,116.6M194.0,117.5L193.9,117.3M195.2,114.8L193.4,111.2M196.0,114.4L194.2,110.8M195.2,114.8A179.4,179.4 0 0 1 196.0,114.4M195.7,114.8L195.6,114.6M196.6,113.8L195.2,111.0M197.3,113.4L196.5,111.8M196.6,113.8A179.7,179.7 0 0 1 197.3,113.4M197.1,114.0L196.9,113.6M195.7,114.8A179.1,179.1 0 0 1 197.1,114.0M196.6,114.9L196.4,114.4M198.0,113.0L196.2,109.3M198.7,112.6L197.8,110.6M198.0,113.0A179.8,179.8 0 0 1 198.7,112.6M198.5,113.0L198.3,112.8M199.3,111.9L197.7,108.5M200.0,111.6L199.2,109.7M199.3,111.9A180.1,180.1 0 0 1 200.0,111.6M199.9,112.3L199.7,111.8M198.5,113.0A179.5,179.5 0 0 1 199.9,112.3M199.6,113.5L199.2,112.7M196.6,114.9A178.6,178.6 0 0 1 199.6,113.5M198.5,115.0L198.1,114.2M201.6,113.0L200.6,110.8M201.9,111.9L200.2,108.0M202.7,111.5L200.9,107.6M201.9,111.9A179.1,179.1 0 0 1 202.7,111.5M202.6,112.3L202.3,111.7M203.7,111.8L202.1,108.1M202.6,112.3A178.5,178.5 0 0 1 203.7,111.8M203.2,112.3L203.1,112.0M201.6,113.0A178.2,178.2 0 0 1 203.2,112.3M202.6,113.1L202.4,112.7M198.5,115.0A177.7,177.7 0 0 1 202.6,113.1M200.6,114.2L200.5,114.0M194.0,117.5A177.5,177.5 0 0 1 200.6,114.2M197.4,116.1L197.3,115.8M189.5,120.2A177.2,177.2 0 0 1 197.4,116.1M193.8,118.7L193.4,118.1M441.8,310.0L448.6,311.4M443.7,311.2L446.7,311.8M443.5,311.9L448.5,313.0M443.7,311.2A172.1,172.1 0 0 1 443.5,311.9M443.4,311.5L443.6,311.5M443.1,312.7L447.4,313.6M443.4,311.5A171.8,171.8 0 0 1 443.1,312.7M442.3,311.9L443.2,312.1M442.2,313.3L448.6,314.7M442.6,314.2L446.6,315.1M442.4,314.9L448.9,316.5M442.6,314.2A171.7,171.7 0 0 1 442.4,314.9M442.0,314.4L442.5,314.6M442.2,313.3A171.1,171.1 0 0 1 442.0,314.4M441.9,313.8L442.1,313.8M442.3,311.9A170.9,170.9 0 0 1 441.9,313.8M441.6,312.7L442.1,312.8M441.7,315.6L447.2,316.9M442.6,316.6L447.5,317.8M442.4,317.4L448.9,319.0M442.6,316.6A172.3,172.3 0 0 1 442.4,317.4M441.7,316.8L442.5,317.0M441.4,317.9L443.4,318.5M441.7,316.8A171.4,171.4 0 0 1 441.4,317.9M441.3,317.3L441.5,317.4M441.7,315.6A171.1,171.1 0 0 1 441.3,317.3M440.7,316.3L441.5,316.4M441.6,312.7A170.4,170.4 0 0 1 440.7,316.3M440.9,314.4L441.2,314.5M441.8,310.0A170.0,170.0 0 0 1 440.9,314.4M440.8,312.1L441.4,312.2M441.2,318.6L447.2,320.2M441.4,319.6L447.0,321.1M442.0,320.6L448.3,322.3M441.8,321.4L446.5,322.7M442.0,320.6A172.7,172.7 0 0 1 441.8,321.4M441.1,320.8L441.9,321.0M441.4,319.6A171.8,171.8 0 0 1 441.1,320.8M440.8,320.1L441.2,320.2M441.2,318.6A171.4,171.4 0 0 1 440.8,320.1M440.1,319.1L441.0,319.4M440.3,321.9L444.8,323.1M440.6,322.8L445.4,324.2M440.3,323.6L442.9,324.4M440.6,322.8A171.9,171.9 0 0 1 440.3,323.6M439.9,323.1L440.4,323.2M440.3,321.9A171.4,171.4 0 0 1 439.9,323.1M439.2,322.2L440.1,322.5M440.1,319.1A170.4,170.4 0 0 1 439.2,322.2M438.8,320.4L439.7,320.7M439.0,324.0L446.7,326.3M438.9,325.2L443.2,326.5M438.5,326.3L444.8,328.3M438.9,325.2A170.9,170.9 0 0 1 438.5,326.3M438.5,325.7L438.7,325.7M439.0,324.0A170.8,170.8 0 0 1 438.5,325.7M438.2,324.7L438.8,324.8M437.4,327.2L441.8,328.6M438.2,324.7A170.2,170.2 0 0 1 437.4,327.2M437.2,325.7L437.8,326.0M440.0,328.8L443.9,330.1M440.7,329.8L446.3,331.7M440.4,330.6L445.7,332.4M440.7,329.8A174.1,174.1 0 0 1 440.4,330.6M440.4,330.1L440.6,330.2M440.0,331.2L446.1,333.3M440.4,330.1A173.9,173.9 0 0 1 440.0,331.2M439.5,330.5L440.2,330.7M440.0,328.8A173.2,173.2 0 0 1 439.5,330.5M439.0,329.4L439.8,329.6M440.0,332.1L446.5,334.3M440.7,333.1L446.2,335.1M440.4,333.8L443.9,335.1M440.7,333.1A175.1,175.1 0 0 1 440.4,333.8M440.1,333.3L440.5,333.5M439.7,334.4L443.4,335.8M440.1,333.3A174.7,174.7 0 0 1 439.7,334.4M439.4,333.7L439.9,333.9M440.0,332.1A174.2,174.2 0 0 1 439.4,333.7M438.9,332.6L439.7,332.9M438.1,334.7L445.4,337.3M438.9,332.6A173.3,173.3 0 0 1 438.1,334.7M437.6,333.3L438.5,333.6M439.0,329.4A172.3,172.3 0 0 1 437.6,333.3M437.4,331.0L438.3,331.3M436.4,334.8L438.7,335.7M437.2,336.0L441.0,337.4M437.0,336.7L441.1,338.3M437.2,336.0A172.9,172.9 0 0 1 437.0,336.7M436.3,336.0L437.1,336.3M437.1,337.6L441.4,339.2M436.9,338.3L439.9,339.5M437.1,337.6A173.3,173.3 0 0 1 436.9,338.3M436.5,337.7L437.0,337.9M436.5,339.0L440.4,340.5M437.0,340.0L443.4,342.6M436.7,340.7L442.9,343.3M437.0,340.0A174.2,174.2 0 0 1 436.7,340.7M436.0,340.0L436.9,340.4M436.5,339.0A173.2,173.2 0 0 1 436.0,340.0M435.9,339.4L436.2,339.5M436.5,337.7A172.8,172.8 0 0 1 435.9,339.4M435.4,338.2L436.2,338.6M436.3,336.0A172.0,172.0 0 0 1 435.4,338.2M435.6,337.0L435.9,337.1M436.4,334.8A171.7,171.7 0 0 1 435.6,337.0M435.7,335.8L436.0,335.9M437.4,331.0A171.4,171.4 0 0 1 435.7,335.8M435.7,333.1L436.6,333.4M433.0,340.0L435.7,341.1M435.7,333.1A170.4,170.4 0 0 1 433.0,340.0M433.5,336.3L434.4,336.6M434.1,341.3L441.5,344.3M434.9,342.4L442.2,345.5M434.6,343.1L438.4,344.7M434.9,342.4A173.0,173.0 0 0 1 434.6,343.1M434.2,342.5L434.7,342.8M435.5,344.3L438.2,345.5M435.1,345.0L437.6,346.1M435.5,344.3A174.3,174.3 0 0 1 435.1,345.0M434.4,344.3L435.3,344.7M434.7,345.7L436.9,346.6M434.7,346.5L439.5,348.7M434.4,347.2L440.3,349.9M434.7,346.5A174.5,174.5 0 0 1 434.4,347.2M434.3,346.7L434.5,346.8M434.7,345.7A174.2,174.2 0 0 1 434.3,346.7M433.7,345.9L434.5,346.2M434.4,344.3A173.4,173.4 0 0 1 433.7,345.9M433.7,344.9L434.0,345.1M432.6,347.3L434.6,348.2M433.7,344.9A172.9,172.9 0 0 1 432.6,347.3M432.7,345.9L433.2,346.1M434.2,342.5A172.5,172.5 0 0 1 432.7,345.9M432.9,344.0L433.4,344.2M434.1,341.3A171.9,171.9 0 0 1 432.9,344.0M433.1,342.4L433.5,342.6M432.3,347.9L435.1,349.2M431.9,348.6L434.1,349.6M432.3,347.9A172.9,172.9 0 0 1 431.9,348.6M431.8,348.1L432.1,348.3M431.3,349.2L434.2,350.5M431.8,348.1A172.6,172.6 0 0 1 431.3,349.2M430.7,348.2L431.5,348.6M431.3,350.0L434.9,351.7M431.0,350.7L433.2,351.7M431.3,350.0A172.9,172.9 0 0 1 431.0,350.7M430.7,350.1L431.1,350.3M431.2,351.6L433.6,352.8M430.8,352.3L432.8,353.3M431.2,351.6A173.5,173.5 0 0 1 430.8,352.3M430.3,351.6L431.0,352.0M429.8,352.6L434.4,355.0M430.3,351.6A172.7,172.7 0 0 1 429.8,352.6M429.8,352.0L430.0,352.1M430.7,350.1A172.4,172.4 0 0 1 429.8,352.0M429.5,350.7L430.2,351.1M430.7,348.2A171.6,171.6 0 0 1 429.5,350.7M429.9,349.4L430.1,349.5M433.1,342.4A171.4,171.4 0 0 1 429.9,349.4M430.9,345.6L431.6,345.9M427.9,352.5L433.4,355.3M428.2,353.5L432.9,356.0M427.8,354.2L433.9,357.3M428.2,353.5A171.7,171.7 0 0 1 427.8,354.2M427.4,353.6L428.0,353.9M427.9,352.5A171.0,171.0 0 0 1 427.4,353.6M427.4,352.9L427.6,353.0M430.9,345.6A170.7,170.7 0 0 1 427.4,352.9M428.1,348.8L429.2,349.3M426.9,354.6L432.0,357.2M426.4,355.6L433.9,359.6M426.9,354.6A171.1,171.1 0 0 1 426.4,355.6M426.5,355.0L426.7,355.1M425.7,356.6L430.1,359.0M426.5,355.0A170.9,170.9 0 0 1 425.7,356.6M425.8,355.6L426.1,355.8M424.8,357.5L429.7,360.2M425.8,355.6A170.6,170.6 0 0 1 424.8,357.5M424.4,356.1L425.3,356.6M426.0,359.0L429.2,360.7M425.6,359.7L430.1,362.2M426.0,359.0A172.3,172.3 0 0 1 425.6,359.7M425.6,359.2L425.8,359.3M425.5,360.5L430.3,363.2M425.6,361.5L429.4,363.7M425.2,362.3L429.3,364.6M425.6,361.5A173.3,173.3 0 0 1 425.2,362.3M424.9,361.6L425.4,361.9M425.5,360.5A172.7,172.7 0 0 1 424.9,361.6M424.7,360.8L425.2,361.1M425.6,359.2A172.1,172.1 0 0 1 424.7,360.8M424.5,359.6L425.2,360.0M425.2,363.2L430.0,366.0M424.8,363.9L427.6,365.6M425.2,363.2A173.7,173.7 0 0 1 424.8,363.9M424.7,363.4L425.0,363.5M424.7,364.8L430.2,368.1M424.2,365.5L429.8,368.9M424.7,364.8A174.1,174.1 0 0 1 424.2,365.5M423.9,364.8L424.5,365.1M424.7,363.4A173.4,173.4 0 0 1 423.9,364.8M423.4,363.6L424.3,364.1M422.4,365.3L424.1,366.4M423.4,363.6A172.4,172.4 0 0 1 422.4,365.3M422.5,364.2L422.9,364.4M422.3,366.2L425.3,368.1M421.8,366.9L426.7,369.9M422.3,366.2A172.8,172.8 0 0 1 421.8,366.9M421.6,366.3L422.1,366.5M422.2,368.1L425.6,370.2M421.8,368.8L425.0,370.8M422.2,368.1A173.7,173.7 0 0 1 421.8,368.8M421.7,368.2L422.0,368.4M421.0,369.3L425.9,372.4M421.7,368.2A173.4,173.4 0 0 1 421.0,369.3M421.2,368.7L421.4,368.8M420.5,369.9L423.3,371.7M421.2,368.7A173.2,173.2 0 0 1 420.5,369.9M420.1,368.8L420.8,369.3M421.6,366.3A172.3,172.3 0 0 1 420.1,368.8M420.5,367.3L420.8,367.5M422.5,364.2A171.9,171.9 0 0 1 420.5,367.3M421.0,365.4L421.5,365.7M424.5,359.6A171.3,171.3 0 0 1 421.0,365.4M422.0,362.1L422.8,362.5M417.7,369.0L420.4,370.8M422.0,362.1A170.4,170.4 0 0 1 417.7,369.0M419.1,365.1L419.9,365.6M417.5,369.8L422.6,373.1M418.3,371.2L421.9,373.6M417.9,371.9L423.9,375.9M418.3,371.2A172.2,172.2 0 0 1 417.9,371.9M418.0,371.5L418.1,371.6M418.3,373.1L421.6,375.3M417.8,373.7L424.3,378.2M418.3,373.1A173.2,173.2 0 0 1 417.8,373.7M417.7,373.2L418.1,373.4M417.2,374.2L421.1,377.0M416.8,374.9L421.5,378.2M417.2,374.2A173.0,173.0 0 0 1 416.8,374.9M416.8,374.4L417.0,374.6M417.7,373.2A172.8,172.8 0 0 1 416.8,374.4M416.9,373.5L417.3,373.8M416.0,375.3L420.5,378.4M415.9,376.1L421.1,379.9M415.4,376.8L418.7,379.2M415.9,376.1A173.0,173.0 0 0 1 415.4,376.8M415.4,376.2L415.7,376.5M416.0,375.3A172.6,172.6 0 0 1 415.4,376.2M415.4,375.6L415.7,375.8M416.9,373.5A172.3,172.3 0 0 1 415.4,375.6M415.9,374.4L416.1,374.5M418.0,371.5A172.0,172.0 0 0 1 415.9,374.4M416.7,372.7L417.0,372.9M414.3,376.9L417.9,379.5M415.0,378.4L416.9,379.8M415.1,379.4L420.5,383.4M414.6,380.0L418.8,383.2M415.1,379.4A174.2,174.2 0 0 1 414.6,380.0M414.3,379.3L414.8,379.7M415.0,378.4A173.5,173.5 0 0 1 414.3,379.3M414.1,378.4L414.6,378.8M413.0,379.8L418.2,383.7M414.1,378.4A172.9,172.9 0 0 1 413.0,379.8M413.0,378.7L413.5,379.1M414.3,376.9A172.1,172.1 0 0 1 413.0,378.7M413.3,377.5L413.6,377.8M416.7,372.7A171.7,171.7 0 0 1 413.3,377.5M414.2,374.6L415.0,375.1M417.5,369.8A170.7,170.7 0 0 1 414.2,374.6M414.9,371.5L415.9,372.2M411.2,379.3L413.7,381.2M410.6,380.1L412.6,381.6M411.2,379.3A171.1,171.1 0 0 1 410.6,380.1M410.6,379.5L410.9,379.7M409.7,380.6L414.6,384.5M410.6,379.5A170.8,170.8 0 0 1 409.7,380.6M409.5,379.5L410.2,380.1M408.5,380.8L414.2,385.3M409.5,379.5A169.9,169.9 0 0 1 408.5,380.8M408.7,379.9L409.0,380.2M410.6,383.5L412.6,385.0M410.7,384.5L412.2,385.7M410.2,385.0L415.4,389.3M410.7,384.5A173.9,173.9 0 0 1 410.2,385.0M410.1,384.5L410.4,384.8M409.4,385.4L412.8,388.2M410.1,384.5A173.5,173.5 0 0 1 409.4,385.4M409.5,384.8L409.8,385.0M410.6,383.5A173.2,173.2 0 0 1 409.5,384.8M409.5,383.7L410.1,384.1M408.1,385.3L413.4,389.7M409.5,383.7A172.5,172.5 0 0 1 408.1,385.3M408.4,384.1L408.8,384.5M408.7,386.8L413.7,391.0M408.2,387.3L410.6,389.4M408.7,386.8A173.8,173.8 0 0 1 408.2,387.3M408.1,386.8L408.4,387.1M407.4,387.7L409.5,389.5M408.1,386.8A173.4,173.4 0 0 1 407.4,387.7M407.4,386.9L407.8,387.3M406.5,388.0L409.4,390.4M407.4,386.9A172.9,172.9 0 0 1 406.5,388.0M406.3,386.9L407.0,387.5M405.4,387.9L407.7,390.0M406.3,386.9A172.0,172.0 0 0 1 405.4,387.9M405.7,387.3L405.8,387.4M408.4,384.1A171.9,171.9 0 0 1 405.7,387.3M406.3,385.1L407.0,385.7M404.9,388.6L407.7,391.0M405.1,389.7L409.1,393.3M404.6,390.3L406.2,391.8M405.1,389.7A173.0,173.0 0 0 1 404.6,390.3M404.7,389.9L404.8,390.0M403.9,390.7L407.7,394.1M404.7,389.9A172.8,172.8 0 0 1 403.9,390.7M403.8,389.9L404.3,390.3M404.9,388.6A172.2,172.2 0 0 1 403.8,389.9M403.9,388.8L404.4,389.2M402.4,390.4L406.3,393.9M403.9,388.8A171.5,171.5 0 0 1 402.4,390.4M403.0,389.4L403.2,389.6M404.0,392.9L407.5,396.1M403.5,393.4L405.2,395.0M404.0,392.9A174.3,174.3 0 0 1 403.5,393.4M403.1,392.6L403.8,393.1M402.3,393.4L405.2,396.1M403.1,392.6A173.4,173.4 0 0 1 402.3,393.4M402.2,392.5L402.7,393.0M402.5,394.6L404.2,396.2M402.0,395.1L404.8,397.8M402.5,394.6A174.4,174.4 0 0 1 402.0,395.1M401.6,394.3L402.2,394.9M400.8,395.1L404.2,398.3M401.6,394.3A173.5,173.5 0 0 1 400.8,395.1M400.7,394.1L401.2,394.7M402.2,392.5A172.7,172.7 0 0 1 400.7,394.1M401.0,392.9L401.4,393.3M399.3,394.7L401.4,396.7M401.0,392.9A172.2,172.2 0 0 1 399.3,394.7M399.5,393.2L400.2,393.8M403.0,389.4A171.2,171.2 0 0 1 399.5,393.2M401.0,391.1L401.3,391.3M406.3,385.1A170.9,170.9 0 0 1 401.0,391.1M402.6,387.2L403.7,388.1M389.6,403.2L391.5,405.4M388.9,403.8L393.0,408.5M389.6,403.2A171.5,171.5 0 0 1 388.9,403.8M388.6,402.8L389.2,403.5M387.6,403.7L391.0,407.6M388.6,402.8A170.6,170.6 0 0 1 387.6,403.7M387.8,402.9L388.1,403.3M386.7,404.1L388.3,405.9M386.0,404.6L389.1,408.2M386.7,404.1A170.3,170.3 0 0 1 386.0,404.6M386.3,404.2L386.4,404.4M387.8,402.9A170.1,170.1 0 0 1 386.3,404.2M386.6,403.1L387.0,403.6M386.2,406.0L388.9,409.1M385.9,406.8L388.4,409.7M385.4,407.3L387.6,409.9M385.9,406.8A171.9,171.9 0 0 1 385.4,407.3M385.4,406.7L385.7,407.0M386.2,406.0A171.4,171.4 0 0 1 385.4,406.7M385.2,405.7L385.8,406.3M384.4,407.2L387.8,411.4M384.0,408.0L385.7,410.1M383.4,408.4L386.8,412.6M384.0,408.0A171.5,171.5 0 0 1 383.4,408.4M383.5,407.9L383.7,408.2M384.4,407.2A171.2,171.2 0 0 1 383.5,407.9M383.5,407.1L383.9,407.6M385.2,405.7A170.5,170.5 0 0 1 383.5,407.1M384.3,406.3L384.4,406.4M384.0,410.3L386.1,412.9M383.4,410.8L385.2,413.0M384.0,410.3A173.4,173.4 0 0 1 383.4,410.8M383.5,410.3L383.7,410.6M383.1,411.7L385.1,414.1M382.6,412.1L384.9,415.1M383.1,411.7A173.9,173.9 0 0 1 382.6,412.1M382.3,411.2L382.8,411.9M383.5,410.3A173.0,173.0 0 0 1 382.3,411.2M382.4,410.1L382.9,410.7M381.3,411.8L382.8,413.7M381.6,413.4L383.2,415.5M381.6,414.6L383.9,417.6M381.0,415.0L383.8,418.8M381.6,414.6A175.2,175.2 0 0 1 381.0,415.0M380.7,414.0L381.3,414.8M381.6,413.4A174.3,174.3 0 0 1 380.7,414.0M380.9,413.4L381.1,413.7M380.2,415.3L383.8,420.1M379.6,415.7L380.9,417.4M380.2,415.3A174.9,174.9 0 0 1 379.6,415.7M379.7,415.2L379.9,415.5M378.8,415.9L381.7,419.8M379.7,415.2A174.6,174.6 0 0 1 378.8,415.9M378.8,415.0L379.2,415.6M380.9,413.4A173.9,173.9 0 0 1 378.8,415.0M379.8,414.1L379.9,414.2M378.3,416.5L381.4,420.7M377.7,416.9L379.6,419.7M378.3,416.5A174.8,174.8 0 0 1 377.7,416.9M377.9,416.6L378.0,416.7M377.1,417.4L379.1,420.2M376.9,418.4L380.0,422.8M376.3,418.9L378.1,421.5M376.9,418.4A175.5,175.5 0 0 1 376.3,418.9M376.2,418.1L376.6,418.7M377.1,417.4A174.8,174.8 0 0 1 376.2,418.1M376.5,417.6L376.6,417.8M377.9,416.6A174.6,174.6 0 0 1 376.5,417.6M376.9,416.7L377.2,417.1M375.4,419.0L377.9,422.5M374.8,419.5L377.8,423.8M375.4,419.0A175.2,175.2 0 0 1 374.8,419.5M374.5,418.4L375.1,419.2M376.9,416.7A174.2,174.2 0 0 1 374.5,418.4M375.5,417.2L375.7,417.6M379.8,414.1A173.7,173.7 0 0 1 375.5,417.2M377.1,415.0L377.6,415.7M381.3,411.8A172.9,172.9 0 0 1 377.1,415.0M378.8,412.8L379.2,413.4M382.4,410.1A172.2,172.2 0 0 1 378.8,412.8M380.1,410.8L380.6,411.5M372.1,416.9L374.0,419.7M371.7,417.5L372.9,419.3M371.3,418.3L373.9,422.1M370.7,418.8L372.1,420.9M371.3,418.3A172.3,172.3 0 0 1 370.7,418.8M370.7,418.1L371.0,418.5M371.7,417.5A171.8,171.8 0 0 1 370.7,418.1M371.0,417.6L371.2,417.8M372.1,416.9A171.5,171.5 0 0 1 371.0,417.6M371.4,417.0L371.6,417.2M380.1,410.8A171.3,171.3 0 0 1 371.4,417.0M375.6,413.7L375.8,414.0M369.6,418.4L371.3,421.0M369.0,418.8L371.8,423.2M369.6,418.4A171.4,171.4 0 0 1 369.0,418.8M369.0,418.2L369.3,418.6M375.6,413.7A170.9,170.9 0 0 1 369.0,418.2M372.0,415.5L372.3,416.0M384.3,406.3A170.4,170.4 0 0 1 372.0,415.5M377.7,410.3L378.3,411.0M368.9,420.0L371.5,424.1M368.2,420.5L370.0,423.3M368.9,420.0A172.4,172.4 0 0 1 368.2,420.5M368.2,419.7L368.5,420.2M367.3,420.5L370.2,425.1M367.1,421.7L369.4,425.4M366.7,422.6L369.0,426.2M366.1,423.0L367.8,425.9M366.7,422.6A173.4,173.4 0 0 1 366.1,423.0M366.1,422.3L366.4,422.8M367.1,421.7A172.9,172.9 0 0 1 366.1,422.3M366.2,421.2L366.6,422.0M367.3,420.5A171.9,171.9 0 0 1 366.2,421.2M366.6,420.7L366.7,420.9M368.2,419.7A171.7,171.7 0 0 1 366.6,420.7M367.0,419.6L367.4,420.2M364.3,421.6L366.5,425.2M364.8,423.9L365.9,425.8M364.8,425.5L365.9,427.4M364.6,426.8L367.0,430.8M364.4,427.9L366.5,431.6M363.7,428.3L365.8,432.0M364.4,427.9A176.7,176.7 0 0 1 363.7,428.3M363.6,427.4L364.0,428.1M364.6,426.8A175.9,175.9 0 0 1 363.6,427.4M363.8,426.6L364.1,427.1M362.3,427.5L364.1,430.7M363.8,426.6A175.3,175.3 0 0 1 362.3,427.5M362.8,426.7L363.1,427.1M364.8,425.5A174.9,174.9 0 0 1 362.8,426.7M363.5,425.6L363.8,426.1M361.1,427.0L362.4,429.3M363.5,425.6A174.3,174.3 0 0 1 361.1,427.0M361.9,425.6L362.3,426.3M364.8,423.9A173.5,173.5 0 0 1 361.9,425.6M363.1,424.3L363.3,424.8M359.7,426.2L360.8,428.2M363.1,424.3A173.0,173.0 0 0 1 359.7,426.2M361.0,424.5L361.4,425.3M359.3,427.1L360.6,429.5M358.6,427.5L360.9,431.6M359.3,427.1A173.6,173.6 0 0 1 358.6,427.5M358.8,427.1L359.0,427.3M357.8,427.7L359.0,429.9M358.8,427.1A173.3,173.3 0 0 1 357.8,427.7M357.9,426.6L358.3,427.4M357.1,428.0L359.3,432.2M356.4,428.4L357.4,430.3M357.1,428.0A173.3,173.3 0 0 1 356.4,428.4M356.3,427.4L356.7,428.2M357.9,426.6A172.4,172.4 0 0 1 356.3,427.4M357.0,426.7L357.1,427.0M361.0,424.5A172.1,172.1 0 0 1 357.0,426.7M358.6,424.9L359.0,425.6M364.3,421.6A171.3,171.3 0 0 1 358.6,424.9M361.3,423.0L361.5,423.3M367.0,419.6A171.0,171.0 0 0 1 361.3,423.0M363.8,420.7L364.2,421.3M354.5,426.6L355.9,429.1M354.2,427.6L355.5,430.2M353.5,428.0L355.0,430.9M354.2,427.6A171.6,171.6 0 0 1 353.5,428.0M353.5,427.1L353.9,427.8M354.5,426.6A170.8,170.8 0 0 1 353.5,427.1M353.8,426.4L354.0,426.8M363.8,420.7A170.3,170.3 0 0 1 353.8,426.4M358.5,423.0L358.8,423.6M353.3,429.2L354.6,431.7M352.6,429.5L354.1,432.6M353.3,429.2A172.6,172.6 0 0 1 352.6,429.5M352.6,428.7L353.0,429.4M351.5,429.2L353.2,432.5M352.6,428.7A171.8,171.8 0 0 1 351.5,429.2M351.9,428.6L352.1,428.9M350.7,429.4L352.0,432.1M350.0,429.7L351.5,432.8M350.7,429.4A171.6,171.6 0 0 1 350.0,429.7M350.2,429.4L350.3,429.6M351.9,428.6A171.4,171.4 0 0 1 350.2,429.4M350.7,428.2L351.1,429.0M349.1,429.8L351.4,434.6M348.4,430.2L349.4,432.3M349.1,429.8A171.3,171.3 0 0 1 348.4,430.2M348.6,429.7L348.7,430.0M347.9,431.0L349.9,435.4M347.1,431.3L349.2,435.7M347.9,431.0A171.8,171.8 0 0 1 347.1,431.3M347.2,430.4L347.5,431.2M348.6,429.7A171.0,171.0 0 0 1 347.2,430.4M347.7,429.7L347.9,430.1M350.7,428.2A170.5,170.5 0 0 1 347.7,429.7M348.8,428.0L349.2,428.9M346.1,430.7L347.7,434.3M345.9,432.3L347.5,435.7M345.5,433.0L348.2,439.1M345.2,434.2L348.1,441.0M344.5,434.5L346.3,438.8M345.2,434.2A173.7,173.7 0 0 1 344.5,434.5M344.4,433.5L344.8,434.4M345.5,433.0A172.7,172.7 0 0 1 344.4,433.5M344.7,432.8L344.9,433.3M345.9,432.3A172.2,172.2 0 0 1 344.7,432.8M345.2,432.3L345.3,432.5M343.7,434.6L345.6,439.1M343.0,434.9L344.8,439.2M343.7,434.6A173.4,173.4 0 0 1 343.0,434.9M342.9,433.9L343.3,434.8M342.4,435.6L344.1,439.7M341.7,435.9L342.9,438.7M342.4,435.6A173.9,173.9 0 0 1 341.7,435.9M341.8,435.1L342.1,435.8M340.9,435.8L341.8,438.2M340.2,436.1L341.2,438.6M340.9,435.8A173.4,173.4 0 0 1 340.2,436.1M340.4,435.7L340.5,435.9M341.8,435.1A173.2,173.2 0 0 1 340.4,435.7M340.8,434.7L341.1,435.4M342.9,433.9A172.4,172.4 0 0 1 340.8,434.7M341.7,433.8L341.9,434.3M345.2,432.3A171.9,171.9 0 0 1 341.7,433.8M343.2,432.5L343.5,433.1M338.9,435.1L340.2,438.2M338.2,435.3L340.2,440.4M338.9,435.1A172.0,172.0 0 0 1 338.2,435.3M338.4,434.8L338.6,435.2M337.4,435.2L338.7,438.6M338.4,434.8A171.6,171.6 0 0 1 337.4,435.2M337.8,434.7L337.9,435.0M343.2,432.5A171.3,171.3 0 0 1 337.8,434.7M340.4,433.4L340.5,433.6M336.5,435.0L337.2,436.9M340.4,433.4A171.0,171.0 0 0 1 336.5,435.0M338.4,434.0L338.5,434.2M346.1,430.7A170.8,170.8 0 0 1 338.4,434.0M342.2,432.3L342.3,432.4M335.6,434.9L337.4,439.7M342.2,432.3A170.7,170.7 0 0 1 335.6,434.9M338.8,433.3L338.9,433.6M335.4,436.5L336.3,438.7M334.7,436.7L336.0,440.1M335.4,436.5A172.1,172.1 0 0 1 334.7,436.7M335.0,436.4L335.1,436.6M334.2,437.5L335.7,441.7M333.7,438.4L334.6,440.9M333.0,438.6L334.4,442.7M333.7,438.4A173.3,173.3 0 0 1 333.0,438.6M333.1,437.9L333.4,438.5M334.2,437.5A172.6,172.6 0 0 1 333.1,437.9M333.4,437.0L333.7,437.7M335.0,436.4A171.9,171.9 0 0 1 333.4,437.0M333.9,435.9L334.2,436.7M331.5,436.7L333.0,440.9M333.9,435.9A171.0,171.0 0 0 1 331.5,436.7M332.5,435.7L332.7,436.3M338.8,433.3A170.3,170.3 0 0 1 332.5,435.7M335.4,433.7L335.7,434.5M302.5,444.6L302.8,446.7M301.7,444.8L302.4,449.2M302.5,444.6A171.6,171.6 0 0 1 301.7,444.8M302.0,444.3L302.1,444.7M300.9,444.4L301.7,449.8M302.0,444.3A171.1,171.1 0 0 1 300.9,444.4M301.4,444.0L301.5,444.3M300.1,444.2L301.0,450.6M301.4,444.0A170.8,170.8 0 0 1 300.1,444.2M300.7,443.9L300.7,444.1M299.4,445.2L300.1,449.7M298.7,445.7L299.0,447.7M298.0,445.8L299.0,453.7M298.7,445.7A172.1,172.1 0 0 1 298.0,445.8M298.3,445.4L298.3,445.8M299.4,445.2A171.7,171.7 0 0 1 298.3,445.4M298.8,445.1L298.9,445.3M297.1,445.3L297.6,449.0M298.8,445.1A171.5,171.5 0 0 1 297.1,445.3M297.9,444.8L298.0,445.2M296.6,447.3L297.2,452.5M295.9,448.3L296.3,452.0M295.1,448.4L295.4,450.8M295.9,448.3A174.3,174.3 0 0 1 295.1,448.4M295.4,447.4L295.5,448.4M296.6,447.3A173.4,173.4 0 0 1 295.4,447.4M295.9,447.0L296.0,447.3M294.3,448.1L294.7,451.6M293.7,449.8L294.2,455.1M293.0,450.6L293.3,453.8M292.2,450.7L292.6,455.4M293.0,450.6A176.3,176.3 0 0 1 292.2,450.7M292.5,449.9L292.6,450.6M293.7,449.8A175.5,175.5 0 0 1 292.5,449.9M293.1,449.6L293.1,449.8M291.3,449.7L291.5,452.3M293.1,449.6A175.2,175.2 0 0 1 291.3,449.7M292.1,448.7L292.2,449.6M290.4,448.9L290.8,452.9M292.1,448.7A174.3,174.3 0 0 1 290.4,448.9M291.2,448.4L291.3,448.8M294.3,448.1A173.9,173.9 0 0 1 291.2,448.4M292.7,447.3L292.8,448.3M295.9,447.0A173.0,173.0 0 0 1 292.7,447.3M294.3,446.8L294.3,447.1M289.6,448.1L289.9,451.9M288.9,449.0L289.2,453.6M288.1,449.1L288.4,453.2M288.9,449.0A174.4,174.4 0 0 1 288.1,449.1M288.4,448.2L288.5,449.1M289.6,448.1A173.5,173.5 0 0 1 288.4,448.2M288.9,447.3L289.0,448.2M294.3,446.8A172.6,172.6 0 0 1 288.9,447.3M291.5,446.1L291.6,447.1M287.2,448.4L287.4,451.0M286.5,448.7L286.8,453.5M285.7,448.8L285.9,451.4M286.5,448.7A173.9,173.9 0 0 1 285.7,448.8M286.1,448.5L286.1,448.7M287.2,448.4A173.6,173.6 0 0 1 286.1,448.5M286.6,447.4L286.7,448.4M284.9,448.4L285.1,451.8M284.1,448.5L284.3,452.2M284.9,448.4A173.5,173.5 0 0 1 284.1,448.5M284.5,447.9L284.5,448.4M283.3,448.2L283.4,450.2M282.5,448.3L282.7,452.7M283.3,448.2A173.2,173.2 0 0 1 282.5,448.3M282.9,448.0L282.9,448.2M284.5,447.9A172.9,172.9 0 0 1 282.9,448.0M283.7,447.6L283.7,447.9M286.6,447.4A172.6,172.6 0 0 1 283.7,447.6M285.1,446.6L285.1,447.5M291.5,446.1A171.6,171.6 0 0 1 285.1,446.6M288.2,445.8L288.3,446.4M297.9,444.8A171.1,171.1 0 0 1 288.2,445.8M293.0,444.8L293.1,445.4M300.7,443.9A170.6,170.6 0 0 1 293.0,444.8M296.7,443.4L296.9,444.4M281.8,447.8L282.0,454.2M281.0,447.8L281.1,452.5M281.8,447.8A172.7,172.7 0 0 1 281.0,447.8M281.4,447.3L281.4,447.8M280.2,447.3L280.3,450.2M281.4,447.3A172.2,172.2 0 0 1 280.2,447.3M280.8,446.6L280.8,447.3M279.4,448.8L279.5,454.0M278.6,449.7L278.7,451.8M277.8,449.7L277.9,454.5M278.6,449.7A174.5,174.5 0 0 1 277.8,449.7M278.2,448.9L278.2,449.7M279.4,448.8A173.7,173.7 0 0 1 278.2,448.9M278.8,447.9L278.8,448.9M277.0,447.9L277.0,450.3M278.8,447.9A172.7,172.7 0 0 1 277.0,447.9M277.9,447.3L277.9,447.9M276.2,448.1L276.2,452.3M275.4,448.6L275.4,451.3M274.6,448.6L274.6,453.3M275.4,448.6A173.4,173.4 0 0 1 274.6,448.6M275.0,448.1L275.0,448.6M276.2,448.1A172.9,172.9 0 0 1 275.0,448.1M275.6,447.4L275.6,448.1M277.9,447.3A172.2,172.2 0 0 1 275.6,447.4M276.8,446.7L276.8,447.3M280.8,446.6A171.5,171.5 0 0 1 276.8,446.7M278.7,445.8L278.8,446.6M273.9,445.8L273.8,450.9M278.7,445.8A170.6,170.6 0 0 1 273.9,445.8M276.3,444.7L276.3,445.8M260.9,446.9L260.4,452.3M260.0,446.8L259.8,449.4M260.9,446.9A172.3,172.3 0 0 1 260.0,446.8M260.5,445.9L260.5,446.8M259.2,446.6L258.9,450.2M258.4,446.5L257.9,451.9M259.2,446.6A172.2,172.2 0 0 1 258.4,446.5M258.9,445.7L258.8,446.6M260.5,445.9A171.3,171.3 0 0 1 258.9,445.7M259.8,445.4L259.7,445.8M257.5,447.4L257.0,452.1M256.7,447.3L256.4,450.1M257.5,447.4A173.1,173.1 0 0 1 256.7,447.3M257.2,446.6L257.1,447.4M255.9,447.4L255.4,451.1M255.0,447.3L254.7,450.5M255.9,447.4A173.3,173.3 0 0 1 255.0,447.3M255.6,446.4L255.5,447.4M257.2,446.6A172.3,172.3 0 0 1 255.6,446.4M256.4,445.9L256.4,446.5M254.3,446.2L253.8,450.5M253.5,446.1L252.5,454.6M254.3,446.2A172.3,172.3 0 0 1 253.5,446.1M254.0,445.6L253.9,446.2M256.4,445.9A171.8,171.8 0 0 1 254.0,445.6M255.3,444.9L255.2,445.8M259.8,445.4A170.9,170.9 0 0 1 255.3,444.9M257.6,444.8L257.5,445.2M252.8,445.8L252.1,451.0M252.0,445.7L251.2,451.0M252.8,445.8A172.1,172.1 0 0 1 252.0,445.7M252.4,445.1L252.4,445.7M251.2,445.2L250.5,450.1M250.3,445.9L249.5,451.0M249.3,446.7L248.7,451.0M248.5,446.5L247.7,451.4M249.3,446.7A173.4,173.4 0 0 1 248.5,446.5M249.1,445.7L248.9,446.6M250.3,445.9A172.5,172.5 0 0 1 249.1,445.7M249.8,445.0L249.7,445.8M251.2,445.2A171.7,171.7 0 0 1 249.8,445.0M250.5,444.9L250.5,445.1M252.4,445.1A171.5,171.5 0 0 1 250.5,444.9M251.6,444.1L251.5,445.0M257.6,444.8A170.6,170.6 0 0 1 251.6,444.1M254.7,443.4L254.6,444.5M248.2,444.0L247.6,447.7M247.4,443.9L246.5,449.0M248.2,444.0A171.0,171.0 0 0 1 247.4,443.9M247.9,443.5L247.8,444.0M246.6,443.6L246.2,446.1M245.9,443.4L245.2,447.1M246.6,443.6A170.8,170.8 0 0 1 245.9,443.4M246.3,443.2L246.2,443.5M247.9,443.5A170.5,170.5 0 0 1 246.3,443.2M247.2,442.7L247.1,443.3M245.0,443.8L244.0,449.0M244.0,444.6L243.3,448.4M243.1,445.2L242.5,448.3M242.2,445.5L241.6,448.5M241.4,445.4L241.0,447.5M242.2,445.5A173.5,173.5 0 0 1 241.4,445.4M241.9,444.9L241.8,445.5M243.1,445.2A173.0,173.0 0 0 1 241.9,444.9M242.6,444.5L242.5,445.0M240.8,444.2L240.1,447.8M242.6,444.5A172.5,172.5 0 0 1 240.8,444.2M241.8,444.2L241.7,444.4M244.0,444.6A172.3,172.3 0 0 1 241.8,444.2M243.1,443.4L242.9,444.4M245.0,443.8A171.3,171.3 0 0 1 243.1,443.4M244.2,442.9L244.0,443.6M239.9,444.8L239.3,447.5M239.1,444.7L237.5,452.2M239.9,444.8A173.3,173.3 0 0 1 239.1,444.7M239.7,443.9L239.5,444.8M238.5,443.7L237.8,447.0M239.7,443.9A172.5,172.5 0 0 1 238.5,443.7M239.3,442.9L239.1,443.8M237.8,443.2L236.8,447.7M237.0,443.0L235.8,448.1M237.8,443.2A172.2,172.2 0 0 1 237.0,443.0M237.5,442.5L237.4,443.1M239.3,442.9A171.5,171.5 0 0 1 237.5,442.5M238.6,441.8L238.4,442.7M244.2,442.9A170.6,170.6 0 0 1 238.6,441.8M241.4,442.2L241.4,442.4M236.3,442.6L235.3,446.7M235.3,443.1L234.8,445.2M234.5,442.9L233.9,445.5M235.3,443.1A172.6,172.6 0 0 1 234.5,442.9M235.1,442.3L234.9,443.0M236.3,442.6A171.9,171.9 0 0 1 235.1,442.3M235.8,441.8L235.7,442.4M234.1,441.4L232.3,448.4M235.8,441.8A171.2,171.2 0 0 1 234.1,441.4M235.2,440.8L235.0,441.6M241.4,442.2A170.4,170.4 0 0 1 235.2,440.8M238.4,441.0L238.3,441.5M247.2,442.7A169.9,169.9 0 0 1 238.4,441.0M242.9,441.5L242.8,441.9M233.5,440.8L232.3,445.7M232.1,440.5L231.6,442.5M233.5,440.8A170.9,170.9 0 0 1 232.1,440.5M232.9,440.1L232.8,440.7M230.9,439.5L229.5,444.5M232.9,440.1A170.2,170.2 0 0 1 230.9,439.5M232.1,439.1L231.9,439.8M229.9,440.3L228.8,444.5M228.7,441.9L227.6,446.0M228.0,441.7L226.6,446.6M228.7,441.9A173.1,173.1 0 0 1 228.0,441.7M228.5,441.2L228.3,441.8M227.4,440.9L226.8,443.2M228.5,441.2A172.5,172.5 0 0 1 227.4,440.9M228.1,440.5L228.0,441.0M226.3,442.2L225.2,445.7M225.5,442.0L224.6,445.2M226.3,442.2A174.1,174.1 0 0 1 225.5,442.0M226.1,441.4L225.9,442.1M225.0,441.1L224.3,443.5M226.1,441.4A173.4,173.4 0 0 1 225.0,441.1M225.7,440.7L225.6,441.2M223.9,442.3L222.2,447.6M223.1,442.1L221.9,446.2M223.9,442.3A174.9,174.9 0 0 1 223.1,442.1M223.8,441.3L223.5,442.2M222.6,441.4L220.9,446.5M221.8,441.2L220.9,444.1M222.6,441.4A174.4,174.4 0 0 1 221.8,441.2M222.3,440.9L222.2,441.3M223.8,441.3A174.0,174.0 0 0 1 222.3,440.9M223.2,440.6L223.1,441.1M221.3,440.5L220.5,442.9M220.5,440.3L219.2,444.4M221.3,440.5A174.0,174.0 0 0 1 220.5,440.3M221.1,439.9L220.9,440.4M223.2,440.6A173.4,173.4 0 0 1 221.1,439.9M222.3,439.7L222.1,440.3M225.7,440.7A172.8,172.8 0 0 1 222.3,439.7M224.3,439.4L224.0,440.2M228.1,440.5A171.9,171.9 0 0 1 224.3,439.4M226.4,439.3L226.2,439.9M229.9,440.3A171.2,171.2 0 0 1 226.4,439.3M228.3,439.3L228.2,439.8M220.2,438.9L218.6,443.7M219.5,438.7L218.7,441.1M220.2,438.9A172.8,172.8 0 0 1 219.5,438.7M219.9,438.6L219.9,438.8M218.9,438.2L217.1,443.3M219.9,438.6A172.5,172.5 0 0 1 218.9,438.2M219.5,438.0L219.4,438.4M218.3,437.6L217.2,440.7M219.5,438.0A172.1,172.1 0 0 1 218.3,437.6M219.2,436.9L218.9,437.8M217.7,436.9L216.7,439.9M217.0,436.7L215.3,441.6M217.7,436.9A171.7,171.7 0 0 1 217.0,436.7M217.6,436.3L217.4,436.8M219.2,436.9A171.2,171.2 0 0 1 217.6,436.3M218.6,436.1L218.4,436.6M228.3,439.3A170.7,170.7 0 0 1 218.6,436.1M223.6,437.1L223.4,437.8M216.5,435.9L215.4,439.1M215.6,436.4L213.3,442.4M214.9,436.1L212.8,441.7M215.6,436.4A171.9,171.9 0 0 1 214.9,436.1M215.5,435.5L215.2,436.2M216.5,435.9A171.2,171.2 0 0 1 215.5,435.5M216.3,435.0L216.0,435.7M214.3,435.6L212.3,440.7M213.6,435.4L212.4,438.4M214.3,435.6A171.7,171.7 0 0 1 213.6,435.4M214.1,435.1L213.9,435.5M212.8,435.2L211.1,439.6M211.4,436.8L210.3,439.5M210.7,436.5L208.7,441.6M211.4,436.8A173.8,173.8 0 0 1 210.7,436.5M211.3,436.1L211.1,436.6M210.2,435.7L208.7,439.4M211.3,436.1A173.2,173.2 0 0 1 210.2,435.7M211.1,435.1L210.7,435.9M209.8,434.7L207.2,441.0M209.1,434.5L206.8,439.9M209.8,434.7A172.5,172.5 0 0 1 209.1,434.5M209.5,434.4L209.5,434.6M211.1,435.1A172.3,172.3 0 0 1 209.5,434.4M210.5,434.3L210.3,434.7M212.8,435.2A171.8,171.8 0 0 1 210.5,434.3M211.9,434.3L211.7,434.8M214.1,435.1A171.3,171.3 0 0 1 211.9,434.3M213.3,433.8L213.0,434.7M216.3,435.0A170.3,170.3 0 0 1 213.3,433.8M214.9,434.0L214.8,434.4M223.6,437.1A169.9,169.9 0 0 1 214.9,434.0M219.4,435.2L219.3,435.6M209.3,432.2L207.4,436.7M208.5,431.8L206.3,437.1M209.3,432.2A170.3,170.3 0 0 1 208.5,431.8M209.0,431.8L208.9,432.0M206.7,433.9L204.7,438.5M205.8,434.0L204.0,438.1M205.0,433.7L202.4,439.5M205.8,434.0A173.4,173.4 0 0 1 205.0,433.7M205.6,433.4L205.4,433.9M206.7,433.9A172.9,172.9 0 0 1 205.6,433.4M206.3,433.4L206.2,433.7M204.3,433.3L202.9,436.3M203.5,433.0L200.7,439.1M204.3,433.3A173.4,173.4 0 0 1 203.5,433.0M204.2,432.5L203.9,433.1M206.3,433.4A172.6,172.6 0 0 1 204.2,432.5M205.6,432.1L205.2,432.9M203.0,432.1L200.1,438.4M202.2,431.7L200.9,434.7M203.0,432.1A172.8,172.8 0 0 1 202.2,431.7M202.8,431.5L202.6,431.9M201.3,431.8L199.9,434.7M200.2,432.1L199.2,434.2M199.4,431.7L196.5,437.8M200.2,432.1A174.0,174.0 0 0 1 199.4,431.7M200.2,431.2L199.8,431.9M201.3,431.8A173.2,173.2 0 0 1 200.2,431.2M201.1,430.7L200.7,431.5M202.8,431.5A172.3,172.3 0 0 1 201.1,430.7M202.2,430.6L202.0,431.1M205.6,432.1A171.8,171.8 0 0 1 202.2,430.6M204.3,430.5L203.9,431.4M199.8,429.1L197.9,433.0M199.1,428.7L197.3,432.2M199.8,429.1A171.4,171.4 0 0 1 199.1,428.7M199.7,428.3L199.4,428.9M204.3,430.5A170.8,170.8 0 0 1 199.7,428.3M202.3,428.8L202.0,429.4M209.0,431.8A170.1,170.1 0 0 1 202.3,428.8M205.9,429.8L205.6,430.4M199.1,427.1L197.1,431.0M197.4,428.7L194.4,434.6M196.7,428.3L195.6,430.4M197.4,428.7A172.2,172.2 0 0 1 196.7,428.3M197.4,427.8L197.1,428.5M196.2,427.6L193.9,432.1M195.5,427.4L193.2,431.6M194.8,427.0L193.2,430.0M195.5,427.4A171.9,171.9 0 0 1 194.8,427.0M195.2,427.0L195.1,427.2M196.2,427.6A171.7,171.7 0 0 1 195.2,427.0M195.9,427.0L195.7,427.3M197.4,427.8A171.4,171.4 0 0 1 195.9,427.0M197.1,426.6L196.7,427.4M194.4,426.1L191.7,431.1M193.7,425.8L191.6,429.6M194.4,426.1A171.3,171.3 0 0 1 193.7,425.8M194.3,425.6L194.0,425.9M193.2,425.0L190.8,429.5M194.3,425.6A170.9,170.9 0 0 1 193.2,425.0M193.9,424.9L193.7,425.3M197.1,426.6A170.5,170.5 0 0 1 193.9,424.9M195.6,425.6L195.5,425.8M191.5,426.6L187.6,433.5M190.8,426.2L186.9,433.1M191.5,426.6A173.1,173.1 0 0 1 190.8,426.2M191.6,425.5L191.1,426.4M190.4,425.3L188.3,429.0M189.7,424.9L187.6,428.6M190.4,425.3A172.5,172.5 0 0 1 189.7,424.9M190.3,424.8L190.1,425.1M191.6,425.5A172.1,172.1 0 0 1 190.3,424.8M191.4,424.3L190.9,425.2M189.1,424.4L187.8,426.8M188.5,424.1L185.7,428.8M189.1,424.4A172.4,172.4 0 0 1 188.5,424.1M189.0,424.0L188.8,424.2M188.0,423.4L186.7,425.5M189.0,424.0A172.0,172.0 0 0 1 188.0,423.4M188.7,423.2L188.5,423.7M187.4,422.9L186.0,425.2M186.5,422.7L183.3,428.0M185.9,422.3L183.8,425.8M186.5,422.7A172.2,172.2 0 0 1 185.9,422.3M186.4,422.3L186.2,422.5M187.4,422.9A171.9,171.9 0 0 1 186.4,422.3M187.1,422.2L186.9,422.6M188.7,423.2A171.5,171.5 0 0 1 187.1,422.2M188.1,422.4L187.9,422.7M191.4,424.3A171.1,171.1 0 0 1 188.1,422.4M189.9,423.1L189.8,423.4M184.7,422.8L183.3,425.1M184.0,422.4L181.5,426.5M184.7,422.8A173.3,173.3 0 0 1 184.0,422.4M184.8,421.8L184.3,422.6M183.4,421.8L181.4,425.0M182.8,421.4L181.5,423.4M183.4,421.8A173.1,173.1 0 0 1 182.8,421.4M183.5,421.0L183.1,421.6M184.8,421.8A172.3,172.3 0 0 1 183.5,421.0M184.3,421.2L184.2,421.4M182.2,420.9L179.0,425.9M181.5,420.5L178.0,425.9M182.2,420.9A173.0,173.0 0 0 1 181.5,420.5M182.3,420.0L181.9,420.7M184.3,421.2A172.1,172.1 0 0 1 182.3,420.0M183.5,420.3L183.3,420.6M180.8,420.2L179.7,421.9M180.2,419.7L177.6,423.6M180.8,420.2A173.1,173.1 0 0 1 180.2,419.7M180.8,419.4L180.5,419.9M179.8,418.8L175.8,424.9M180.8,419.4A172.5,172.5 0 0 1 179.8,418.8M180.8,418.5L180.3,419.1M183.5,420.3A171.7,171.7 0 0 1 180.8,418.5M182.6,418.7L182.1,419.4M189.9,423.1A170.9,170.9 0 0 1 182.6,418.7M186.5,420.4L186.2,421.0M195.6,425.6A170.3,170.3 0 0 1 186.5,420.4M191.2,422.8L191.0,423.1M199.1,427.1A170.0,170.0 0 0 1 191.2,422.8M195.3,424.6L195.1,425.0M164.3,405.9L161.5,409.2M163.6,405.6L161.0,408.6M163.0,405.1L158.9,409.9M163.6,405.6A171.8,171.8 0 0 1 163.0,405.1M163.4,405.2L163.3,405.3M164.3,405.9A171.5,171.5 0 0 1 163.4,405.2M164.0,405.4L163.9,405.5M161.6,405.6L157.2,410.6M160.4,405.7L157.8,408.7M159.8,405.2L157.4,407.9M160.4,405.7A173.9,173.9 0 0 1 159.8,405.2M160.7,404.8L160.1,405.4M161.6,405.6A173.1,173.1 0 0 1 160.7,404.8M161.7,404.5L161.1,405.2M159.0,404.9L156.6,407.6M158.1,404.8L153.9,409.4M157.5,404.2L155.5,406.4M158.1,404.8A174.8,174.8 0 0 1 157.5,404.2M158.1,404.2L157.8,404.5M159.0,404.9A174.3,174.3 0 0 1 158.1,404.2M159.1,403.9L158.5,404.6M157.3,403.3L155.5,405.3M156.8,402.7L152.2,407.6M157.3,403.3A174.2,174.2 0 0 1 156.8,402.7M157.5,402.5L157.0,403.0M159.1,403.9A173.5,173.5 0 0 1 157.5,402.5M158.9,402.6L158.3,403.2M156.6,401.7L155.1,403.3M155.6,401.7L152.0,405.5M155.0,401.2L153.3,403.0M155.6,401.7A174.3,174.3 0 0 1 155.0,401.2M155.8,400.9L155.3,401.5M156.6,401.7A173.5,173.5 0 0 1 155.8,400.9M156.8,400.7L156.2,401.3M158.9,402.6A172.6,172.6 0 0 1 156.8,400.7M158.2,401.3L157.8,401.6M161.7,404.5A172.1,172.1 0 0 1 158.2,401.3M160.5,402.3L160.0,402.9M164.0,405.4A171.3,171.3 0 0 1 160.5,402.3M162.4,403.7L162.2,403.8M156.6,398.4L153.5,401.6M162.4,403.7A171.1,171.1 0 0 1 156.6,398.4M159.6,400.9L159.5,401.1M155.9,398.0L154.1,399.8M155.4,397.4L152.2,400.7M155.9,398.0A171.3,171.3 0 0 1 155.4,397.4M156.0,397.4L155.7,397.7M159.6,400.9A170.9,170.9 0 0 1 156.0,397.4M158.0,398.9L157.8,399.2M154.6,397.1L150.1,401.7M153.8,396.9L149.7,400.9M153.2,396.3L149.3,400.2M153.8,396.9A172.0,172.0 0 0 1 153.2,396.3M153.8,396.3L153.5,396.6M154.6,397.1A171.6,171.6 0 0 1 153.8,396.3M154.6,396.4L154.2,396.7M151.7,396.7L149.5,398.9M151.2,396.2L146.2,401.1M151.7,396.7A173.4,173.4 0 0 1 151.2,396.2M151.6,396.3L151.4,396.5M150.1,396.1L147.5,398.6M149.6,395.6L145.0,400.0M150.1,396.1A174.1,174.1 0 0 1 149.6,395.6M150.5,395.2L149.8,395.8M151.6,396.3A173.2,173.2 0 0 1 150.5,395.2M151.4,395.4L151.0,395.8M150.1,394.0L148.5,395.5M151.4,395.4A172.7,172.7 0 0 1 150.1,394.0M151.0,394.4L150.7,394.7M149.8,393.2L147.1,395.7M151.0,394.4A172.3,172.3 0 0 1 149.8,393.2M150.8,393.4L150.4,393.8M148.5,393.3L145.1,396.5M148.0,392.8L143.1,397.3M148.5,393.3A173.4,173.4 0 0 1 148.0,392.8M148.8,392.5L148.2,393.1M148.0,391.7L146.0,393.5M148.8,392.5A172.6,172.6 0 0 1 148.0,391.7M149.0,391.5L148.4,392.1M150.8,393.4A171.7,171.7 0 0 1 149.0,391.5M150.4,392.1L149.9,392.5M154.6,396.4A171.1,171.1 0 0 1 150.4,392.1M152.9,393.8L152.5,394.2M158.0,398.9A170.5,170.5 0 0 1 152.9,393.8M156.1,395.7L155.4,396.4M147.7,391.0L146.2,392.4M147.1,390.4L143.8,393.4M147.7,391.0A172.4,172.4 0 0 1 147.1,390.4M147.8,390.4L147.4,390.7M145.8,390.3L142.9,392.9M145.3,389.7L141.1,393.4M145.8,390.3A173.3,173.3 0 0 1 145.3,389.7M146.2,389.4L145.6,390.0M144.9,388.8L138.9,394.1M144.3,388.2L139.1,392.7M144.9,388.8A173.0,173.0 0 0 1 144.3,388.2M145.1,388.1L144.6,388.5M146.2,389.4A172.4,172.4 0 0 1 145.1,388.1M146.0,388.4L145.7,388.8M147.8,390.4A171.9,171.9 0 0 1 146.0,388.4M147.5,388.9L146.9,389.4M144.7,386.7L141.6,389.4M144.2,386.0L139.5,390.0M144.7,386.7A171.8,171.8 0 0 1 144.2,386.0M144.9,386.0L144.5,386.4M147.5,388.9A171.2,171.2 0 0 1 144.9,386.0M146.5,387.2L146.2,387.4M143.9,385.2L138.6,389.5M142.6,385.1L141.0,386.5M142.0,384.4L139.3,386.6M142.6,385.1A172.4,172.4 0 0 1 142.0,384.4M143.0,384.2L142.3,384.8M143.9,385.2A171.5,171.5 0 0 1 143.0,384.2M144.0,384.2L143.4,384.7M146.5,387.2A170.8,170.8 0 0 1 144.0,384.2M146.2,384.9L145.2,385.7M141.1,384.2L137.0,387.6M140.3,383.9L136.2,387.2M139.8,383.4L137.5,385.2M140.3,383.9A173.4,173.4 0 0 1 139.8,383.4M140.4,383.4L140.1,383.6M141.1,384.2A173.0,173.0 0 0 1 140.4,383.4M141.2,383.5L140.8,383.8M138.9,383.1L136.7,384.9M138.5,382.5L133.6,386.3M138.9,383.1A174.0,174.0 0 0 1 138.5,382.5M139.3,382.3L138.7,382.8M138.6,381.4L133.5,385.4M139.3,382.3A173.2,173.2 0 0 1 138.6,381.4M139.5,381.4L138.9,381.9M141.2,383.5A172.4,172.4 0 0 1 139.5,381.4M140.5,382.3L140.4,382.4M137.2,381.5L133.7,384.3M136.2,381.3L133.2,383.6M135.8,380.7L134.0,382.0M136.2,381.3A175.0,175.0 0 0 1 135.8,380.7M136.5,380.6L136.0,381.0M137.2,381.5A174.3,174.3 0 0 1 136.5,380.6M137.2,380.8L136.9,381.0M136.2,379.4L133.3,381.6M137.2,380.8A173.9,173.9 0 0 1 136.2,379.4M137.2,379.7L136.7,380.1M135.9,378.7L132.0,381.6M134.3,378.9L130.4,381.8M133.9,378.3L131.6,379.9M134.3,378.9A175.1,175.1 0 0 1 133.9,378.3M134.8,378.1L134.1,378.6M134.1,377.2L132.1,378.6M134.8,378.1A174.2,174.2 0 0 1 134.1,377.2M134.9,377.3L134.5,377.6M135.9,378.7A173.6,173.6 0 0 1 134.9,377.3M135.8,377.7L135.4,378.0M137.2,379.7A173.2,173.2 0 0 1 135.8,377.7M137.3,378.1L136.5,378.7M140.5,382.3A172.2,172.2 0 0 1 137.3,378.1M139.3,379.9L138.9,380.2M134.3,376.1L130.0,379.1M133.9,375.5L131.6,377.0M134.3,376.1A173.5,173.5 0 0 1 133.9,375.5M134.8,375.3L134.1,375.8M134.1,374.4L132.3,375.6M134.8,375.3A172.6,172.6 0 0 1 134.1,374.4M135.1,374.3L134.4,374.8M139.3,379.9A171.8,171.8 0 0 1 135.1,374.3M137.8,376.7L137.2,377.2M134.2,373.4L131.2,375.5M133.1,373.2L129.6,375.6M132.5,372.7L129.6,374.7M131.8,372.3L126.1,376.1M131.3,371.7L128.7,373.5M131.8,372.3A173.4,173.4 0 0 1 131.3,371.7M131.9,371.8L131.5,372.0M132.5,372.7A173.0,173.0 0 0 1 131.9,371.8M132.4,372.1L132.2,372.2M133.1,373.2A172.8,172.8 0 0 1 132.4,372.1M133.3,372.3L132.7,372.7M131.9,370.4L129.4,372.1M133.3,372.3A172.2,172.2 0 0 1 131.9,370.4M132.8,371.2L132.6,371.3M134.2,373.4A172.0,172.0 0 0 1 132.8,371.2M134.3,371.8L133.5,372.3M137.8,376.7A171.0,171.0 0 0 1 134.3,371.8M137.2,373.4L136.0,374.3M132.8,368.9L127.1,372.7M132.4,368.3L130.3,369.7M132.8,368.9A170.6,170.6 0 0 1 132.4,368.3M133.0,368.3L132.6,368.6M132.4,367.4L127.9,370.3M133.0,368.3A170.1,170.1 0 0 1 132.4,367.4M133.0,367.7L132.7,367.9M130.4,367.8L128.6,369.0M130.0,367.2L127.6,368.6M130.4,367.8A172.1,172.1 0 0 1 130.0,367.2M130.6,367.2L130.2,367.5M129.6,366.5L125.6,369.0M129.2,365.8L126.5,367.5M129.6,366.5A172.0,172.0 0 0 1 129.2,365.8M129.7,366.0L129.4,366.2M130.6,367.2A171.6,171.6 0 0 1 129.7,366.0M130.4,366.4L130.2,366.6M129.0,365.1L126.0,366.9M128.6,364.4L123.2,367.7M129.0,365.1A171.8,171.8 0 0 1 128.6,364.4M129.2,364.5L128.8,364.8M130.4,366.4A171.3,171.3 0 0 1 129.2,364.5M130.3,365.1L129.8,365.5M126.7,364.7L124.4,366.1M126.3,364.1L124.2,365.3M126.7,364.7A173.6,173.6 0 0 1 126.3,364.1M127.0,364.0L126.5,364.4M126.4,363.1L119.5,367.2M127.0,364.0A172.9,172.9 0 0 1 126.4,363.1M127.3,363.2L126.7,363.5M126.3,362.2L121.6,365.0M124.9,362.2L122.9,363.3M124.6,361.5L119.5,364.4M124.9,362.2A173.8,173.8 0 0 1 124.6,361.5M125.0,361.7L124.7,361.8M124.3,360.8L122.0,362.1M123.9,360.1L120.4,362.1M124.3,360.8A173.7,173.7 0 0 1 123.9,360.1M124.3,360.3L124.1,360.5M125.0,361.7A173.5,173.5 0 0 1 124.3,360.3M125.4,360.6L124.6,361.0M126.3,362.2A172.6,172.6 0 0 1 125.4,360.6M126.1,361.3L125.9,361.4M127.3,363.2A172.3,172.3 0 0 1 126.1,361.3M127.2,361.9L126.7,362.3M124.5,358.9L118.6,362.1M124.1,358.2L118.9,361.1M124.5,358.9A172.6,172.6 0 0 1 124.1,358.2M125.1,358.1L124.3,358.6M127.2,361.9A171.7,171.7 0 0 1 125.1,358.1M127.0,359.5L126.1,360.0M130.3,365.1A170.7,170.7 0 0 1 127.0,359.5M129.4,361.9L128.7,362.4M133.0,367.7A169.8,169.8 0 0 1 129.4,361.9M131.4,364.7L131.2,364.8M125.5,356.7L119.4,360.0M124.6,356.0L118.7,359.2M124.2,355.2L121.7,356.5M124.6,356.0A171.1,171.1 0 0 1 124.2,355.2M124.6,355.5L124.4,355.6M124.0,354.2L118.8,356.9M124.6,355.5A170.8,170.8 0 0 1 124.0,354.2M124.5,354.8L124.3,354.9M125.5,356.7A170.6,170.6 0 0 1 124.5,354.8M126.0,355.2L125.0,355.7M121.4,354.7L119.1,355.9M120.2,354.5L114.2,357.5M119.9,353.8L116.7,355.4M120.2,354.5A174.2,174.2 0 0 1 119.9,353.8M120.9,353.7L120.1,354.1M121.4,354.7A173.3,173.3 0 0 1 120.9,353.7M121.5,354.0L121.1,354.2M120.7,352.4L114.9,355.4M121.5,354.0A172.9,172.9 0 0 1 120.7,352.4M121.8,352.9L121.1,353.2M120.1,351.8L113.6,355.1M119.8,351.1L116.1,352.9M120.1,351.8A173.2,173.2 0 0 1 119.8,351.1M120.9,351.1L120.0,351.5M121.8,352.9A172.2,172.2 0 0 1 120.9,351.1M121.8,351.7L121.3,352.0M120.2,350.1L116.1,352.0M119.8,349.4L115.0,351.7M120.2,350.1A172.3,172.3 0 0 1 119.8,349.4M120.7,349.4L120.0,349.7M121.8,351.7A171.6,171.6 0 0 1 120.7,349.4M121.8,350.3L121.3,350.5M119.0,348.9L112.9,351.8M118.7,348.1L113.9,350.4M119.0,348.9A172.8,172.8 0 0 1 118.7,348.1M119.2,348.4L118.9,348.5M118.7,347.3L115.0,349.0M119.2,348.4A172.5,172.5 0 0 1 118.7,347.3M119.7,347.5L118.9,347.8M119.1,346.2L116.7,347.3M119.7,347.5A171.7,171.7 0 0 1 119.1,346.2M119.6,346.8L119.4,346.9M117.3,346.2L111.5,348.8M117.0,345.4L113.6,346.9M117.3,346.2A173.3,173.3 0 0 1 117.0,345.4M117.8,345.5L117.2,345.8M117.4,344.4L112.0,346.8M117.8,345.5A172.5,172.5 0 0 1 117.4,344.4M118.1,344.8L117.6,345.0M117.5,343.5L113.0,345.5M118.1,344.8A172.0,172.0 0 0 1 117.5,343.5M118.0,344.1L117.8,344.1M116.6,343.0L109.3,346.2M115.7,342.5L110.6,344.7M115.0,342.0L110.5,343.8M114.7,341.2L112.7,342.1M115.0,342.0A173.7,173.7 0 0 1 114.7,341.2M115.3,341.5L114.9,341.6M115.7,342.5A173.3,173.3 0 0 1 115.3,341.5M115.9,341.8L115.5,342.0M113.8,340.8L111.4,341.7M113.5,340.0L110.7,341.1M113.8,340.8A174.4,174.4 0 0 1 113.5,340.0M114.5,340.0L113.6,340.4M114.1,338.9L107.9,341.4M114.5,340.0A173.5,173.5 0 0 1 114.1,338.9M114.8,339.3L114.3,339.5M115.9,341.8A172.9,172.9 0 0 1 114.8,339.3M115.5,340.5L115.3,340.6M116.6,343.0A172.7,172.7 0 0 1 115.5,340.5M116.8,341.4L116.0,341.8M118.0,344.1A171.8,171.8 0 0 1 116.8,341.4M117.7,342.6L117.4,342.8M119.6,346.8A171.5,171.5 0 0 1 117.7,342.6M119.1,344.5L118.6,344.7M121.8,350.3A170.9,170.9 0 0 1 119.1,344.5M121.8,346.8L120.5,347.4M114.9,337.8L112.6,338.8M114.6,337.1L109.9,338.9M114.9,337.8A172.3,172.3 0 0 1 114.6,337.1M115.2,337.3L114.8,337.5M114.3,336.4L110.7,337.8M114.1,335.7L108.3,337.8M114.3,336.4A172.3,172.3 0 0 1 114.1,335.7M114.6,335.9L114.2,336.0M115.2,337.3A171.8,171.8 0 0 1 114.6,335.9M115.7,336.3L114.9,336.6M114.4,334.7L108.3,337.0M114.2,334.0L109.9,335.5M114.4,334.7A171.6,171.6 0 0 1 114.2,334.0M114.9,334.1L114.3,334.3M115.7,336.3A171.0,171.0 0 0 1 114.9,334.1M115.5,335.1L115.3,335.2M114.1,333.2L111.5,334.1M113.8,332.4L108.9,334.2M114.1,333.2A171.4,171.4 0 0 1 113.8,332.4M114.5,332.6L113.9,332.8M115.5,335.1A170.8,170.8 0 0 1 114.5,332.6M115.2,333.8L115.0,333.9M112.8,332.0L106.9,334.0M111.9,331.5L107.5,333.0M110.2,331.2L104.0,333.3M109.4,330.6L104.9,332.2M109.2,329.9L104.8,331.3M109.4,330.6A175.0,175.0 0 0 1 109.2,329.9M109.8,330.1L109.3,330.3M110.2,331.2A174.4,174.4 0 0 1 109.8,330.1M110.9,330.3L110.0,330.6M110.4,328.7L105.5,330.2M110.9,330.3A173.5,173.5 0 0 1 110.4,328.7M111.1,329.3L110.6,329.5M111.9,331.5A173.0,173.0 0 0 1 111.1,329.3M111.7,330.3L111.5,330.4M110.2,327.9L103.0,330.2M107.8,327.8L102.8,329.4M107.6,327.1L103.1,328.4M107.8,327.8A175.7,175.7 0 0 1 107.6,327.1M108.6,327.2L107.7,327.4M108.2,326.0L105.3,326.9M108.6,327.2A174.7,174.7 0 0 1 108.2,326.0M109.0,326.4L108.4,326.6M108.4,325.2L103.8,326.5M108.1,324.4L105.1,325.3M108.4,325.2A174.4,174.4 0 0 1 108.1,324.4M108.5,324.7L108.2,324.8M109.0,326.4A174.1,174.1 0 0 1 108.5,324.7M109.4,325.4L108.8,325.6M110.2,327.9A173.4,173.4 0 0 1 109.4,325.4M110.4,326.4L109.8,326.6M111.7,330.3A172.7,172.7 0 0 1 110.4,326.4M111.5,328.2L111.0,328.4M112.8,332.0A172.2,172.2 0 0 1 111.5,328.2M112.6,330.0L112.2,330.1M110.1,323.0L102.1,325.3M109.5,322.4L106.7,323.2M109.0,321.7L105.9,322.6M108.8,321.0L104.3,322.2M109.0,321.7A172.8,172.8 0 0 1 108.8,321.0M109.2,321.3L108.9,321.3M109.5,322.4A172.5,172.5 0 0 1 109.2,321.3M109.7,321.7L109.3,321.8M110.1,323.0A172.1,172.1 0 0 1 109.7,321.7M110.2,322.3L109.9,322.4M112.6,330.0A171.8,171.8 0 0 1 110.2,322.3M111.7,326.0L111.4,326.1M109.4,320.0L103.6,321.6M109.2,319.2L104.8,320.4M109.4,320.0A172.0,172.0 0 0 1 109.2,319.2M109.8,319.5L109.3,319.6M111.7,326.0A171.5,171.5 0 0 1 109.8,319.5M111.5,322.5L110.7,322.8M115.2,333.8A170.6,170.6 0 0 1 111.5,322.5M114.3,327.9L113.3,328.2M108.9,318.6L102.3,320.3M108.5,317.9L101.2,319.7M108.3,317.1L101.9,318.7M108.5,317.9A172.2,172.2 0 0 1 108.3,317.1M108.6,317.4L108.4,317.5M108.9,318.6A172.0,172.0 0 0 1 108.6,317.4M109.3,317.9L108.8,318.0M108.8,316.2L105.9,316.9M109.3,317.9A171.5,171.5 0 0 1 108.8,316.2M109.6,316.9L109.0,317.0M108.0,315.5L103.3,316.7M107.5,314.9L101.7,316.2M107.4,314.1L104.2,314.8M107.5,314.9A172.5,172.5 0 0 1 107.4,314.1M107.7,314.4L107.5,314.5M108.0,315.5A172.2,172.2 0 0 1 107.7,314.4M108.5,314.8L107.9,315.0M106.8,313.4L100.9,314.7M106.2,312.7L104.1,313.2M104.9,312.2L98.8,313.5M104.7,311.4L102.0,312.0M104.9,312.2A174.5,174.5 0 0 1 104.7,311.4M105.0,311.8L104.8,311.8M104.8,310.6L99.5,311.7M105.0,311.8A174.3,174.3 0 0 1 104.8,310.6M105.4,311.1L104.9,311.2M105.1,309.7L101.9,310.4M105.4,311.1A173.7,173.7 0 0 1 105.1,309.7M105.7,310.3L105.3,310.4M106.2,312.7A173.3,173.3 0 0 1 105.7,310.3M106.4,311.4L106.0,311.5M106.8,313.4A172.9,172.9 0 0 1 106.4,311.4M107.3,312.2L106.6,312.4M104.5,309.0L97.8,310.3M104.4,308.2L98.4,309.4M104.5,309.0A174.2,174.2 0 0 1 104.4,308.2M105.0,308.5L104.4,308.6M104.8,307.4L100.5,308.2M105.0,308.5A173.6,173.6 0 0 1 104.8,307.4M105.9,307.8L104.9,307.9M105.1,306.5L101.4,307.2M104.5,305.8L98.5,306.9M103.9,305.1L100.3,305.7M103.7,304.3L100.6,304.8M103.9,305.1A174.1,174.1 0 0 1 103.7,304.3M104.3,304.6L103.8,304.7M104.5,305.8A173.6,173.6 0 0 1 104.3,304.6M104.6,305.2L104.4,305.2M104.3,303.4L99.4,304.2M104.6,305.2A173.4,173.4 0 0 1 104.3,303.4M104.7,304.2L104.5,304.3M105.1,306.5A173.1,173.1 0 0 1 104.7,304.2M105.4,305.3L104.9,305.4M105.9,307.8A172.6,172.6 0 0 1 105.4,305.3M105.8,306.5L105.6,306.5M104.8,302.5L101.5,303.1M104.7,301.7L99.9,302.5M104.8,302.5A172.7,172.7 0 0 1 104.7,301.7M105.0,302.1L104.8,302.1M105.8,306.5A172.5,172.5 0 0 1 105.0,302.1M105.8,304.2L105.4,304.3M107.3,312.2A172.1,172.1 0 0 1 105.8,304.2M107.1,308.1L106.5,308.2M108.5,314.8A171.5,171.5 0 0 1 107.1,308.1M108.3,311.4L107.8,311.5M109.6,316.9A171.0,171.0 0 0 1 108.3,311.4M110.4,313.8L108.9,314.1M105.8,300.8L102.0,301.4M104.1,300.3L97.4,301.3M104.0,299.6L97.8,300.5M104.1,300.3A173.1,173.1 0 0 1 104.0,299.6M104.8,299.9L104.0,300.0M103.7,298.9L98.3,299.6M103.6,298.1L99.1,298.7M103.7,298.9A173.4,173.4 0 0 1 103.6,298.1M103.8,298.5L103.6,298.5M103.7,297.4L96.7,298.3M103.8,298.5A173.2,173.2 0 0 1 103.7,297.4M104.5,297.8L103.7,297.9M104.8,299.9A172.4,172.4 0 0 1 104.5,297.8M105.5,298.7L104.6,298.8M105.8,300.8A171.5,171.5 0 0 1 105.5,298.7M106.3,299.7L105.7,299.8M105.8,296.3L99.4,297.1M106.3,299.7A170.9,170.9 0 0 1 105.8,296.3M106.9,297.9L106.0,298.0M104.9,295.7L101.6,296.1M104.8,295.0L96.4,295.9M104.9,295.7A171.8,171.8 0 0 1 104.8,295.0M105.1,295.3L104.8,295.3M101.8,294.5L96.2,295.2M101.7,293.8L98.1,294.2M101.8,294.5A174.7,174.7 0 0 1 101.7,293.8M102.7,294.0L101.7,294.2M102.6,292.9L97.9,293.4M102.7,294.0A173.7,173.7 0 0 1 102.6,292.9M103.6,293.4L102.6,293.5M103.1,292.1L100.1,292.4M103.1,291.4L98.1,291.8M103.1,292.1A173.1,173.1 0 0 1 103.1,291.4M103.5,291.7L103.1,291.7M103.6,293.4A172.7,172.7 0 0 1 103.5,291.7M103.8,292.5L103.5,292.5M103.3,290.6L96.5,291.2M102.4,289.9L95.1,290.5M102.4,289.1L95.2,289.7M102.4,289.9A173.6,173.6 0 0 1 102.4,289.1M103.2,289.4L102.4,289.5M103.3,290.6A172.8,172.8 0 0 1 103.2,289.4M103.6,290.0L103.3,290.0M103.8,292.5A172.4,172.4 0 0 1 103.6,290.0M104.6,291.2L103.7,291.2M105.1,295.3A171.5,171.5 0 0 1 104.6,291.2M105.8,293.1L104.9,293.2M104.7,288.2L99.5,288.6M104.2,287.5L97.9,287.9M104.2,286.7L99.1,287.1M104.2,287.5A171.6,171.6 0 0 1 104.2,286.7M104.7,287.1L104.2,287.1M104.7,288.2A171.2,171.2 0 0 1 104.7,287.1M105.1,287.6L104.7,287.6M103.6,286.0L97.0,286.4M103.1,285.3L100.3,285.5M103.1,284.6L100.6,284.7M103.1,285.3A172.6,172.6 0 0 1 103.1,284.6M103.4,284.9L103.1,284.9M103.3,283.8L98.6,284.0M103.4,284.9A172.3,172.3 0 0 1 103.3,283.8M103.5,284.3L103.3,284.4M103.6,286.0A172.1,172.1 0 0 1 103.5,284.3M104.5,285.1L103.6,285.2M104.4,283.0L99.1,283.2M104.5,285.1A171.2,171.2 0 0 1 104.4,283.0M104.9,284.0L104.4,284.1M105.1,287.6A170.7,170.7 0 0 1 104.9,284.0M105.2,285.8L105.0,285.8M105.8,293.1A170.6,170.6 0 0 1 105.2,285.8M105.9,289.4L105.4,289.5M106.9,297.9A170.1,170.1 0 0 1 105.9,289.4M106.6,293.7L106.3,293.7M105.7,282.2L100.0,282.4M106.6,293.7A169.8,169.8 0 0 1 105.7,282.2M106.4,287.9L106.0,287.9M103.4,281.6L95.2,281.9M102.4,280.8L95.4,281.0M102.4,280.0L98.5,280.2M102.4,280.8A173.1,173.1 0 0 1 102.4,280.0M103.4,280.4L102.4,280.4M103.4,281.6A172.1,172.1 0 0 1 103.4,280.4M103.6,281.0L103.4,281.0M103.4,279.2L98.6,279.3M102.9,278.5L96.4,278.6M102.9,277.7L97.0,277.8M102.9,278.5A172.5,172.5 0 0 1 102.9,277.7M103.4,278.1L102.9,278.1M103.4,279.2A172.1,172.1 0 0 1 103.4,278.1M103.6,278.7L103.4,278.7M103.6,281.0A171.9,171.9 0 0 1 103.6,278.7M104.2,279.8L103.6,279.8M101.2,276.9L96.9,277.0M101.1,276.1L98.6,276.2M101.2,276.9A174.3,174.3 0 0 1 101.1,276.1M102.1,276.5L101.1,276.5M101.4,275.4L96.0,275.4M101.4,274.6L97.5,274.6M101.4,275.4A174.0,174.0 0 0 1 101.4,274.6M102.1,275.0L101.4,275.0M102.1,276.5A173.3,173.3 0 0 1 102.1,275.0M102.4,275.7L102.1,275.7M101.7,273.8L96.4,273.7M101.0,273.0L95.8,272.9M101.0,272.2L97.9,272.2M101.0,273.0A174.4,174.4 0 0 1 101.0,272.2M101.3,272.6L101.0,272.6M101.4,271.4L95.1,271.3M101.3,272.6A174.1,174.1 0 0 1 101.4,271.4M101.7,272.0L101.4,272.0M101.7,273.8A173.7,173.7 0 0 1 101.7,272.0M102.4,272.9L101.7,272.9M102.4,275.7A173.0,173.0 0 0 1 102.4,272.9M103.4,274.3L102.4,274.3M103.4,270.7L97.7,270.6M103.4,274.3A172.0,172.0 0 0 1 103.4,270.7M104.2,272.5L103.4,272.5M104.2,279.8A171.3,171.3 0 0 1 104.2,272.5M104.8,276.2L104.1,276.2M103.5,269.9L100.7,269.8M103.0,269.1L96.6,268.9M102.6,268.3L99.7,268.2M102.6,267.6L97.8,267.3M102.6,268.3A173.0,173.0 0 0 1 102.6,267.6M103.0,268.0L102.6,267.9M103.0,269.1A172.5,172.5 0 0 1 103.0,268.0M103.6,268.6L103.0,268.6M103.5,269.9A172.0,172.0 0 0 1 103.6,268.6M104.4,269.3L103.5,269.2M103.5,266.8L100.9,266.7M103.6,266.0L99.8,265.8M103.5,266.8A172.1,172.1 0 0 1 103.6,266.0M104.5,266.5L103.6,266.4M104.4,269.3A171.1,171.1 0 0 1 104.5,266.5M104.9,267.9L104.5,267.9M104.8,276.2A170.6,170.6 0 0 1 104.9,267.9M105.6,272.0L104.8,272.0M103.2,265.2L98.3,265.0M103.2,264.5L101.2,264.3M103.2,265.2A172.5,172.5 0 0 1 103.2,264.5M104.2,264.9L103.2,264.9M104.3,263.8L99.4,263.4M104.2,264.9A171.5,171.5 0 0 1 104.3,263.8M105.0,264.4L104.2,264.3M105.1,263.0L102.8,262.9M105.0,264.4A170.8,170.8 0 0 1 105.1,263.0M105.5,263.7L105.0,263.7M105.3,262.3L98.5,261.8M105.4,261.5L102.3,261.3M105.3,262.3A170.6,170.6 0 0 1 105.4,261.5M105.6,261.9L105.3,261.9M105.5,263.7A170.3,170.3 0 0 1 105.6,261.9M106.0,262.9L105.5,262.8M105.6,272.0A169.8,169.8 0 0 1 106.0,262.9M106.1,267.5L105.7,267.5M104.3,260.7L98.1,260.2M104.4,259.9L102.0,259.7M104.3,260.7A171.7,171.7 0 0 1 104.4,259.9M104.8,260.4L104.3,260.3M104.5,259.1L98.2,258.5M103.5,258.2L98.2,257.7M101.6,257.2L97.7,256.8M101.6,256.4L95.4,255.8M101.6,257.2A174.8,174.8 0 0 1 101.6,256.4M102.1,256.9L101.6,256.8M102.2,255.7L97.1,255.1M102.1,256.9A174.3,174.3 0 0 1 102.2,255.7M102.9,256.4L102.2,256.3M103.1,255.0L96.2,254.2M102.9,256.4A173.5,173.5 0 0 1 103.1,255.0M103.7,255.7L103.0,255.7M103.5,258.2A172.8,172.8 0 0 1 103.7,255.7M103.8,257.0L103.6,257.0M103.1,254.2L95.7,253.3M103.0,253.3L99.0,252.8M102.6,252.5L98.3,251.9M102.7,251.7L97.5,251.0M102.6,252.5A174.3,174.3 0 0 1 102.7,251.7M103.2,252.1L102.6,252.1M103.0,253.3A173.8,173.8 0 0 1 103.2,252.1M103.3,252.8L103.1,252.7M103.1,254.2A173.6,173.6 0 0 1 103.3,252.8M104.2,253.6L103.2,253.5M103.8,257.0A172.6,172.6 0 0 1 104.2,253.6M104.9,255.4L103.9,255.3M104.5,259.1A171.6,171.6 0 0 1 104.9,255.4M105.1,257.3L104.7,257.3M104.8,260.4A171.3,171.3 0 0 1 105.1,257.3M105.8,258.9L104.9,258.8M104.5,251.1L100.5,250.6M104.6,250.3L99.2,249.5M104.5,251.1A172.6,172.6 0 0 1 104.6,250.3M105.0,250.8L104.5,250.7M105.1,249.6L100.5,248.9M105.0,250.8A172.2,172.2 0 0 1 105.1,249.6M105.9,250.3L105.0,250.2M106.1,248.9L102.8,248.4M105.9,250.3A171.4,171.4 0 0 1 106.1,248.9M106.3,249.7L106.0,249.6M105.1,248.0L96.7,246.6M104.8,247.1L100.2,246.4M104.9,246.3L102.1,245.8M104.8,247.1A172.9,172.9 0 0 1 104.9,246.3M105.3,246.8L104.9,246.7M105.1,248.0A172.4,172.4 0 0 1 105.3,246.8M105.9,247.5L105.2,247.4M106.2,245.7L101.0,244.8M105.9,247.5A171.8,171.8 0 0 1 106.2,245.7M106.8,246.7L106.0,246.6M106.3,249.7A171.0,171.0 0 0 1 106.8,246.7M107.1,248.3L106.5,248.2M105.8,258.9A170.4,170.4 0 0 1 107.1,248.3M107.3,253.7L106.4,253.6M107.6,245.3L102.2,244.3M107.8,244.1L102.6,243.1M107.6,245.3A170.4,170.4 0 0 1 107.8,244.1M108.0,244.7L107.7,244.7M107.6,242.8L103.7,242.1M107.8,241.7L103.7,240.8M107.6,242.8A170.9,170.9 0 0 1 107.8,241.7M108.4,242.4L107.7,242.2M108.0,244.7A170.2,170.2 0 0 1 108.4,242.4M108.9,243.7L108.2,243.5M107.3,240.8L101.4,239.6M107.5,240.1L105.5,239.7M107.3,240.8A171.6,171.6 0 0 1 107.5,240.1M108.1,240.6L107.4,240.4M107.0,239.2L103.9,238.5M107.2,238.4L102.1,237.3M107.0,239.2A172.2,172.2 0 0 1 107.2,238.4M108.0,239.0L107.1,238.8M108.2,237.9L104.2,237.0M108.0,239.0A171.3,171.3 0 0 1 108.2,237.9M108.5,238.5L108.1,238.4M108.1,240.6A170.9,170.9 0 0 1 108.5,238.5M108.7,239.6L108.3,239.5M108.1,237.0L104.3,236.2M108.2,236.3L104.3,235.3M108.1,237.0A171.6,171.6 0 0 1 108.2,236.3M108.9,236.8L108.1,236.6M106.9,235.2L100.2,233.6M106.9,234.4L100.2,232.7M107.1,233.6L103.3,232.7M106.9,234.4A173.3,173.3 0 0 1 107.1,233.6M107.2,234.0L107.0,234.0M106.9,235.2A173.1,173.1 0 0 1 107.2,234.0M108.0,234.8L107.1,234.6M107.5,232.9L105.1,232.3M106.2,231.8L102.1,230.7M105.6,230.8L100.3,229.4M105.1,229.8L100.5,228.6M105.3,229.1L100.7,227.8M105.1,229.8A176.3,176.3 0 0 1 105.3,229.1M105.9,229.6L105.2,229.4M105.6,230.8A175.5,175.5 0 0 1 105.9,229.6M106.6,230.4L105.7,230.2M106.2,231.8A174.7,174.7 0 0 1 106.6,230.4M106.7,231.2L106.4,231.1M107.1,228.7L101.1,227.1M106.5,227.7L101.1,226.2M106.7,227.0L101.5,225.5M106.5,227.7A175.5,175.5 0 0 1 106.7,227.0M107.4,227.6L106.6,227.4M107.1,228.7A174.6,174.6 0 0 1 107.4,227.6M107.5,228.2L107.2,228.2M106.7,231.2A174.4,174.4 0 0 1 107.5,228.2M107.6,229.8L107.1,229.7M107.5,226.4L101.6,224.7M107.7,225.6L101.8,223.9M107.5,226.4A174.9,174.9 0 0 1 107.7,225.6M108.6,226.3L107.6,226.0M107.6,229.8A173.9,173.9 0 0 1 108.6,226.3M108.8,228.2L108.0,228.0M107.5,232.9A173.1,173.1 0 0 1 108.8,228.2M109.0,230.8L108.1,230.6M108.0,234.8A172.2,172.2 0 0 1 109.0,230.8M109.3,233.0L108.5,232.8M110.4,225.6L105.8,224.2M110.6,224.9L108.5,224.2M110.4,225.6A172.3,172.3 0 0 1 110.6,224.9M110.8,225.3L110.5,225.2M111.2,224.2L105.4,222.4M110.8,225.3A171.9,171.9 0 0 1 111.2,224.2M111.2,224.8L111.0,224.8M111.3,223.5L108.4,222.5M110.9,222.5L107.2,221.3M110.2,221.5L103.7,219.3M110.5,220.7L104.1,218.6M110.2,221.5A173.7,173.7 0 0 1 110.5,220.7M111.2,221.4L110.4,221.1M110.9,222.5A172.7,172.7 0 0 1 111.2,221.4M111.7,222.2L111.1,221.9M111.3,223.5A172.0,172.0 0 0 1 111.7,222.2M111.8,222.9L111.5,222.8M111.2,224.8A171.7,171.7 0 0 1 111.8,222.9M111.9,224.0L111.5,223.9M109.3,233.0A171.3,171.3 0 0 1 111.9,224.0M111.0,228.6L110.6,228.5M108.9,236.8A170.9,170.9 0 0 1 111.0,228.6M110.3,232.8L109.9,232.7M108.7,239.6A170.4,170.4 0 0 1 110.3,232.8M110.4,236.4L109.5,236.2M111.2,220.2L108.3,219.2M111.5,219.3L105.5,217.3M111.2,220.2A173.2,173.2 0 0 1 111.5,219.3M112.2,220.1L111.3,219.8M112.6,218.8L106.6,216.7M112.2,220.1A172.3,172.3 0 0 1 112.6,218.8M113.1,219.7L112.4,219.4M113.6,218.2L111.6,217.5M113.1,219.7A171.6,171.6 0 0 1 113.6,218.2M114.1,219.2L113.3,218.9M113.7,217.3L108.0,215.3M114.0,216.5L108.4,214.5M113.7,217.3A171.8,171.8 0 0 1 114.0,216.5M114.5,217.1L113.8,216.9M114.4,215.7L108.9,213.7M113.4,214.4L108.3,212.5M113.7,213.6L106.3,210.7M113.4,214.4A173.1,173.1 0 0 1 113.7,213.6M114.2,214.2L113.5,214.0M114.7,213.0L111.5,211.8M114.2,214.2A172.3,172.3 0 0 1 114.7,213.0M115.1,213.9L114.5,213.6M114.4,215.7A171.6,171.6 0 0 1 115.1,213.9M115.3,215.0L114.8,214.8M114.5,217.1A171.0,171.0 0 0 1 115.3,215.0M115.2,216.2L114.9,216.1M114.1,219.2A170.8,170.8 0 0 1 115.2,216.2M115.8,218.1L114.6,217.7M115.1,212.4L112.5,211.4M114.9,211.5L111.5,210.1M115.2,210.7L110.3,208.8M114.9,211.5A172.7,172.7 0 0 1 115.2,210.7M115.5,211.3L115.1,211.1M115.1,212.4A172.2,172.2 0 0 1 115.5,211.3M115.9,212.1L115.3,211.8M116.3,210.3L112.4,208.8M116.6,209.6L110.9,207.3M116.3,210.3A171.9,171.9 0 0 1 116.6,209.6M116.7,210.1L116.4,210.0M115.9,212.1A171.6,171.6 0 0 1 116.7,210.1M117.1,211.4L116.3,211.1M116.7,208.8L114.7,208.0M117.0,208.1L110.9,205.6M116.7,208.8A172.0,172.0 0 0 1 117.0,208.1M117.2,208.6L116.8,208.5M116.7,207.2L113.9,206.0M116.3,206.1L111.8,204.2M116.4,205.3L113.0,203.8M116.5,204.5L113.1,203.0M116.8,203.8L110.4,200.9M116.5,204.5A173.9,173.9 0 0 1 116.8,203.8M116.9,204.2L116.7,204.2M116.4,205.3A173.7,173.7 0 0 1 116.9,204.2M116.8,204.9L116.6,204.8M116.3,206.1A173.5,173.5 0 0 1 116.8,204.9M117.3,205.8L116.6,205.5M116.7,207.2A172.7,172.7 0 0 1 117.3,205.8M117.6,206.7L117.0,206.5M118.1,203.5L115.8,202.5M118.4,202.8L113.9,200.7M118.1,203.5A172.9,172.9 0 0 1 118.4,202.8M119.0,203.5L118.2,203.1M117.6,206.7A172.1,172.1 0 0 1 119.0,203.5M118.6,205.3L118.3,205.1M117.2,208.6A171.6,171.6 0 0 1 118.6,205.3M118.8,207.3L117.9,206.9M117.1,211.4A170.6,170.6 0 0 1 118.8,207.3M119.0,209.8L118.0,209.4M120.2,202.8L116.8,201.2M120.4,202.1L117.2,200.6M120.7,201.4L117.9,200.0M120.4,202.1A171.4,171.4 0 0 1 120.7,201.4M120.7,201.8L120.6,201.8M120.2,202.8A171.2,171.2 0 0 1 120.7,201.8M120.7,202.4L120.5,202.3M120.8,200.6L116.9,198.7M121.2,199.9L117.1,198.0M120.8,200.6A171.6,171.6 0 0 1 121.2,199.9M121.6,200.6L121.0,200.3M120.7,202.4A171.0,171.0 0 0 1 121.6,200.6M121.6,201.7L121.1,201.5M121.2,199.1L116.1,196.6M121.3,198.3L115.3,195.3M121.1,197.4L118.9,196.3M121.4,196.7L115.2,193.5M121.1,197.4A172.8,172.8 0 0 1 121.4,196.7M121.8,197.3L121.3,197.0M121.3,198.3A172.2,172.2 0 0 1 121.8,197.3M121.8,197.9L121.6,197.8M121.2,199.1A172.0,172.0 0 0 1 121.8,197.9M122.4,198.9L121.5,198.5M121.8,196.0L118.9,194.5M122.1,195.3L115.6,191.9M121.8,196.0A172.9,172.9 0 0 1 122.1,195.3M122.6,196.0L121.9,195.7M122.5,194.7L120.6,193.6M121.4,193.2L119.5,192.2M121.7,192.5L116.6,189.8M121.4,193.2A174.5,174.5 0 0 1 121.7,192.5M122.1,193.2L121.5,192.8M122.7,192.1L117.7,189.4M122.1,193.2A173.9,173.9 0 0 1 122.7,192.1M122.6,192.8L122.4,192.6M122.8,191.4L120.2,189.9M122.5,190.3L117.2,187.3M122.4,189.4L117.5,186.6M122.8,188.7L120.2,187.2M122.4,189.4A175.4,175.4 0 0 1 122.8,188.7M123.1,189.3L122.6,189.0M122.5,190.3A174.8,174.8 0 0 1 123.1,189.3M123.5,190.2L122.8,189.8M122.8,191.4A174.1,174.1 0 0 1 123.5,190.2M123.5,191.0L123.2,190.8M122.6,192.8A173.6,173.6 0 0 1 123.5,191.0M123.8,192.3L123.1,191.9M122.5,194.7A172.8,172.8 0 0 1 123.8,192.3M123.7,193.8L123.2,193.5M122.6,196.0A172.1,172.1 0 0 1 123.7,193.8M124.0,195.3L123.1,194.9M126.8,190.1L118.9,185.6M124.0,195.3A171.2,171.2 0 0 1 126.8,190.1M125.6,192.8L125.4,192.7M122.4,198.9A171.0,171.0 0 0 1 125.6,192.8M124.4,196.1L123.9,195.9M121.6,201.7A170.5,170.5 0 0 1 124.4,196.1M123.8,199.3L122.9,198.9M125.1,188.3L119.8,185.2M125.6,187.6L122.0,185.5M125.1,188.3A173.6,173.6 0 0 1 125.6,187.6M126.2,188.4L125.4,187.9M126.8,187.3L121.3,184.1M126.2,188.4A172.6,172.6 0 0 1 126.8,187.3M127.2,188.3L126.5,187.9M127.4,186.7L125.4,185.5M127.2,185.6L124.4,184.0M127.6,184.9L122.2,181.6M127.2,185.6A173.2,173.2 0 0 1 127.6,184.9M128.1,185.7L127.4,185.3M127.4,186.7A172.4,172.4 0 0 1 128.1,185.7M128.3,186.5L127.8,186.2M127.2,188.3A171.8,171.8 0 0 1 128.3,186.5M128.2,187.7L127.7,187.4M129.0,184.7L125.6,182.7M129.4,184.0L124.8,181.2M129.0,184.7A172.1,172.1 0 0 1 129.4,184.0M129.9,184.9L129.2,184.4M128.2,187.7A171.2,171.2 0 0 1 129.9,184.9M129.7,186.7L129.1,186.3M130.8,183.9L128.1,182.3M129.9,182.4L127.0,180.5M129.2,181.0L125.6,178.6M129.7,180.2L126.5,178.2M129.2,181.0A173.9,173.9 0 0 1 129.7,180.2M129.9,180.9L129.4,180.6M130.6,179.8L126.1,176.9M129.9,180.9A173.4,173.4 0 0 1 130.6,179.8M131.0,180.8L130.2,180.3M129.9,182.4A172.5,172.5 0 0 1 131.0,180.8M131.1,182.1L130.4,181.6M132.4,180.1L127.9,177.0M131.1,182.1A171.7,171.7 0 0 1 132.4,180.1M132.4,181.5L131.8,181.1M130.8,183.9A171.0,171.0 0 0 1 132.4,181.5M132.0,183.0L131.6,182.7M129.7,186.7A170.5,170.5 0 0 1 132.0,183.0M131.7,185.3L130.8,184.8M132.6,179.3L127.2,175.7M133.0,178.7L129.7,176.5M132.6,179.3A172.0,172.0 0 0 1 133.0,178.7M133.0,179.2L132.8,179.0M133.7,178.2L129.9,175.7M133.0,179.2A171.7,171.7 0 0 1 133.7,178.2M134.2,179.2L133.4,178.7M134.2,177.7L128.0,173.4M134.4,176.9L130.9,174.5M134.8,176.3L129.6,172.6M134.4,176.9A171.9,171.9 0 0 1 134.8,176.3M134.8,176.8L134.6,176.6M134.2,177.7A171.6,171.6 0 0 1 134.8,176.8M135.2,177.7L134.5,177.2M134.2,179.2A170.8,170.8 0 0 1 135.2,177.7M135.1,178.8L134.7,178.5M133.9,174.7L130.2,172.1M134.3,174.1L131.5,172.1M133.9,174.7A173.5,173.5 0 0 1 134.3,174.1M134.7,174.9L134.1,174.4M135.4,173.9L131.0,170.8M134.7,174.9A172.8,172.8 0 0 1 135.4,173.9M135.8,174.9L135.0,174.4M135.1,172.9L130.0,169.1M135.2,172.0L130.6,168.6M135.7,171.4L130.1,167.2M135.2,172.0A174.1,174.1 0 0 1 135.7,171.4M135.8,171.9L135.4,171.7M135.1,172.9A173.6,173.6 0 0 1 135.8,171.9M136.3,173.0L135.5,172.4M137.3,171.6L135.1,170.0M136.3,173.0A172.6,172.6 0 0 1 137.3,171.6M137.2,172.6L136.8,172.3M138.0,171.2L132.4,167.0M138.4,170.6L132.9,166.4M138.0,171.2A172.3,172.3 0 0 1 138.4,170.6M138.4,171.1L138.2,170.9M137.2,172.6A172.1,172.1 0 0 1 138.4,171.1M138.0,172.0L137.8,171.9M135.8,174.9A171.9,171.9 0 0 1 138.0,172.0M137.5,173.9L136.9,173.5M139.2,170.3L135.9,167.8M137.8,168.3L133.0,164.5M138.3,167.7L136.2,166.0M137.8,168.3A174.3,174.3 0 0 1 138.3,167.7M138.4,168.2L138.1,168.0M139.1,167.3L136.9,165.6M138.4,168.2A173.8,173.8 0 0 1 139.1,167.3M139.1,168.1L138.7,167.8M139.9,167.0L135.7,163.6M139.1,168.1A173.4,173.4 0 0 1 139.9,167.0M140.0,167.9L139.5,167.5M140.8,166.8L137.8,164.3M140.0,167.9A172.8,172.8 0 0 1 140.8,166.8M141.0,167.9L140.4,167.4M139.2,170.3A172.0,172.0 0 0 1 141.0,167.9M140.7,169.6L140.1,169.1M137.5,173.9A171.2,171.2 0 0 1 140.7,169.6M139.8,172.2L139.1,171.7M135.1,178.8A170.3,170.3 0 0 1 139.8,172.2M137.5,175.6L137.4,175.5M142.2,167.0L137.1,162.8M142.7,166.4L139.7,164.0M142.2,167.0A171.6,171.6 0 0 1 142.7,166.4M142.7,166.9L142.4,166.7M143.4,166.0L137.1,160.8M142.7,166.9A171.3,171.3 0 0 1 143.4,166.0M143.7,167.0L143.0,166.4M143.4,165.0L138.9,161.3M143.9,164.5L139.8,161.0M143.4,165.0A172.0,172.0 0 0 1 143.9,164.5M143.8,164.9L143.6,164.7M144.1,163.7L140.6,160.7M144.6,163.1L142.1,161.0M144.1,163.7A172.2,172.2 0 0 1 144.6,163.1M144.7,163.7L144.4,163.4M143.8,164.9A171.8,171.8 0 0 1 144.7,163.7M144.8,164.7L144.2,164.3M146.0,163.3L141.3,159.3M144.8,164.7A171.1,171.1 0 0 1 146.0,163.3M145.9,164.5L145.4,164.0M143.7,167.0A170.4,170.4 0 0 1 145.9,164.5M145.0,165.9L144.8,165.7M137.5,175.6A170.1,170.1 0 0 1 145.0,165.9M141.7,171.1L141.2,170.7M146.5,162.8L142.1,159.0M147.0,162.2L141.1,156.9M146.5,162.8A171.0,171.0 0 0 1 147.0,162.2M147.4,163.1L146.8,162.5M146.5,160.7L141.9,156.5M147.1,160.0L144.1,157.4M146.5,160.7A172.4,172.4 0 0 1 147.1,160.0M147.4,160.9L146.8,160.3M146.6,158.5L144.6,156.7M147.2,157.9L144.2,155.1M146.6,158.5A173.8,173.8 0 0 1 147.2,157.9M147.4,158.7L146.9,158.2M148.3,157.7L144.4,154.1M147.4,158.7A173.1,173.1 0 0 1 148.3,157.7M148.3,158.6L147.9,158.2M148.2,156.5L146.2,154.7M148.4,155.5L143.7,151.1M149.0,154.9L145.2,151.3M148.4,155.5A174.5,174.5 0 0 1 149.0,154.9M149.1,155.6L148.7,155.2M148.2,156.5A173.9,173.9 0 0 1 149.1,155.6M149.3,156.6L148.7,156.1M149.5,154.3L145.5,150.4M150.1,153.7L146.9,150.5M149.5,154.3A174.5,174.5 0 0 1 150.1,153.7M150.3,154.4L149.8,154.0M151.2,153.5L148.6,151.1M150.3,154.4A173.9,173.9 0 0 1 151.2,153.5M151.3,154.5L150.7,154.0M149.3,156.6A173.1,173.1 0 0 1 151.3,154.5M150.7,156.0L150.3,155.6M148.3,158.6A172.5,172.5 0 0 1 150.7,156.0M150.2,157.9L149.5,157.3M147.4,160.9A171.6,171.6 0 0 1 150.2,157.9M149.4,159.9L148.8,159.4M153.9,155.1L148.6,149.8M149.4,159.9A170.8,170.8 0 0 1 153.9,155.1M152.1,158.0L151.6,157.5M147.4,163.1A170.1,170.1 0 0 1 152.1,158.0M150.2,160.9L149.8,160.5M154.4,154.5L151.4,151.5M155.1,153.8L151.0,149.6M154.4,154.5A170.9,170.9 0 0 1 155.1,153.8M155.2,154.6L154.7,154.2M156.3,153.6L152.5,149.6M155.2,154.6A170.2,170.2 0 0 1 156.3,153.6M156.0,154.3L155.8,154.1M157.0,152.8L151.3,146.9M157.8,152.1L153.9,148.0M157.0,152.8A170.3,170.3 0 0 1 157.8,152.1M157.7,152.7L157.4,152.4M156.0,154.3A169.9,169.9 0 0 1 157.7,152.7M157.1,153.8L156.8,153.5" fill="none" stroke="#000" stroke-width="0.95"/><path d="M236.6,181.4L237.4,181.1L238.2,180.8L239.0,180.5L239.9,180.2L240.7,179.9L241.6,179.6L242.4,179.4L243.2,179.1L244.1,178.9L244.9,178.6L245.8,178.4L246.6,178.1L247.5,177.9L248.4,177.7L249.2,177.5L250.1,177.3L250.9,177.1L251.8,176.9L252.7,176.7L253.5,176.5L254.4,176.4L255.3,176.2L256.1,176.0L257.0,175.9L257.9,175.8L258.7,175.6L259.6,175.5L260.5,175.4L261.4,175.3L262.2,175.2L263.1,175.1L264.0,175.0L264.9,175.0L265.7,174.9L266.6,174.8L267.5,174.8L268.4,174.7L269.3,174.7L270.1,174.7L271.0,174.6L271.9,174.6L272.8,174.6L273.6,174.6L274.5,174.6L275.4,174.7L276.3,174.7L277.2,174.7L278.0,174.8L278.9,174.8L279.8,174.9L280.7,174.9L281.5,175.0L282.4,175.1L283.3,175.2L284.1,175.3L285.0,175.4L285.9,175.5L286.8,175.6L287.6,175.7L288.5,175.8L289.3,176.0L290.2,176.1L291.1,176.3L291.9,176.4L292.8,176.6L293.6,176.8L294.5,177.0L295.3,177.2L296.2,177.4L297.0,177.6L297.9,177.8L298.7,178.0L299.6,178.2L300.4,178.5L301.3,178.7L302.1,179.0L302.9,179.2L303.8,179.5L304.6,179.7L305.4,180.0L306.2,180.3L307.1,180.6L307.9,180.9L308.7,181.2L309.5,181.5L310.3,181.8L311.1,182.2L311.9,182.5L312.7,182.9L313.5,183.2L314.3,183.6L315.1,183.9L315.9,184.3L316.7,184.7L317.4,185.0L318.2,185.4L319.0,185.8L319.8,186.2L320.5,186.6L321.3,187.1L322.0,187.5L322.8,187.9L323.5,188.3L324.3,188.8L325.0,189.2L325.8,189.7L326.5,190.2L327.2,190.6L328.0,191.1L328.7,191.6L329.4,192.1L330.1,192.6L330.8,193.1L331.5,193.6L332.2,194.1L332.9,194.6L333.6,195.1L334.3,195.6L335.0,196.2L335.6,196.7L336.3,197.3L337.0,197.8L337.6,198.4L338.3,198.9L338.9,199.5L339.6,200.1L340.2,200.6L340.8,201.2L341.5,201.8L342.1,202.4L342.7,203.0L343.3,203.6L343.9,204.2L344.5,204.8L345.1,205.5L345.7,206.1L346.3,206.7L346.9,207.4L347.5,208.0L348.0,208.6L348.6,209.3L349.2,210.0L349.7,210.6L350.2,211.3L350.8,211.9L351.3,212.6L351.8,213.3L352.4,214.0L352.9,214.7L353.4,215.4L353.9,216.1L354.4,216.8L354.9,217.5L355.4,218.2L355.8,218.9L356.3,219.6L356.8,220.3L357.2,221.0L357.7,221.8L358.1,222.5L358.6,223.2L359.0,224.0L359.4,224.7L359.8,225.5L360.3,226.2L360.7,227.0L361.1,227.7L361.5,228.5L361.8,229.2L362.2,230.0L362.6,230.8L363.0,231.5L363.3,232.3L363.7,233.1L364.0,233.9L364.3,234.7L364.7,235.5L365.0,236.2L365.3,237.0L365.6,237.8L365.9,238.6L366.2,239.4L366.5,240.2L366.8,241.0L367.1,241.8L367.3,242.6L367.6,243.5L367.9,244.3L368.1,245.1L368.3,245.9L368.6,246.7L368.8,247.5L369.0,248.4L369.2,249.2L369.4,250.0L369.6,250.8L369.8,251.7L370.0,252.5L370.2,253.3L370.3,254.2L370.5,255.0L370.6,255.8L370.8,256.7L370.9,257.5L371.1,258.3L371.2,259.2L371.3,260.0L371.4,260.9L371.5,261.7L371.6,262.5L371.7,263.4L371.8,264.2L371.8,265.1L371.9,265.9" fill="none" stroke="#111" stroke-width="1.7"/><path d="M237.6,181.6L236.9,180.0M238.8,181.1L238.3,179.8M239.7,180.8L239.4,180.0M241.2,180.3L240.8,179.4M242.2,180.0L241.7,178.4M243.2,179.7L242.9,178.9M244.0,179.4L243.6,178.4M245.6,178.9L245.3,177.9M246.9,178.6L246.5,177.0M247.7,178.4L247.4,177.3M248.9,178.1L248.6,176.7M249.9,177.8L249.5,176.5M251.1,177.5L250.9,176.4M252.8,177.2L252.5,175.6M254.1,176.9L254.0,176.0M255.5,176.7L255.3,175.9M256.3,176.5L256.1,175.1M257.1,176.4L256.8,174.8M257.8,176.3L257.6,174.8M259.3,176.1L259.1,174.6M260.8,175.9L260.7,175.0M262.3,175.7L262.1,174.2M263.3,175.6L263.1,174.1M264.1,175.5L263.9,174.1M265.4,175.4L265.3,174.7M266.5,175.3L266.4,174.2M268.0,175.3L267.9,173.9M269.5,175.2L269.4,174.0M270.8,175.2L270.7,173.8M272.1,175.1L272.1,174.1M273.2,175.1L273.1,174.3M274.6,175.1L274.6,173.8M275.8,175.2L275.8,174.4M277.2,175.2L277.2,173.7M278.3,175.3L278.3,173.7M279.4,175.3L279.4,173.8M280.6,175.4L280.6,174.6M281.6,175.5L281.7,174.5M283.2,175.7L283.4,174.0M284.8,175.8L284.9,174.6M285.8,176.0L285.9,174.9M286.8,176.1L287.0,174.7M288.5,176.3L288.6,175.5M289.5,176.5L289.7,175.0M290.7,176.7L290.9,175.3M292.1,177.0L292.2,176.1M293.7,177.3L293.9,176.2M294.5,177.5L294.7,176.7M295.9,177.8L296.2,176.6M296.6,178.0L297.0,176.5M298.3,178.4L298.5,177.6M299.8,178.8L300.0,177.9M301.0,179.1L301.4,177.6M302.5,179.6L302.8,178.6M303.7,180.0L304.1,178.9M305.1,180.5L305.6,178.9M305.8,180.7L306.1,179.8M306.8,181.0L307.3,179.5M307.6,181.3L308.1,179.8M309.1,181.9L309.5,180.8M310.3,182.4L310.9,180.9M311.6,182.9L312.2,181.4M313.0,183.5L313.5,182.3M314.3,184.1L314.9,182.7M315.1,184.5L315.6,183.2M316.5,185.1L317.2,183.6M317.8,185.8L318.3,184.7M319.2,186.5L319.8,185.3M319.9,186.9L320.5,185.8M320.9,187.4L321.5,186.2M322.2,188.2L323.0,186.8M322.8,188.5L323.4,187.4M324.1,189.2L324.5,188.4M325.3,190.0L326.0,188.8M326.1,190.5L326.9,189.1M326.9,191.0L327.2,190.4M327.9,191.6L328.4,190.7M329.2,192.6L330.1,191.2M330.5,193.4L330.9,192.8M331.5,194.1L332.2,193.1M332.4,194.8L332.8,194.2M333.3,195.5L334.0,194.6M334.6,196.5L335.5,195.4M335.9,197.5L336.4,196.9M336.5,198.1L337.3,197.1M337.5,198.9L338.2,198.1M338.4,199.7L339.5,198.5M339.2,200.4L340.3,199.2M339.8,201.0L340.3,200.4M340.8,201.9L341.3,201.3M341.7,202.7L342.6,201.8M342.8,203.8L343.6,202.9M343.8,204.8L344.7,203.8M344.7,205.7L345.5,204.9M345.6,206.7L346.6,205.9M346.3,207.4L346.9,206.8M347.1,208.3L348.2,207.3M347.7,209.0L348.7,208.0M348.6,210.1L350.9,208.0M349.1,210.7L350.3,209.7M349.6,211.3L350.8,210.3M350.2,212.1L353.3,209.5M350.6,212.5L352.2,211.2M351.1,213.1L353.3,211.3M351.4,213.5L352.6,212.6M351.9,214.2L354.5,212.1M352.3,214.7L355.4,212.3M352.7,215.3L354.2,214.2M353.3,216.0L354.5,215.1M353.5,216.4L356.1,214.4M353.8,216.8L356.8,214.6M354.1,217.2L356.5,215.4M354.4,217.7L355.8,216.7M354.9,218.4L356.1,217.6M355.2,218.9L356.7,217.9M355.7,219.6L357.8,218.1M356.2,220.3L358.9,218.4M356.7,221.1L357.8,220.3M357.0,221.6L359.3,220.1M357.5,222.4L358.6,221.7M357.8,222.9L359.6,221.7M358.0,223.3L359.2,222.6M358.4,223.9L360.3,222.7M358.6,224.3L360.8,223.0M358.8,224.7L361.5,223.1M359.3,225.6L362.6,223.6M359.8,226.3L362.4,224.8M360.0,226.8L362.9,225.2M360.4,227.6L362.6,226.4M360.9,228.5L363.5,227.0M361.1,228.9L364.5,227.1M361.4,229.5L363.4,228.5M361.6,229.9L364.8,228.3M362.0,230.7L364.7,229.3M362.2,231.1L363.5,230.4M362.5,231.7L363.8,231.0M362.8,232.4L364.1,231.7M363.1,233.1L366.0,231.7M363.4,233.7L366.7,232.2M363.7,234.4L367.6,232.5M363.9,235.0L367.2,233.5M364.3,235.9L369.7,233.6M364.6,236.6L367.1,235.5M364.8,237.2L368.2,235.7M365.0,237.7L367.9,236.5M365.3,238.4L368.8,237.0M365.5,238.9L370.2,237.0M365.7,239.4L367.7,238.7M365.9,240.1L369.4,238.8M366.1,240.6L368.9,239.6M366.3,241.1L368.9,240.1M366.6,242.0L371.0,240.4M366.8,242.7L369.4,241.8M367.1,243.5L369.7,242.6M367.3,244.3L373.0,242.4M367.5,244.8L372.9,243.0M367.6,245.2L372.6,243.6M367.9,246.1L371.9,244.8M368.1,247.0L370.1,246.4M368.3,247.4L371.4,246.5M368.4,248.0L372.0,247.0M368.5,248.5L372.4,247.4M368.7,249.1L373.4,247.8M368.9,250.1L371.4,249.4M369.0,250.6L372.1,249.8M369.2,251.1L371.5,250.5M369.3,251.8L372.4,251.1M369.5,252.6L375.6,251.1M369.6,253.2L372.1,252.7M369.7,253.7L373.6,252.8M369.8,254.3L372.5,253.7M370.0,255.0L375.7,253.8M370.1,255.5L375.0,254.4M370.2,255.9L374.1,255.1M370.2,256.4L374.5,255.5M370.3,257.0L374.5,256.2M370.5,257.8L375.7,256.9M370.6,258.7L373.6,258.1M370.7,259.5L374.1,259.0M370.8,260.2L375.3,259.5M370.9,260.8L374.4,260.2M371.0,261.6L375.7,260.9M371.0,262.0L375.3,261.4M371.1,262.7L375.4,262.1M371.2,263.7L375.5,263.2M371.3,264.3L373.2,264.0M371.3,264.7L373.9,264.4M371.4,265.4L373.8,265.2" fill="none" stroke="#111" stroke-width="0.6"/>
<path d="M283.8,854.3L287.8,853.9M283.8,854.3L330.2,801.9M299.0,786.0A70.0,70.0 0 0 1 350.0,831.5M333.9,766.1L350.9,736.2M335.1,766.8L338.9,760.4M333.9,766.1A101.5,101.5 0 0 1 335.1,766.8M330.6,773.3L334.5,766.4M332.7,774.6L344.3,755.7M330.6,773.3A93.5,93.5 0 0 1 332.7,774.6M329.4,777.6L331.6,773.9M336.4,771.0L350.9,748.0M342.6,764.9L352.1,750.5M344.1,765.9L354.0,751.5M342.6,764.9A107.0,107.0 0 0 1 344.1,765.9M341.6,768.0L343.4,765.4M344.9,767.5L364.3,740.0M354.4,758.0L362.9,746.4M355.9,759.1L368.2,742.8M354.4,758.0A119.4,119.4 0 0 1 355.9,759.1M350.6,764.6L355.1,758.5M357.6,760.2L361.8,754.8M359.3,761.6L367.8,751.1M357.6,760.2A119.6,119.6 0 0 1 359.3,761.6M357.1,762.6L358.4,760.9M362.4,760.3L374.1,746.2M364.1,761.7L374.8,749.5M362.4,760.3A122.6,122.6 0 0 1 364.1,761.7M359.9,764.9L363.3,761.0M357.1,762.6A117.4,117.4 0 0 1 359.9,764.9M355.0,768.0L358.5,763.8M350.6,764.6A111.8,111.8 0 0 1 355.0,768.0M349.3,770.8L352.8,766.3M344.9,767.5A106.2,106.2 0 0 1 349.3,770.8M345.8,770.9L347.1,769.1M341.6,768.0A103.9,103.9 0 0 1 345.8,770.9M340.6,773.8L343.7,769.4M336.4,771.0A98.5,98.5 0 0 1 340.6,773.8M335.3,777.2L338.5,772.4M357.0,773.1L383.5,743.7M358.1,774.1L371.3,759.8M357.0,773.1A109.3,109.3 0 0 1 358.1,774.1M352.2,779.4L357.6,773.6M354.2,781.3L360.6,774.7M352.2,779.4A101.5,101.5 0 0 1 354.2,781.3M351.3,782.4L353.2,780.3M353.3,784.2L361.2,776.2M351.3,782.4A98.7,98.7 0 0 1 353.3,784.2M348.2,787.6L352.3,783.3M335.3,777.2A92.7,92.7 0 0 1 348.2,787.6M339.8,784.8L342.0,782.1M329.4,777.6A89.2,89.2 0 0 1 339.8,784.8M331.8,785.3L334.7,781.0M356.0,784.2L365.3,775.1M358.5,783.8L387.6,756.3M359.7,785.1L366.3,779.2M358.5,783.8A102.7,102.7 0 0 1 359.7,785.1M357.6,785.9L359.1,784.5M356.0,784.2A100.6,100.6 0 0 1 357.6,785.9M353.4,788.2L356.8,785.0M359.4,787.8L369.0,779.3M362.0,787.5L371.1,779.7M363.3,789.0L382.4,773.4M362.0,787.5A102.9,102.9 0 0 1 363.3,789.0M361.0,789.7L362.7,788.2M359.4,787.8A100.7,100.7 0 0 1 361.0,789.7M356.6,791.8L360.2,788.7M353.4,788.2A95.9,95.9 0 0 1 356.6,791.8M353.4,791.5L355.0,790.0M359.4,794.2L375.1,781.7M365.6,791.6L376.3,783.4M372.1,788.9L386.1,778.5M383.2,783.2L391.6,777.1M384.3,784.8L397.4,775.8M383.2,783.2A122.2,122.2 0 0 1 384.3,784.8M377.9,788.1L383.8,784.0M386.0,786.0L393.8,780.8M391.8,785.2L407.6,775.0M392.7,786.5L398.8,782.7M391.8,785.2A128.2,128.2 0 0 1 392.7,786.5M387.7,788.7L392.2,785.9M386.0,786.0A122.9,122.9 0 0 1 387.7,788.7M380.3,791.6L386.8,787.4M377.9,788.1A115.1,115.1 0 0 1 380.3,791.6M374.8,792.8L379.1,789.8M372.1,788.9A109.9,109.9 0 0 1 374.8,792.8M367.9,794.7L373.5,790.8M365.6,791.6A103.1,103.1 0 0 1 367.9,794.7M361.6,797.0L366.8,793.1M359.4,794.2A96.6,96.6 0 0 1 361.6,797.0M358.2,797.3L360.5,795.6M353.4,791.5A93.7,93.7 0 0 1 358.2,797.3M352.6,797.0L355.9,794.4M369.1,803.6L385.7,793.7M374.3,802.6L388.1,794.7M375.1,803.9L379.6,801.4M374.3,802.6A104.2,104.2 0 0 1 375.1,803.9M370.3,805.7L374.7,803.2M369.1,803.6A99.2,99.2 0 0 1 370.3,805.7M363.6,808.2L369.7,804.7M375.4,805.9L388.5,798.9M379.4,805.7L394.5,798.0M380.2,807.3L398.3,798.5M379.4,805.7A107.2,107.2 0 0 1 380.2,807.3M376.6,808.1L379.8,806.5M375.4,805.9A103.6,103.6 0 0 1 376.6,808.1M373.3,808.4L376.0,807.0M382.9,807.8L399.1,800.2M383.7,809.5L424.2,791.3M382.9,807.8A109.5,109.5 0 0 1 383.7,809.5M377.1,811.5L383.3,808.6M388.1,809.6L431.9,790.8M395.1,808.8L402.6,805.7M396.0,811.0L402.7,808.4M395.1,808.8A120.2,120.2 0 0 1 396.0,811.0M389.2,812.4L395.5,809.9M388.1,809.6A113.5,113.5 0 0 1 389.2,812.4M383.1,813.3L388.7,811.0M387.5,815.9L402.0,810.5M395.3,815.1L415.9,807.9M396.0,817.0L416.3,810.2M395.3,815.1A118.2,118.2 0 0 1 396.0,817.0M388.5,818.5L395.6,816.1M387.5,815.9A110.6,110.6 0 0 1 388.5,818.5M385.0,818.3L388.0,817.2M383.1,813.3A107.4,107.4 0 0 1 385.0,818.3M379.7,817.5L384.1,815.8M377.1,811.5A102.7,102.7 0 0 1 379.7,817.5M376.5,815.3L378.4,814.4M373.3,808.4A100.6,100.6 0 0 1 376.5,815.3M372.8,812.8L375.0,811.8M384.7,822.8L391.6,820.7M390.9,822.6L414.6,815.6M391.5,824.5L401.1,821.8M390.9,822.6A111.7,111.7 0 0 1 391.5,824.5M385.4,825.2L391.2,823.6M384.7,822.8A105.7,105.7 0 0 1 385.4,825.2M377.8,826.2L385.0,824.0M372.8,812.8A98.2,98.2 0 0 1 377.8,826.2M370.0,821.5L375.5,819.4M363.6,808.2A92.2,92.2 0 0 1 370.0,821.5M364.7,815.9L367.1,814.7M352.6,797.0A89.5,89.5 0 0 1 364.7,815.9M354.6,809.1L359.2,806.1M331.8,785.3A84.0,84.0 0 0 1 354.6,809.1M350.0,831.5L363.2,827.0M344.3,796.1A84.0,84.0 0 0 1 363.2,827.0M299.0,786.0L301.7,773.8M280.9,771.9A82.5,82.5 0 0 1 317.4,778.9M309.8,753.6L313.6,738.9M313.5,745.8L314.6,741.6M316.8,741.1L321.3,725.8M318.4,741.5L323.1,726.3M316.8,741.1A118.0,118.0 0 0 1 318.4,741.5M316.1,746.5L317.6,741.3M313.5,745.8A112.5,112.5 0 0 1 316.1,746.5M314.2,748.1L314.8,746.1M317.7,749.2L323.0,732.8M314.2,748.1A110.4,110.4 0 0 1 317.7,749.2M314.8,752.4L315.9,748.7M318.3,753.5L326.9,728.3M314.8,752.4A106.5,106.5 0 0 1 318.3,753.5M315.8,755.3L316.6,752.9M309.8,753.6A104.0,104.0 0 0 1 315.8,755.3M311.8,758.0L312.8,754.4M317.9,760.0L322.1,748.3M311.8,758.0A100.3,100.3 0 0 1 317.9,760.0M313.5,763.0L314.9,758.9M324.7,746.0L330.2,731.6M326.4,746.6L330.6,735.8M324.7,746.0A115.8,115.8 0 0 1 326.4,746.6M323.5,751.5L325.5,746.3M325.6,752.4L337.8,722.5M323.5,751.5A110.2,110.2 0 0 1 325.6,752.4M322.7,756.6L324.5,751.9M327.6,752.4L339.5,724.8M332.2,746.4L337.3,735.1M335.3,744.2L342.8,728.3M336.8,745.0L355.3,706.8M335.3,744.2A121.5,121.5 0 0 1 336.8,745.0M334.6,747.6L336.0,744.6M332.2,746.4A118.2,118.2 0 0 1 334.6,747.6M331.7,750.7L333.4,747.0M337.5,747.2L341.4,739.4M339.6,748.3L355.1,718.7M337.5,747.2A119.8,119.8 0 0 1 339.6,748.3M335.9,752.8L338.5,747.7M331.7,750.7A114.1,114.1 0 0 1 335.9,752.8M332.4,754.6L333.8,751.8M327.6,752.4A110.9,110.9 0 0 1 332.4,754.6M327.6,758.7L330.0,753.4M322.7,756.6A105.2,105.2 0 0 1 327.6,758.7M323.6,761.3L325.2,757.6M332.0,765.3L336.0,758.0M323.6,761.3A101.2,101.2 0 0 1 332.0,765.3M325.6,767.9L327.8,763.2M313.5,763.0A96.0,96.0 0 0 1 325.6,767.9M317.4,778.9L322.8,766.6M319.6,765.2A96.0,96.0 0 0 1 322.8,766.6M280.9,771.9L280.4,757.4M244.3,765.7A97.0,97.0 0 0 1 280.4,757.4M250.9,740.4L249.7,736.1M252.7,739.9L249.3,727.5M250.9,740.4A118.6,118.6 0 0 1 252.7,739.9M253.3,745.4L251.8,740.1M254.9,741.0L251.4,727.4M256.8,740.5L255.5,735.0M254.9,741.0A117.0,117.0 0 0 1 256.8,740.5M256.8,744.5L255.8,740.7M253.3,745.4A113.1,113.1 0 0 1 256.8,744.5M256.2,749.4L255.0,744.9M257.8,735.3L256.4,729.0M259.1,733.5L257.1,724.0M260.8,733.2L253.8,696.1M259.1,733.5A123.3,123.3 0 0 1 260.8,733.2M260.2,734.8L259.9,733.3M257.8,735.3A121.8,121.8 0 0 1 260.2,734.8M260.1,740.4L259.0,735.1M264.2,739.6L261.9,726.3M260.1,740.4A116.4,116.4 0 0 1 264.2,739.6M262.5,742.0L262.2,739.9M265.9,739.8L264.7,732.0M267.8,739.5L266.6,731.2M265.9,739.8A115.9,115.9 0 0 1 267.8,739.5M267.1,741.2L266.8,739.6M262.5,742.0A114.3,114.3 0 0 1 267.1,741.2M265.8,747.4L264.8,741.6M256.2,749.4A108.5,108.5 0 0 1 265.8,747.4M261.9,752.6L261.0,748.3M269.9,741.3L269.1,734.9M271.3,739.2L270.9,734.8M273.3,739.0L272.0,725.1M271.3,739.2A115.7,115.7 0 0 1 273.3,739.0M272.5,741.0L272.3,739.1M269.9,741.3A113.8,113.8 0 0 1 272.5,741.0M271.8,746.6L271.2,741.2M274.7,734.7L272.7,708.2M276.1,724.1L274.2,692.6M277.7,714.6L276.7,692.5M279.8,709.2L279.5,698.0M281.9,709.2L281.8,702.4M279.8,709.2A145.1,145.1 0 0 1 281.9,709.2M281.0,714.5L280.9,709.2M277.7,714.6A139.8,139.8 0 0 1 281.0,714.5M279.5,719.4L279.3,714.6M283.9,714.9L283.9,711.2M286.4,705.3L286.5,694.8M288.9,705.4L289.1,699.8M286.4,705.3A149.0,149.0 0 0 1 288.9,705.4M287.5,710.9L287.6,705.4M290.9,711.0L291.4,702.2M287.5,710.9A143.4,143.4 0 0 1 290.9,711.0M289.1,715.0L289.2,711.0M283.9,714.9A139.4,139.4 0 0 1 289.1,715.0M286.4,719.4L286.5,715.0M279.5,719.4A134.9,134.9 0 0 1 286.4,719.4M283.0,723.9L282.9,719.4M276.1,724.1A130.4,130.4 0 0 1 283.0,723.9M279.7,729.2L279.5,723.9M292.1,727.6L292.7,717.8M294.3,724.7L295.2,714.8M296.9,719.0L299.4,693.1M298.9,719.2L299.4,714.5M296.9,719.0A135.9,135.9 0 0 1 298.9,719.2M297.3,725.0L297.9,719.1M294.3,724.7A130.0,130.0 0 0 1 297.3,725.0M295.5,727.9L295.8,724.9M292.1,727.6A127.0,127.0 0 0 1 295.5,727.9M293.7,729.6L293.8,727.7M279.7,729.2A125.1,125.1 0 0 1 293.7,729.6M286.6,734.4L286.7,729.2M274.7,734.7A119.9,119.9 0 0 1 286.6,734.4M280.8,739.5L280.6,734.4M299.0,735.1L302.1,711.2M300.6,735.3L303.8,712.3M299.0,735.1A120.2,120.2 0 0 1 300.6,735.3M299.5,737.4L299.8,735.2M302.3,737.8L303.7,728.9M299.5,737.4A118.0,118.0 0 0 1 302.3,737.8M300.4,740.7L300.9,737.6M280.8,739.5A114.8,114.8 0 0 1 300.4,740.7M290.4,743.5L290.6,739.7M305.9,728.8L306.6,724.8M308.0,729.1L310.9,714.1M305.9,728.8A127.5,127.5 0 0 1 308.0,729.1M306.0,733.8L306.9,728.9M308.9,734.3L311.5,721.8M306.0,733.8A122.5,122.5 0 0 1 308.9,734.3M306.5,739.1L307.5,734.1M309.4,739.7L312.0,728.2M306.5,739.1A117.4,117.4 0 0 1 309.4,739.7M307.4,741.7L307.9,739.4M310.5,742.4L311.3,739.3M307.4,741.7A115.0,115.0 0 0 1 310.5,742.4M308.1,746.0L309.0,742.1M290.4,743.5A111.0,111.0 0 0 1 308.1,746.0M298.9,747.0L299.3,744.4M271.8,746.6A108.3,108.3 0 0 1 298.9,747.0M285.3,750.3L285.4,746.0M261.9,752.6A104.0,104.0 0 0 1 285.3,750.3M280.4,757.4L280.2,750.4M273.5,750.8A104.0,104.0 0 0 1 280.2,750.4M244.3,765.7L238.2,752.0M213.6,767.0A112.0,112.0 0 0 1 238.2,752.0M213.6,767.0L211.9,764.9M194.6,782.2A114.7,114.7 0 0 1 211.9,764.9M194.6,782.2L192.9,780.8M183.5,794.2A116.9,116.9 0 0 1 192.9,780.8M183.5,794.2L182.3,793.4M175.1,807.5A118.4,118.4 0 0 1 182.3,793.4M175.1,807.5L173.8,806.9M169.2,819.4A119.8,119.8 0 0 1 173.8,806.9M169.2,819.4L168.1,819.1M163.1,847.1A120.9,120.9 0 0 1 168.1,819.1M163.1,847.1L160.6,846.9M162.5,876.6A123.4,123.4 0 0 1 160.6,846.9M162.5,876.6L160.7,876.9M166.3,897.4A125.1,125.1 0 0 1 160.7,876.9M166.3,897.4L165.3,897.8M172.8,914.3A126.2,126.2 0 0 1 165.3,897.8M172.8,914.3L172.0,914.7M186.4,935.9A127.1,127.1 0 0 1 172.0,914.7M186.4,935.9L185.4,936.8M197.7,949.6A128.4,128.4 0 0 1 185.4,936.8M197.7,949.6L197.2,950.2M217.6,965.3A129.3,129.3 0 0 1 197.2,950.2M217.6,965.3L216.9,966.4M236.2,975.8A130.5,130.5 0 0 1 216.9,966.4M236.2,975.8L235.8,976.8M256.0,982.9A131.5,131.5 0 0 1 235.8,976.8M256.0,982.9L255.8,983.9M285.5,986.8A132.6,132.6 0 0 1 255.8,983.9M285.5,986.8L285.5,988.3M305.2,986.6A134.0,134.0 0 0 1 285.5,988.3M305.2,986.6L305.4,987.5M326.7,982.2A134.9,134.9 0 0 1 305.4,987.5M326.7,982.2L327.1,983.5M352.2,972.1A136.2,136.2 0 0 1 327.1,983.5M352.2,972.1L353.1,973.5M382.3,950.8A137.9,137.9 0 0 1 353.1,973.5M382.3,950.8L383.9,952.3M395.8,938.4A140.1,140.1 0 0 1 383.9,952.3M395.8,938.4L396.7,939.1M408.6,920.3A141.2,141.2 0 0 1 396.7,939.1M408.6,920.3L409.7,920.9M418.4,901.0A142.4,142.4 0 0 1 409.7,920.9M418.4,901.0L419.6,901.4M425.2,879.7A143.7,143.7 0 0 1 419.6,901.4M171.8,822.2A116.5,116.5 0 0 1 227.3,752.4M229.3,755.9L227.3,752.4M172.9,807.2A120.5,120.5 0 0 1 216.4,754.4M218.7,757.7L216.4,754.4M237.2,744.4L234.8,738.9M237.6,740.5L236.9,738.7M237.7,736.6L233.3,725.5M239.3,736.0L235.4,725.6M237.7,736.6A126.4,126.4 0 0 1 239.3,736.0M239.8,739.7L238.5,736.3M237.6,740.5A122.8,122.8 0 0 1 239.8,739.7M239.9,743.2L238.7,740.1M237.2,744.4A119.4,119.4 0 0 1 239.9,743.2M239.2,745.4L238.5,743.8M242.7,740.4L239.4,731.3M244.2,739.8L242.2,733.9M242.7,740.4A121.1,121.1 0 0 1 244.2,739.8M244.0,741.6L243.4,740.1M246.1,740.9L245.1,737.9M244.0,741.6A119.5,119.5 0 0 1 246.1,740.9M245.6,743.0L245.0,741.2M239.2,745.4A117.6,117.6 0 0 1 245.6,743.0M243.4,746.7L242.4,744.2M248.6,742.9L246.8,737.3M250.0,742.4L246.6,731.3M248.6,742.9A116.9,116.9 0 0 1 250.0,742.4M249.9,744.5L249.3,742.7M243.4,746.7A114.9,114.9 0 0 1 249.9,744.5M250.1,755.9L246.6,745.6M216.0,749.2L208.8,738.0M217.3,748.4L210.1,736.8M216.0,749.2A125.1,125.1 0 0 1 217.3,748.4M218.2,751.2L216.7,748.8M218.9,747.8L213.9,739.6M219.1,744.2L213.9,735.2M219.0,740.7L213.4,730.9M220.9,739.7L217.3,733.2M219.0,740.7A130.8,130.8 0 0 1 220.9,739.7M221.4,742.9L219.9,740.2M219.1,744.2A127.7,127.7 0 0 1 221.4,742.9M221.8,746.1L220.3,743.5M218.9,747.8A124.7,124.7 0 0 1 221.8,746.1M221.6,749.2L220.3,747.0M218.2,751.2A122.1,122.1 0 0 1 221.6,749.2M220.3,750.9L219.9,750.2M226.8,747.2L220.2,734.7M220.3,750.9A121.3,121.3 0 0 1 226.8,747.2M224.7,751.0L223.6,749.0M227.8,745.4L225.8,741.6M227.6,740.4L223.8,732.8M228.2,737.6L225.2,731.3M230.1,736.7L226.4,728.7M228.2,737.6A129.3,129.3 0 0 1 230.1,736.7M230.1,739.2L229.1,737.2M227.6,740.4A127.0,127.0 0 0 1 230.1,739.2M229.5,741.2L228.8,739.8M233.1,739.5L229.6,731.5M229.5,741.2A125.5,125.5 0 0 1 233.1,739.5M232.6,743.1L231.3,740.3M227.8,745.4A122.4,122.4 0 0 1 232.6,743.1M231.7,747.4L230.2,744.2M224.7,751.0A119.0,119.0 0 0 1 231.7,747.4M231.4,755.3L228.2,749.1M208.0,760.9L206.1,758.6M204.3,753.9L198.8,747.0M205.6,752.9L201.7,747.7M204.3,753.9A128.0,128.0 0 0 1 205.6,752.9M207.1,756.1L205.0,753.4M205.5,749.7L201.1,743.8M206.8,748.7L196.8,735.1M205.5,749.7A130.7,130.7 0 0 1 206.8,748.7M207.4,750.9L206.1,749.2M209.4,749.4L203.6,741.4M207.4,750.9A128.6,128.6 0 0 1 209.4,749.4M210.7,753.4L208.4,750.2M207.1,756.1A124.6,124.6 0 0 1 210.7,753.4M210.1,756.3L208.9,754.7M213.7,752.6L210.5,748.0M215.1,751.6L214.0,749.9M213.7,752.6A123.6,123.6 0 0 1 215.1,751.6M214.9,752.8L214.4,752.1M210.1,756.3A122.6,122.6 0 0 1 214.9,752.8M213.9,756.5L212.5,754.5M208.0,760.9A120.3,120.3 0 0 1 213.9,756.5M215.9,765.2L210.9,758.6M193.7,773.3L190.5,770.5M191.9,769.8L188.1,766.3M190.6,766.0L182.7,758.5M190.1,762.6L187.7,760.3M190.9,760.5L186.6,756.2M192.2,759.2L187.3,754.1M190.9,760.5A132.1,132.1 0 0 1 192.2,759.2M192.2,760.5L191.5,759.8M190.1,762.6A131.1,131.1 0 0 1 192.2,760.5M193.0,763.4L191.2,761.6M190.6,766.0A128.4,128.4 0 0 1 193.0,763.4M194.4,767.2L191.8,764.7M191.9,769.8A124.8,124.8 0 0 1 194.4,767.2M194.5,769.8L193.1,768.5M196.3,761.0L193.4,757.9M197.7,759.7L190.4,751.7M196.3,761.0A128.0,128.0 0 0 1 197.7,759.7M198.0,761.5L197.0,760.3M199.9,759.8L197.4,757.0M198.0,761.5A126.4,126.4 0 0 1 199.9,759.8M200.6,762.5L198.9,760.6M200.8,757.9L198.6,755.3M202.1,756.8L194.9,748.1M200.8,757.9A127.2,127.2 0 0 1 202.1,756.8M203.6,759.8L201.5,757.3M200.6,762.5A123.9,123.9 0 0 1 203.6,759.8M202.7,761.8L202.1,761.1M194.5,769.8A123.0,123.0 0 0 1 202.7,761.8M199.8,767.0L198.5,765.7M193.7,773.3A121.1,121.1 0 0 1 199.8,767.0M201.3,774.6L196.7,770.1M178.0,787.5L162.2,777.6M170.6,780.7L163.1,775.9M168.9,777.3L151.7,765.8M169.9,775.8L165.4,772.7M168.9,777.3A138.3,138.3 0 0 1 169.9,775.8M172.2,778.4L169.4,776.5M170.6,780.7A135.0,135.0 0 0 1 172.2,778.4M173.6,781.1L171.4,779.6M171.2,774.0L165.2,769.7M172.1,772.7L156.7,761.4M171.2,774.0A138.3,138.3 0 0 1 172.1,772.7M173.3,774.6L171.7,773.3M175.0,772.3L172.7,770.5M173.3,774.6A136.2,136.2 0 0 1 175.0,772.3M177.3,775.8L174.2,773.4M173.6,781.1A132.3,132.3 0 0 1 177.3,775.8M176.8,779.3L175.4,778.4M177.5,772.1L171.7,767.7M178.6,770.7L172.6,765.9M177.5,772.1A134.4,134.4 0 0 1 178.6,770.7M179.8,772.8L178.0,771.4M180.4,769.1L178.7,767.7M181.4,767.9L175.9,763.3M180.4,769.1A134.0,134.0 0 0 1 181.4,767.9M182.3,769.7L180.9,768.5M179.8,772.8A132.1,132.1 0 0 1 182.3,769.7M182.2,772.2L181.1,771.3M176.8,779.3A130.6,130.6 0 0 1 182.2,772.2M182.0,777.6L179.5,775.7M187.5,770.7L184.0,767.7M182.0,777.6A127.5,127.5 0 0 1 187.5,770.7M186.5,775.6L184.7,774.1M178.0,787.5A125.1,125.1 0 0 1 186.5,775.6M188.7,786.2L182.1,781.4M164.0,805.8L155.3,802.2M164.5,804.4L158.3,801.8M164.0,805.8A129.3,129.3 0 0 1 164.5,804.4M166.1,805.8L164.3,805.1M163.7,801.8L155.9,798.4M164.4,800.2L159.7,798.1M163.7,801.8A131.1,131.1 0 0 1 164.4,800.2M165.8,801.8L164.0,801.0M163.2,797.5L158.3,795.2M160.3,794.6L153.7,791.4M161.2,792.8L158.7,791.6M160.3,794.6A137.2,137.2 0 0 1 161.2,792.8M163.2,794.9L160.7,793.7M164.6,792.2L161.5,790.6M163.2,794.9A134.4,134.4 0 0 1 164.6,792.2M164.9,794.1L163.9,793.6M163.2,797.5A133.3,133.3 0 0 1 164.9,794.1M166.3,796.9L164.1,795.8M165.1,790.8L160.0,788.1M166.0,789.1L163.0,787.5M165.1,790.8A134.6,134.6 0 0 1 166.0,789.1M166.3,790.4L165.6,790.0M166.6,787.0L161.2,783.8M166.1,784.8L163.7,783.3M167.0,783.1L159.1,778.3M166.1,784.8A136.7,136.7 0 0 1 167.0,783.1M167.9,784.7L166.6,783.9M166.6,787.0A135.2,135.2 0 0 1 167.9,784.7M168.4,786.5L167.2,785.9M166.3,790.4A133.8,133.8 0 0 1 168.4,786.5M170.0,789.9L167.3,788.4M166.3,796.9A130.7,130.7 0 0 1 170.0,789.9M169.5,794.1L168.1,793.4M165.8,801.8A129.2,129.2 0 0 1 169.5,794.1M169.3,798.7L167.6,797.9M166.1,805.8A127.3,127.3 0 0 1 169.3,798.7M175.8,805.9L167.6,802.3M153.0,826.5L144.2,824.6M151.1,823.7L147.9,823.0M151.5,821.8L145.1,820.2M151.1,823.7A136.2,136.2 0 0 1 151.5,821.8M153.7,823.3L151.3,822.7M153.0,826.5A133.7,133.7 0 0 1 153.7,823.3M154.9,825.3L153.4,824.9M153.0,820.6L149.0,819.5M153.6,818.4L137.3,813.9M153.0,820.6A135.0,135.0 0 0 1 153.6,818.4M156.1,820.2L153.3,819.5M154.9,825.3A132.1,132.1 0 0 1 156.1,820.2M158.8,823.5L155.5,822.7M155.7,816.9L146.0,814.1M156.2,815.2L152.6,814.1M155.7,816.9A133.5,133.5 0 0 1 156.2,815.2M156.7,816.3L155.9,816.1M152.7,811.9L149.4,810.8M153.3,810.1L148.8,808.6M152.7,811.9A137.8,137.8 0 0 1 153.3,810.1M154.6,811.5L153.0,811.0M155.5,808.8L138.5,802.8M154.6,811.5A136.1,136.1 0 0 1 155.5,808.8M158.3,811.3L155.0,810.2M156.7,816.3A132.6,132.6 0 0 1 158.3,811.3M158.4,814.1L157.5,813.8M157.4,807.4L150.7,804.9M158.1,805.5L151.7,803.0M157.4,807.4A134.8,134.8 0 0 1 158.1,805.5M160.7,807.6L157.7,806.4M158.4,814.1A131.7,131.7 0 0 1 160.7,807.6M162.3,811.8L159.5,810.8M158.8,823.5A128.7,128.7 0 0 1 162.3,811.8M167.9,819.9L160.4,817.6M154.5,843.5L141.2,842.4M150.9,841.2L133.1,839.4M149.1,839.1L142.5,838.3M147.7,837.1L145.7,836.8M148.0,835.3L129.8,832.8M147.7,837.1A137.2,137.2 0 0 1 148.0,835.3M149.5,836.4L147.8,836.2M149.1,839.1A135.5,135.5 0 0 1 149.5,836.4M151.3,838.0L149.3,837.8M150.9,841.2A133.5,133.5 0 0 1 151.3,838.0M154.8,840.0L151.1,839.6M154.5,843.5A129.8,129.8 0 0 1 154.8,840.0M155.5,841.8L154.6,841.7M155.5,834.6L144.0,832.8M151.9,831.8L148.3,831.1M152.2,830.2L140.8,828.1M151.9,831.8A133.8,133.8 0 0 1 152.2,830.2M153.8,831.3L152.0,831.0M154.3,828.7L144.9,826.9M153.8,831.3A132.0,132.0 0 0 1 154.3,828.7M156.2,830.4L154.0,830.0M155.5,834.6A129.8,129.8 0 0 1 156.2,830.4M156.7,832.7L155.9,832.5M155.5,841.8A128.9,128.9 0 0 1 156.7,832.7M163.9,838.3L156.1,837.2M149.2,858.2L135.6,858.6M142.8,856.5L131.8,856.7M139.7,854.5L130.1,854.5M135.0,852.2L126.2,852.1M135.1,850.3L126.0,850.1M135.0,852.2A148.8,148.8 0 0 1 135.1,850.3M137.3,851.3L135.0,851.3M137.4,848.5L118.9,847.7M137.3,851.3A146.5,146.5 0 0 1 137.4,848.5M139.8,850.0L137.4,849.9M139.7,854.5A144.1,144.1 0 0 1 139.8,850.0M142.8,852.3L139.7,852.2M142.8,856.5A141.0,141.0 0 0 1 142.8,852.3M145.7,854.4L142.8,854.4M142.8,846.7L137.5,846.4M142.9,844.9L136.3,844.5M142.8,846.7A141.2,141.2 0 0 1 142.9,844.9M146.0,846.0L142.9,845.8M145.7,854.4A138.1,138.1 0 0 1 146.0,846.0M149.2,850.3L145.8,850.2M149.2,858.2A134.7,134.7 0 0 1 149.2,850.3M160.4,854.3L149.1,854.3M142.9,878.1L137.7,878.9M142.6,875.9L127.0,878.2M142.9,878.1A142.9,142.9 0 0 1 142.6,875.9M145.2,876.6L142.7,877.0M143.2,873.6L134.2,874.8M142.8,870.7L131.3,872.0M143.2,873.6A142.0,142.0 0 0 1 142.8,870.7M144.6,871.9L143.0,872.1M145.2,876.6A140.4,140.4 0 0 1 144.6,871.9M147.7,873.9L144.9,874.3M147.0,867.8L144.4,868.1M147.7,873.9A137.5,137.5 0 0 1 147.0,867.8M150.1,870.5L147.3,870.9M145.9,865.3L134.1,866.2M145.7,862.9L137.6,863.4M145.9,865.3A138.3,138.3 0 0 1 145.7,862.9M149.4,863.9L145.8,864.1M150.1,870.5A134.7,134.7 0 0 1 149.4,863.9M153.5,866.8L149.7,867.2M153.1,860.1L137.6,860.8M153.5,866.8A130.9,130.9 0 0 1 153.1,860.1M160.7,862.9L153.3,863.5M157.5,898.0L149.2,900.9M156.8,895.9L147.6,898.9M157.5,898.0A133.6,133.6 0 0 1 156.8,895.9M158.4,896.6L157.2,897.0M143.1,898.2L133.7,901.1M142.4,895.8L131.5,899.0M143.1,898.2A147.4,147.4 0 0 1 142.4,895.8M147.0,895.7L142.8,897.0M146.0,892.3L128.7,897.0M147.0,895.7A143.0,143.0 0 0 1 146.0,892.3M150.3,892.9L146.4,894.0M149.2,888.9L139.2,891.5M150.3,892.9A139.0,139.0 0 0 1 149.2,888.9M152.0,890.3L149.7,890.9M148.8,886.9L140.7,888.8M148.2,884.5L145.7,885.1M148.8,886.9A138.9,138.9 0 0 1 148.2,884.5M149.5,885.4L148.5,885.7M147.1,882.3L143.8,882.9M146.7,880.3L139.5,881.7M147.1,882.3A139.6,139.6 0 0 1 146.7,880.3M148.6,881.0L146.9,881.3M149.5,885.4A137.8,137.8 0 0 1 148.6,881.0M150.2,883.0L149.0,883.2M152.0,890.3A136.6,136.6 0 0 1 150.2,883.0M155.2,885.6L151.1,886.6M158.4,896.6A132.4,132.4 0 0 1 155.2,885.6M163.6,889.1L156.7,891.1M161.9,917.7L157.4,920.0M160.7,915.3L155.2,918.1M161.9,917.7A137.4,137.4 0 0 1 160.7,915.3M163.5,915.4L161.3,916.5M158.3,913.9L153.5,916.2M157.3,911.8L153.2,913.6M158.3,913.9A138.9,138.9 0 0 1 157.3,911.8M160.0,911.8L157.8,912.8M152.0,911.2L143.9,914.7M150.8,908.3L140.7,912.4M152.0,911.2A143.5,143.5 0 0 1 150.8,908.3M156.0,907.8L151.4,909.8M154.7,904.7L151.4,906.0M156.0,907.8A138.5,138.5 0 0 1 154.7,904.7M157.3,905.5L155.4,906.3M160.0,911.8A136.5,136.5 0 0 1 157.3,905.5M160.1,908.0L158.6,908.7M163.5,915.4A134.9,134.9 0 0 1 160.1,908.0M165.2,910.1L161.7,911.7M160.7,899.6L151.6,903.0M165.2,910.1A131.1,131.1 0 0 1 160.7,899.6M167.4,903.0L162.8,904.9M169.7,926.0L160.8,931.6M164.6,926.8L162.2,928.3M159.1,927.0L152.8,930.6M155.7,926.9L151.8,929.1M154.5,924.7L145.7,929.5M155.7,926.9A147.2,147.2 0 0 1 154.5,924.7M157.6,924.4L155.1,925.8M159.1,927.0A144.4,144.4 0 0 1 157.6,924.4M162.6,923.3L158.3,925.7M164.6,926.8A139.5,139.5 0 0 1 162.6,923.3M167.7,922.6L163.6,925.0M169.7,926.0A134.8,134.8 0 0 1 167.7,922.6M175.2,920.4L168.7,924.3M178.5,943.2L167.2,952.7M177.0,941.5L170.2,947.0M178.5,943.2A137.9,137.9 0 0 1 177.0,941.5M180.8,939.8L177.7,942.4M178.6,937.0L176.2,938.9M180.8,939.8A133.8,133.8 0 0 1 178.6,937.0M180.6,937.6L179.7,938.4M178.1,934.4L170.2,940.5M180.6,937.6A132.6,132.6 0 0 1 178.1,934.4M181.8,934.2L179.4,936.0M175.0,933.8L169.6,937.8M173.5,931.7L165.4,937.5M175.0,933.8A134.7,134.7 0 0 1 173.5,931.7M175.5,931.9L174.3,932.8M172.1,929.9L167.9,932.8M170.9,928.1L161.7,934.1M172.1,929.9A134.9,134.9 0 0 1 170.9,928.1M172.8,928.1L171.5,929.0M175.5,931.9A133.2,133.2 0 0 1 172.8,928.1M177.2,927.9L174.2,930.0M181.8,934.2A129.6,129.6 0 0 1 177.2,927.9M181.4,929.6L179.4,931.1M194.3,954.1L189.2,959.8M192.8,952.8L188.8,957.1M194.3,954.1A134.1,134.1 0 0 1 192.8,952.8M194.6,952.3L193.5,953.5M189.9,952.3L187.2,955.2M187.2,951.1L183.4,954.9M185.6,949.4L181.4,953.5M187.2,951.1A136.7,136.7 0 0 1 185.6,949.4M187.1,949.5L186.4,950.3M189.9,952.3A135.7,135.7 0 0 1 187.1,949.5M189.7,949.7L188.5,950.9M183.3,948.5L178.5,953.0M181.6,946.6L171.6,955.6M183.3,948.5A137.7,137.7 0 0 1 181.6,946.6M184.0,946.1L182.4,947.6M181.8,943.6L173.7,950.7M184.0,946.1A135.6,135.6 0 0 1 181.8,943.6M184.1,943.8L182.9,944.9M189.7,949.7A134.0,134.0 0 0 1 184.1,943.8M187.9,945.8L186.9,946.8M194.6,952.3A132.5,132.5 0 0 1 187.9,945.8M194.1,946.1L191.2,949.1M204.1,961.5L199.5,967.7M200.2,962.1L194.9,969.0M196.3,963.5L187.5,974.4M191.0,965.2L185.4,972.0M188.9,963.5L183.6,969.6M191.0,965.2A144.6,144.6 0 0 1 188.9,963.5M193.0,960.8L190.0,964.3M196.3,963.5A139.9,139.9 0 0 1 193.0,960.8M196.8,959.4L194.6,962.1M200.2,962.1A136.4,136.4 0 0 1 196.8,959.4M200.3,958.6L198.5,960.8M204.1,961.5A133.6,133.6 0 0 1 200.3,958.6M204.8,956.7L202.2,960.1M209.0,971.6L201.8,982.8M204.1,973.9L200.2,979.7M201.7,972.3L198.3,977.3M204.1,973.9A143.7,143.7 0 0 1 201.7,972.3M205.5,969.3L202.9,973.1M209.0,971.6A139.1,139.1 0 0 1 205.5,969.3M209.1,967.7L207.2,970.5M204.5,964.6L200.0,970.9M209.1,967.7A135.8,135.8 0 0 1 204.5,964.6M210.5,960.8L206.8,966.2M219.6,978.9L217.2,983.6M217.0,977.5L211.7,987.3M219.6,978.9A140.2,140.2 0 0 1 217.0,977.5M220.3,974.5L218.3,978.2M214.9,975.5L206.6,990.3M212.6,974.2L205.2,986.7M214.9,975.5A139.4,139.4 0 0 1 212.6,974.2M215.5,971.9L213.8,974.9M220.3,974.5A136.0,136.0 0 0 1 215.5,971.9M218.8,971.5L217.9,973.2M213.2,968.2L207.3,977.8M218.8,971.5A134.0,134.0 0 0 1 213.2,968.2M217.8,966.9L216.0,969.9M236.3,979.5L234.7,983.7M232.6,983.2L228.5,993.6M230.3,982.3L226.1,992.3M232.6,983.2A138.7,138.7 0 0 1 230.3,982.3M232.9,979.3L231.4,982.8M227.7,982.6L226.4,985.5M225.5,981.6L224.4,983.8M227.7,982.6A140.0,140.0 0 0 1 225.5,981.6M228.0,979.0L226.6,982.1M224.3,979.2L222.8,982.4M222.3,978.3L218.8,985.4M224.3,979.2A138.4,138.4 0 0 1 222.3,978.3M224.1,977.2L223.3,978.7M228.0,979.0A136.6,136.6 0 0 1 224.1,977.2M226.7,976.6L226.0,978.1M232.9,979.3A134.9,134.9 0 0 1 226.7,976.6M230.2,977.0L229.8,977.9M236.3,979.5A133.9,133.9 0 0 1 230.2,977.0M234.5,975.1L233.2,978.3M250.0,983.0L248.1,990.3M247.1,985.7L245.6,991.1M242.2,992.4L241.2,995.9M239.9,991.7L237.7,998.5M242.2,992.4A144.2,144.2 0 0 1 239.9,991.7M242.3,988.1L241.1,992.0M237.8,989.1L234.3,999.3M235.3,988.2L234.0,992.0M237.8,989.1A142.4,142.4 0 0 1 235.3,988.2M237.3,986.5L236.6,988.6M242.3,988.1A140.1,140.1 0 0 1 237.3,986.5M241.0,983.8L239.8,987.3M247.1,985.7A136.4,136.4 0 0 1 241.0,983.8M245.0,981.6L244.0,984.8M250.0,983.0A133.1,133.1 0 0 1 245.0,981.6M247.9,980.9L247.5,982.3M264.8,1001.1L263.4,1011.6M262.9,1000.9L261.4,1012.0M264.8,1001.1A148.0,148.0 0 0 1 262.9,1000.9M264.2,998.9L263.9,1001.0M260.9,998.4L259.8,1004.9M264.2,998.9A145.9,145.9 0 0 1 260.9,998.4M263.0,995.3L262.5,998.6M258.0,1001.3L256.9,1007.9M255.0,1000.8L253.3,1009.8M258.0,1001.3A149.3,149.3 0 0 1 255.0,1000.8M257.0,998.5L256.5,1001.1M252.7,1000.4L251.1,1008.2M250.7,999.9L248.0,1011.9M252.7,1000.4A149.3,149.3 0 0 1 250.7,999.9M252.3,997.6L251.7,1000.1M257.0,998.5A146.7,146.7 0 0 1 252.3,997.6M255.5,994.0L254.6,998.1M263.0,995.3A142.6,142.6 0 0 1 255.5,994.0M260.0,990.5L259.2,994.7M250.9,988.6L250.0,992.2M260.0,990.5A138.3,138.3 0 0 1 250.9,988.6M256.6,984.0L255.4,989.6M281.1,996.0L280.9,1006.8M278.1,995.9L277.5,1010.5M281.1,996.0A141.8,141.8 0 0 1 278.1,995.9M279.7,994.3L279.6,996.0M275.8,995.6L275.5,1001.4M273.4,995.5L273.1,1000.2M275.8,995.6A141.5,141.5 0 0 1 273.4,995.5M274.7,994.1L274.6,995.5M279.7,994.3A140.1,140.1 0 0 1 274.7,994.1M277.2,992.9L277.2,994.2M270.7,997.3L270.5,999.9M267.6,996.9L267.3,999.9M270.7,997.3A143.6,143.6 0 0 1 267.6,996.9M269.6,992.3L269.2,997.1M277.2,992.9A138.8,138.8 0 0 1 269.6,992.3M273.9,986.5L273.4,992.7M290.0,992.4L290.1,995.0M288.2,995.7L288.5,1007.4M285.3,995.7L285.4,1006.1M288.2,995.7A141.4,141.4 0 0 1 285.3,995.7M286.7,992.5L286.7,995.7M290.0,992.4A138.2,138.2 0 0 1 286.7,992.5M288.3,990.3L288.3,992.4M283.3,990.4L283.3,998.8M288.3,990.3A136.1,136.1 0 0 1 283.3,990.4M285.8,988.3L285.8,990.4M308.0,995.1L309.4,1003.6M306.8,1004.2L308.8,1017.4M303.9,1004.6L305.1,1013.4M306.8,1004.2A151.6,151.6 0 0 1 303.9,1004.6M304.7,999.7L305.4,1004.4M301.0,1000.2L301.7,1006.8M304.7,999.7A146.9,146.9 0 0 1 301.0,1000.2M302.3,995.9L302.8,1000.0M308.0,995.1A142.8,142.8 0 0 1 302.3,995.9M304.8,993.2L305.1,995.5M298.6,1002.4L299.8,1013.8M295.9,1002.7L296.2,1007.5M298.6,1002.4A148.9,148.9 0 0 1 295.9,1002.7M296.8,997.9L297.2,1002.5M292.9,998.3L293.0,1000.8M296.8,997.9A144.2,144.2 0 0 1 292.9,998.3M294.6,994.4L294.8,998.1M304.8,993.2A140.5,140.5 0 0 1 294.6,994.4M298.9,987.4L299.7,993.9M325.9,989.5L327.4,994.2M323.7,990.1L328.0,1004.7M325.9,989.5A141.6,141.6 0 0 1 323.7,990.1M324.2,987.7L324.8,989.8M320.6,988.7L322.3,995.2M324.2,987.7A139.4,139.4 0 0 1 320.6,988.7M321.7,985.9L322.4,988.2M318.4,991.1L319.0,993.5M316.2,994.3L318.1,1002.5M312.9,995.0L314.5,1002.4M316.2,994.3A143.7,143.7 0 0 1 312.9,995.0M314.0,992.2L314.6,994.6M318.4,991.1A141.1,141.1 0 0 1 314.0,992.2M315.6,989.2L316.2,991.7M309.7,990.5L311.8,1001.9M315.6,989.2A138.6,138.6 0 0 1 309.7,990.5M312.3,988.2L312.7,989.9M321.7,985.9A136.9,136.9 0 0 1 312.3,988.2M316.5,985.2L317.0,987.2M334.3,983.7L337.6,992.0M332.7,986.9L334.5,992.1M330.7,987.6L332.2,992.0M332.7,986.9A141.3,141.3 0 0 1 330.7,987.6M331.2,986.0L331.7,987.3M327.4,987.3L329.9,995.1M331.2,986.0A139.9,139.9 0 0 1 327.4,987.3M328.9,985.6L329.3,986.6M334.3,983.7A138.9,138.9 0 0 1 328.9,985.6M330.7,982.2L331.6,984.7M353.8,978.9L357.9,986.1M351.3,980.3L355.3,987.8M353.8,978.9A142.9,142.9 0 0 1 351.3,980.3M351.7,978.0L352.5,979.6M347.9,981.7L351.2,988.1M345.6,982.9L346.9,985.7M347.9,981.7A142.6,142.6 0 0 1 345.6,982.9M346.0,980.9L346.7,982.3M351.7,978.0A141.1,141.1 0 0 1 346.0,980.9M347.8,977.5L348.9,979.5M342.2,982.3L344.7,987.8M340.0,985.2L343.1,992.3M337.1,986.4L338.3,989.3M340.0,985.2A142.5,142.5 0 0 1 337.1,986.4M337.9,984.1L338.6,985.8M342.2,982.3A140.7,140.7 0 0 1 337.9,984.1M339.3,981.5L340.0,983.2M347.8,977.5A138.8,138.8 0 0 1 339.3,981.5M342.5,977.2L343.6,979.6M361.6,973.8L365.1,979.3M360.4,976.7L362.0,979.3M358.1,978.2L361.5,983.9M360.4,976.7A144.4,144.4 0 0 1 358.1,978.2M358.3,975.8L359.2,977.4M361.6,973.8A142.5,142.5 0 0 1 358.3,975.8M358.7,972.8L359.9,974.8M354.5,975.4L355.8,977.7M358.7,972.8A140.2,140.2 0 0 1 354.5,975.4M355.4,972.1L356.6,974.1M372.6,964.2L382.1,975.8M371.3,968.1L374.4,972.1M371.3,972.6L374.2,976.6M368.2,974.8L372.7,981.3M371.3,972.6A147.1,147.1 0 0 1 368.2,974.8M369.1,972.9L369.7,973.7M365.6,975.3L367.5,978.1M369.1,972.9A146.1,146.1 0 0 1 365.6,975.3M365.9,972.0L367.4,974.1M371.3,968.1A143.5,143.5 0 0 1 365.9,972.0M367.3,968.3L368.6,970.1M372.6,964.2A141.3,141.3 0 0 1 367.3,968.3M367.9,963.6L370.0,966.3M391.7,957.4L397.1,962.6M389.8,959.3L396.6,966.0M391.7,957.4A149.2,149.2 0 0 1 389.8,959.3M388.9,956.6L390.8,958.4M385.6,959.9L390.3,964.9M388.9,956.6A146.7,146.7 0 0 1 385.6,959.9M386.0,957.0L387.3,958.2M382.4,960.5L383.9,962.1M386.0,957.0A144.9,144.9 0 0 1 382.4,960.5M383.5,958.1L384.2,958.8M380.1,961.3L384.0,965.6M383.5,958.1A143.9,143.9 0 0 1 380.1,961.3M380.6,958.4L381.8,959.7M378.0,963.1L382.7,968.7M375.7,965.1L378.7,968.8M378.0,963.1A143.9,143.9 0 0 1 375.7,965.1M375.7,962.8L376.8,964.1M380.6,958.4A142.1,142.1 0 0 1 375.7,962.8M375.3,957.4L378.2,960.6M399.0,939.9L404.4,943.9M400.2,944.6L409.7,952.0M398.1,947.4L401.1,949.9M400.2,944.6A147.4,147.4 0 0 1 398.1,947.4M398.2,945.3L399.2,946.0M395.7,950.0L397.3,951.3M395.4,954.1L401.4,959.5M393.6,956.0L400.1,962.0M395.4,954.1A149.7,149.7 0 0 1 393.6,956.0M392.7,953.4L394.5,955.1M395.7,950.0A147.2,147.2 0 0 1 392.7,953.4M393.4,951.0L394.2,951.7M398.2,945.3A146.2,146.2 0 0 1 393.4,951.0M393.8,946.5L395.8,948.2M399.0,939.9A143.5,143.5 0 0 1 393.8,946.5M393.8,941.1L396.5,943.2M411.0,922.5L413.9,924.1M410.4,925.6L414.7,928.0M409.3,927.5L417.1,932.0M410.4,925.6A145.3,145.3 0 0 1 409.3,927.5M409.0,926.0L409.9,926.5M411.0,922.5A144.3,144.3 0 0 1 409.0,926.0M407.7,923.0L410.0,924.3M406.3,929.6L415.3,935.1M406.0,932.4L408.4,934.0M406.7,935.5L411.6,938.8M405.8,938.3L410.8,941.7M403.9,941.1L406.1,942.7M405.8,938.3A148.1,148.1 0 0 1 403.9,941.1M404.2,939.2L404.8,939.7M406.7,935.5A147.3,147.3 0 0 1 404.2,939.2M403.5,936.1L405.4,937.4M406.0,932.4A145.0,145.0 0 0 1 403.5,936.1M403.8,933.6L404.7,934.2M406.3,929.6A143.8,143.8 0 0 1 403.8,933.6M403.3,930.4L405.1,931.6M407.7,923.0A141.7,141.7 0 0 1 403.3,930.4M405.1,926.5L405.6,926.8M421.3,900.8L435.7,905.6M422.6,904.8L425.1,905.7M423.2,908.6L428.7,910.8M422.1,911.3L429.4,914.3M423.2,908.6A149.6,149.6 0 0 1 422.1,911.3M420.9,909.3L422.6,910.0M422.6,904.8A147.7,147.7 0 0 1 420.9,909.3M420.6,906.6L421.8,907.1M421.9,914.1L426.8,916.2M420.5,917.1L424.6,919.0M421.9,914.1A150.5,150.5 0 0 1 420.5,917.1M420.0,915.1L421.2,915.6M419.3,920.1L427.0,923.8M417.9,922.9L425.2,926.6M419.3,920.1A150.6,150.6 0 0 1 417.9,922.9M417.3,920.8L418.6,921.5M420.0,915.1A149.2,149.2 0 0 1 417.3,920.8M416.3,916.8L418.7,918.0M420.6,906.6A146.5,146.5 0 0 1 416.3,916.8M417.3,911.2L418.5,911.8M421.3,900.8A145.2,145.2 0 0 1 417.3,911.2M416.9,905.1L419.4,906.1M425.8,889.0L428.6,889.7M429.0,893.9L436.8,896.0M428.0,897.3L434.8,899.3M429.0,893.9A150.5,150.5 0 0 1 428.0,897.3M426.9,895.1L428.5,895.6M425.5,899.6L432.2,901.7M426.9,895.1A148.8,148.8 0 0 1 425.5,899.6M423.8,896.6L426.2,897.4M425.8,889.0A146.2,146.2 0 0 1 423.8,896.6M422.4,892.2L424.9,892.8M426.0,880.9L431.5,881.9M426.7,884.1L433.6,885.6M426.0,886.9L434.8,888.9M426.7,884.1A145.9,145.9 0 0 1 426.0,886.9M425.1,885.3L426.4,885.5M426.0,880.9A144.7,144.7 0 0 1 425.1,885.3M424.6,882.9L425.6,883.1" fill="none" stroke="#000" stroke-width="0.65"/><path d="M301.3,852.5L377.8,844.9M316.5,851.3L429.9,841.1M334.5,850.2L449.3,840.9M334.5,850.6L426.7,843.8M334.5,850.2A50.8,50.8 0 0 1 334.5,850.6M319.9,851.5L334.5,850.4M332.3,851.3L459.5,843.3M342.4,851.2L471.5,844.3M342.4,851.7L453.9,846.9M342.4,851.2A58.6,58.6 0 0 1 342.4,851.7M332.4,851.9L342.4,851.5M332.3,851.3A48.6,48.6 0 0 1 332.4,851.9M320.0,852.3L332.4,851.6M319.9,851.5A36.2,36.2 0 0 1 320.0,852.3M316.6,852.1L320.0,851.9M316.5,851.3A32.8,32.8 0 0 1 316.6,852.1M309.5,852.3L316.5,851.7M309.6,853.4L413.6,849.7M309.5,852.3A25.8,25.8 0 0 1 309.6,853.4M301.4,853.3L309.6,852.8M301.3,852.5A17.6,17.6 0 0 1 301.4,853.3M287.8,854.0L301.4,852.9M295.3,854.0L408.6,851.1M295.3,854.1L415.1,852.3M295.3,854.0A11.5,11.5 0 0 1 295.3,854.1M292.7,854.1L295.3,854.1M292.7,854.2L372.3,853.8M292.7,854.1A8.9,8.9 0 0 1 292.7,854.2M287.8,854.2L292.7,854.2M287.8,854.0A4.0,4.0 0 0 1 287.8,854.2M360.2,838.4L388.4,832.6M360.3,838.9L407.7,829.4M360.2,838.4A78.0,78.0 0 0 1 360.3,838.9M354.5,839.9L360.3,838.7M354.6,840.7L388.8,834.1M354.5,839.9A72.1,72.1 0 0 1 354.6,840.7M352.5,840.7L354.5,840.3M365.6,839.0L417.5,829.4M372.8,838.4L409.8,831.8M372.9,839.0L418.3,831.2M372.8,838.4A90.4,90.4 0 0 1 372.9,839.0M365.7,839.9L372.8,838.7M365.6,839.0A83.2,83.2 0 0 1 365.7,839.9M362.0,840.2L365.7,839.5M371.3,839.8L433.5,829.5M371.4,840.5L428.5,831.5M371.3,839.8A88.7,88.7 0 0 1 371.4,840.5M362.2,841.6L371.3,840.2M362.0,840.2A79.5,79.5 0 0 1 362.2,841.6M352.8,842.5L362.1,840.9M352.5,840.7A70.0,70.0 0 0 1 352.8,842.5M344.8,843.0L352.6,841.6M359.4,842.9L387.6,838.7M359.5,843.4L431.8,833.0M359.4,842.9A76.5,76.5 0 0 1 359.5,843.4M350.4,844.5L359.5,843.1M365.9,843.0L411.0,836.9M366.0,843.6L429.0,835.3M365.9,843.0A82.9,82.9 0 0 1 366.0,843.6M359.6,844.2L365.9,843.3M366.1,844.2L432.0,836.1M369.1,844.5L410.4,839.7M369.1,845.0L421.8,839.2M369.1,844.5A85.8,85.8 0 0 1 369.1,845.0M366.2,845.0L369.1,844.7M366.1,844.2A83.0,83.0 0 0 1 366.2,845.0M359.8,845.4L366.2,844.6M359.6,844.2A76.5,76.5 0 0 1 359.8,845.4M350.6,845.9L359.7,844.8M350.4,844.5A67.3,67.3 0 0 1 350.6,845.9M345.2,845.9L350.5,845.2M344.8,843.0A62.0,62.0 0 0 1 345.2,845.9M287.7,853.7L345.0,844.5M287.7,853.7A4.0,4.0 0 0 1 287.8,854.1" fill="none" stroke="#111" stroke-width="0.5"/>
<path d="M26.05,758.44A275,275 0 0 1 171.07,603.47L177.14,616.97A260.2,260.2 0 0 0 39.92,763.60Z" fill="#1F78B4"/>
<path d="M203.40,591.32A275,275 0 0 1 385.48,598.79L380.01,612.54A260.2,260.2 0 0 0 207.72,605.47Z" fill="#1F78B4"/>
<path d="M385.48,598.79A275,275 0 0 1 417.54,614.01L410.34,626.94A260.2,260.2 0 0 0 380.01,612.54Z" fill="#0B4F3C"/>
<path d="M417.54,614.01A275,275 0 0 1 477.91,659.51L467.47,669.99A260.2,260.2 0 0 0 410.34,626.94Z" fill="#1F78B4"/>
<path d="M479.94,661.55A275,275 0 0 1 481.62,663.27L470.97,673.55A260.2,260.2 0 0 0 469.39,671.92Z" fill="#1F78B4"/>
<path d="M483.61,665.35A275,275 0 0 1 493.53,676.43L482.25,686.01A260.2,260.2 0 0 0 472.85,675.52Z" fill="#1F78B4"/>
<path d="M497.21,680.86A275,275 0 0 1 529.48,730.74L516.26,737.39A260.2,260.2 0 0 0 485.73,690.20Z" fill="#1F78B4"/>
<path d="M530.76,733.32A275,275 0 0 1 549.30,782.66L535.02,786.52A260.2,260.2 0 0 0 517.47,739.83Z" fill="#1F78B4"/>
<path d="M558.56,842.78A275,275 0 0 1 558.69,846.62L543.90,847.03A260.2,260.2 0 0 0 543.77,843.40Z" fill="#FB9A99"/>
<path d="M558.69,846.62A275,275 0 0 1 558.79,852.38L543.99,852.48A260.2,260.2 0 0 0 543.90,847.03Z" fill="#67000D"/>
<path d="M24.07,763.93A275,275 0 0 1 24.48,762.76L38.44,767.69A260.2,260.2 0 0 0 38.05,768.79Z" fill="#FDBF6F"/>
<path d="M22.12,769.74A275,275 0 0 1 22.51,768.56L36.57,773.18A260.2,260.2 0 0 0 36.21,774.29Z" fill="#FDBF6F"/>
<path d="M15.95,791.99A275,275 0 0 1 17.81,784.49L32.12,788.25A260.2,260.2 0 0 0 30.37,795.34Z" fill="#FDBF6F"/>
<path d="M15.03,796.11A275,275 0 0 1 15.29,794.90L29.74,798.10A260.2,260.2 0 0 0 29.49,799.24Z" fill="#FDBF6F"/>
<path d="M13.56,803.36A275,275 0 0 1 13.85,801.84L28.38,804.67A260.2,260.2 0 0 0 28.10,806.10Z" fill="#FDBF6F"/>
<path d="M12.47,809.52A275,275 0 0 1 12.73,808.00L27.32,810.49A260.2,260.2 0 0 0 27.07,811.93Z" fill="#FDBF6F"/>
<path d="M9.09,841.60A275,275 0 0 1 11.93,812.92L26.56,815.14A260.2,260.2 0 0 0 23.88,842.29Z" fill="#FDBF6F"/>
<path d="M8.82,850.67A275,275 0 0 1 8.94,845.52L23.73,845.99A260.2,260.2 0 0 0 23.62,850.86Z" fill="#FDBF6F"/>
<path d="M8.90,861.79A275,275 0 0 1 8.84,859.22L23.64,858.95A260.2,260.2 0 0 0 23.70,861.39Z" fill="#FDBF6F"/>
<path d="M10.63,886.00A275,275 0 0 1 10.35,883.45L25.07,881.88A260.2,260.2 0 0 0 25.33,884.30Z" fill="#FDBF6F"/>
<path d="M12.56,899.65A275,275 0 0 1 12.15,897.11L26.77,894.80A260.2,260.2 0 0 0 27.16,897.21Z" fill="#FDBF6F"/>
<path d="M15.84,916.11A275,275 0 0 1 12.96,901.98L27.54,899.41A260.2,260.2 0 0 0 30.26,912.78Z" fill="#FDBF6F"/>
<path d="M16.96,920.80A275,275 0 0 1 16.35,918.30L30.74,914.85A260.2,260.2 0 0 0 31.32,917.22Z" fill="#FDBF6F"/>
<path d="M24.18,944.97A275,275 0 0 1 18.94,928.27L33.19,924.29A260.2,260.2 0 0 0 38.15,940.09Z" fill="#FDBF6F"/>
<path d="M27.93,955.07A275,275 0 0 1 24.68,946.39L38.62,941.44A260.2,260.2 0 0 0 41.70,949.65Z" fill="#FDBF6F"/>
<path d="M34.05,969.40A275,275 0 0 1 29.52,959.02L43.20,953.38A260.2,260.2 0 0 0 47.49,963.21Z" fill="#FDBF6F"/>
<path d="M38.84,979.28A275,275 0 0 1 35.65,972.81L49.00,966.43A260.2,260.2 0 0 0 52.02,972.55Z" fill="#FDBF6F"/>
<path d="M45.48,991.52A275,275 0 0 1 40.99,983.41L54.06,976.46A260.2,260.2 0 0 0 58.31,984.14Z" fill="#FDBF6F"/>
<path d="M51.13,1000.89A275,275 0 0 1 47.10,994.30L59.84,986.76A260.2,260.2 0 0 0 63.65,993.00Z" fill="#FDBF6F"/>
<path d="M55.18,1007.13A275,275 0 0 1 52.92,1003.69L65.34,995.65A260.2,260.2 0 0 0 67.49,998.91Z" fill="#FDBF6F"/>
<path d="M59.45,1013.34A275,275 0 0 1 57.09,1009.96L69.29,1001.58A260.2,260.2 0 0 0 71.53,1004.78Z" fill="#FDBF6F"/>
<path d="M65.13,1021.06A275,275 0 0 1 61.44,1016.11L73.41,1007.40A260.2,260.2 0 0 0 76.90,1012.09Z" fill="#FDBF6F"/>
<path d="M71.34,1028.90A275,275 0 0 1 67.47,1024.08L79.11,1014.95A260.2,260.2 0 0 0 82.77,1019.51Z" fill="#FDBF6F"/>
<path d="M82.59,1041.75A275,275 0 0 1 75.04,1033.31L86.27,1023.67A260.2,260.2 0 0 0 93.42,1031.66Z" fill="#FDBF6F"/>
<path d="M88.74,1048.15A275,275 0 0 1 78.85,1037.66L89.88,1027.79A260.2,260.2 0 0 0 99.24,1037.72Z" fill="#FDBF6F"/>
<path d="M111.27,1068.45A275,275 0 0 1 101.05,1059.80L110.89,1048.74A260.2,260.2 0 0 0 120.56,1056.92Z" fill="#FDBF6F"/>
<path d="M122.26,1076.85A275,275 0 0 1 120.60,1075.64L129.38,1063.73A260.2,260.2 0 0 0 130.96,1064.88Z" fill="#FDBF6F"/>
<path d="M133.04,1084.29A275,275 0 0 1 126.22,1079.67L134.70,1067.54A260.2,260.2 0 0 0 141.15,1071.91Z" fill="#FDBF6F"/>
<path d="M136.64,1086.61A275,275 0 0 1 134.90,1085.50L142.92,1073.06A260.2,260.2 0 0 0 144.56,1074.11Z" fill="#FDBF6F"/>
<path d="M199.68,1116.12A275,275 0 0 1 194.80,1114.50L199.59,1100.49A260.2,260.2 0 0 0 204.21,1102.03Z" fill="#FDBF6F"/>
<path d="M215.61,1120.71A275,275 0 0 1 210.64,1119.39L214.57,1105.12A260.2,260.2 0 0 0 219.28,1106.37Z" fill="#FDBF6F"/>
<path d="M234.29,1124.81A275,275 0 0 1 231.25,1124.23L234.08,1109.71A260.2,260.2 0 0 0 236.95,1110.25Z" fill="#FDBF6F"/>
<path d="M253.41,1127.62A275,275 0 0 1 250.86,1127.32L252.63,1112.63A260.2,260.2 0 0 0 255.05,1112.91Z" fill="#FDBF6F"/>
<path d="M262.68,1128.49A275,275 0 0 1 260.11,1128.28L261.39,1113.53A260.2,260.2 0 0 0 263.82,1113.73Z" fill="#FDBF6F"/>
<path d="M291.22,1129.20A275,275 0 0 1 287.10,1129.28L286.92,1114.48A260.2,260.2 0 0 0 290.82,1114.41Z" fill="#FDBF6F"/>
<path d="M299.25,1128.87A275,275 0 0 1 297.70,1128.95L296.96,1114.17A260.2,260.2 0 0 0 298.42,1114.09Z" fill="#FDBF6F"/>
<path d="M316.88,1127.30A275,275 0 0 1 315.34,1127.48L313.65,1112.78A260.2,260.2 0 0 0 315.10,1112.61Z" fill="#FDBF6F"/>
<path d="M367.43,1116.28A275,275 0 0 1 365.95,1116.74L361.53,1102.62A260.2,260.2 0 0 0 362.93,1102.18Z" fill="#FDBF6F"/>
<path d="M389.48,1108.18A275,275 0 0 1 388.05,1108.77L382.44,1095.08A260.2,260.2 0 0 0 383.79,1094.52Z" fill="#FDBF6F"/>
<path d="M432.58,1085.58A275,275 0 0 1 409.39,1098.95L402.63,1085.78A260.2,260.2 0 0 0 424.57,1073.13Z" fill="#FDBF6F"/>
<path d="M464.05,1061.99A275,275 0 0 1 454.53,1069.88L445.35,1058.28A260.2,260.2 0 0 0 454.35,1050.81Z" fill="#FDBF6F"/>
<path d="M474.50,1052.44A275,275 0 0 1 473.38,1053.51L463.18,1042.79A260.2,260.2 0 0 0 464.24,1041.77Z" fill="#FDBF6F"/>
<path d="M478.13,1048.88A275,275 0 0 1 477.04,1049.97L466.64,1039.43A260.2,260.2 0 0 0 467.67,1038.40Z" fill="#FDBF6F"/>
<path d="M498.17,1026.55A275,275 0 0 1 491.23,1034.85L480.07,1025.13A260.2,260.2 0 0 0 486.63,1017.28Z" fill="#FDBF6F"/>
<path d="M519.45,996.05A275,275 0 0 1 517.30,999.56L504.74,991.74A260.2,260.2 0 0 0 506.77,988.42Z" fill="#FDBF6F"/>
<path d="M523.42,989.24A275,275 0 0 1 522.14,991.48L509.31,984.10A260.2,260.2 0 0 0 510.52,981.98Z" fill="#FDBF6F"/>
<path d="M529.97,976.88A275,275 0 0 1 529.28,978.26L516.06,971.59A260.2,260.2 0 0 0 516.72,970.28Z" fill="#FDBF6F"/>
<path d="M536.87,961.91A275,275 0 0 1 532.44,971.78L519.06,965.46A260.2,260.2 0 0 0 523.25,956.12Z" fill="#FDBF6F"/>
<path d="M540.18,953.76A275,275 0 0 1 539.62,955.20L525.85,949.77A260.2,260.2 0 0 0 526.38,948.41Z" fill="#FDBF6F"/>
<path d="M542.93,946.38A275,275 0 0 1 542.40,947.83L528.49,942.80A260.2,260.2 0 0 0 528.98,941.42Z" fill="#FDBF6F"/>
<path d="M545.44,938.96A275,275 0 0 1 544.15,942.87L530.13,938.11A260.2,260.2 0 0 0 531.36,934.41Z" fill="#FDBF6F"/>
<path d="M179.78,599.73A275,275 0 0 1 181.50,599.04L187.01,612.77A260.2,260.2 0 0 0 185.38,613.43Z" fill="#A6611A"/>
<path d="M186.32,597.16A275,275 0 0 1 188.05,596.51L193.21,610.38A260.2,260.2 0 0 0 191.56,611.00Z" fill="#FDBF6F"/>
<path d="M191.85,595.13A275,275 0 0 1 193.30,594.62L198.18,608.59A260.2,260.2 0 0 0 196.80,609.08Z" fill="#1F78B4"/>
<path d="M194.73,594.12A275,275 0 0 1 200.11,592.34L204.61,606.44A260.2,260.2 0 0 0 199.52,608.13Z" fill="#A6611A"/>
<path d="M201.80,591.81A275,275 0 0 1 203.28,591.35L207.61,605.50A260.2,260.2 0 0 0 206.22,605.94Z" fill="#33A02C"/>
<path d="M551.60,791.78A275,275 0 0 1 552.39,795.29L537.94,798.47A260.2,260.2 0 0 0 537.19,795.14Z" fill="#1F78B4"/>
<path d="M553.05,798.34A275,275 0 0 1 553.36,799.85L538.85,802.78A260.2,260.2 0 0 0 538.56,801.35Z" fill="#1F78B4"/>
<path d="M553.62,801.17A275,275 0 0 1 554.01,803.20L539.47,805.95A260.2,260.2 0 0 0 539.10,804.03Z" fill="#FF7F00"/>
<path d="M554.55,806.14A275,275 0 0 1 555.40,811.21L540.79,813.53A260.2,260.2 0 0 0 539.98,808.73Z" fill="#1F78B4"/>
<path d="M555.66,812.85A275,275 0 0 1 555.89,814.38L541.24,816.53A260.2,260.2 0 0 0 541.03,815.08Z" fill="#B2DF8A"/>
<path d="M556.00,815.17A275,275 0 0 1 556.29,817.21L541.62,819.21A260.2,260.2 0 0 0 541.35,817.28Z" fill="#0B4F3C"/>
<path d="M556.76,820.83A275,275 0 0 1 557.00,822.88L542.30,824.57A260.2,260.2 0 0 0 542.07,822.63Z" fill="#0B4F3C"/>
<path d="M392.77,601.27A275.5,275.5 0 0 1 394.54,602.03L388.19,616.50A259.7,259.7 0 0 0 386.52,615.78Z" fill="#fff"/>
<path d="M402.41,605.64A275.5,275.5 0 0 1 404.57,606.68L397.64,620.88A259.7,259.7 0 0 0 395.60,619.90Z" fill="#fff"/>
<path d="M408.02,608.39A275.5,275.5 0 0 1 409.73,609.27L402.51,623.32A259.7,259.7 0 0 0 400.89,622.50Z" fill="#fff"/>
<path d="M120.92,658.62A254.6,254.6 0 0 1 122.57,657.26L132.07,668.87A239.6,239.6 0 0 0 130.51,670.15Z" fill="#C8C8C8"/>
<path d="M128.87,652.26A254.6,254.6 0 0 1 130.01,651.40L139.07,663.35A239.6,239.6 0 0 0 138.00,664.17Z" fill="#C8C8C8"/>
<path d="M134.55,648.03A254.6,254.6 0 0 1 135.69,647.22L144.41,659.42A239.6,239.6 0 0 0 143.34,660.19Z" fill="#C8C8C8"/>
<path d="M141.27,643.34A254.6,254.6 0 0 1 149.22,638.18L157.15,650.91A239.6,239.6 0 0 0 149.66,655.77Z" fill="#C8C8C8"/>
<path d="M151.49,636.78A254.6,254.6 0 0 1 153.76,635.41L161.42,648.31A239.6,239.6 0 0 0 159.29,649.59Z" fill="#C8C8C8"/>
<path d="M156.04,634.08A254.6,254.6 0 0 1 158.31,632.78L165.70,645.83A239.6,239.6 0 0 0 163.56,647.05Z" fill="#C8C8C8"/>
<path d="M175.25,624.00A254.6,254.6 0 0 1 178.65,622.43L184.85,636.09A239.6,239.6 0 0 0 181.64,637.57Z" fill="#C8C8C8"/>
<path d="M204.58,612.34A254.6,254.6 0 0 1 206.13,611.84L210.70,626.12A239.6,239.6 0 0 0 209.25,626.59Z" fill="#C8C8C8"/>
<path d="M211.40,610.21A254.6,254.6 0 0 1 214.48,609.32L218.56,623.75A239.6,239.6 0 0 0 215.66,624.59Z" fill="#C8C8C8"/>
<path d="M207.99,611.25A254.6,254.6 0 0 1 211.40,610.21L215.66,624.59A239.6,239.6 0 0 0 212.45,625.57Z" fill="#252525"/>
</svg>
</body></html>
